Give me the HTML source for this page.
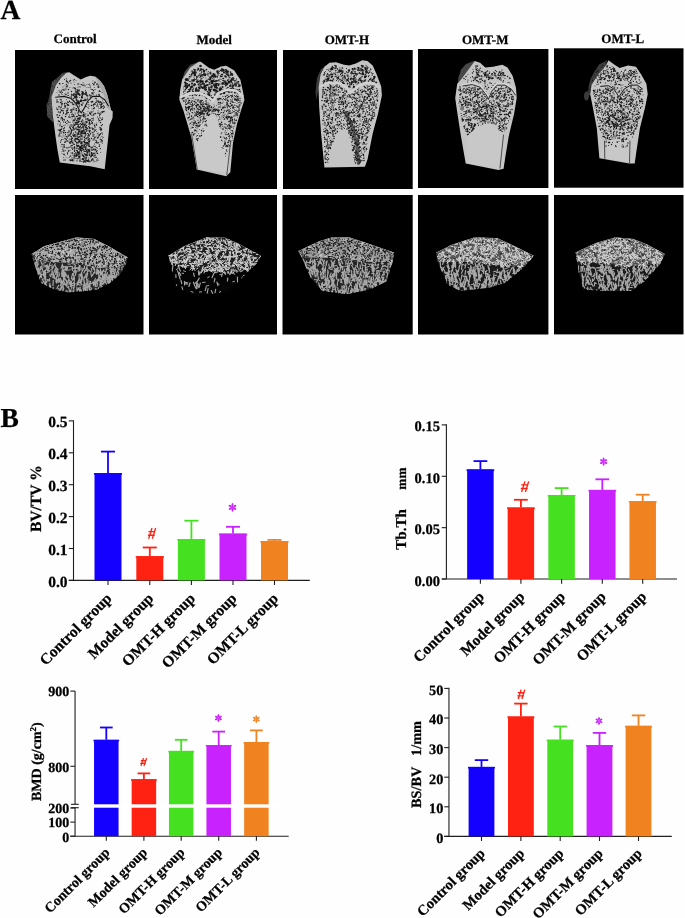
<!DOCTYPE html>
<html><head><meta charset="utf-8"><style>
html,body{margin:0;padding:0;background:#fff;}
svg{display:block;}
text{fill:#000;stroke:#000;stroke-width:0.25px;text-rendering:geometricPrecision}
svg{will-change:transform}
</style></head><body>
<svg width="685" height="918" viewBox="0 0 685 918">
<rect width="685" height="918" fill="#fefefe"/>
<text x="0.5" y="19.4" font-family="Liberation Serif" font-weight="bold" font-size="27.5">A</text>
<text x="75.1" y="43.1" font-family="Liberation Serif" font-weight="bold" font-size="13" text-anchor="middle">Control</text>
<text x="214.3" y="43.8" font-family="Liberation Serif" font-weight="bold" font-size="13" text-anchor="middle">Model</text>
<text x="346.9" y="44" font-family="Liberation Serif" font-weight="bold" font-size="13" text-anchor="middle">OMT-H</text>
<text x="485.2" y="44.4" font-family="Liberation Serif" font-weight="bold" font-size="13" text-anchor="middle">OMT-M</text>
<text x="622.8" y="42.5" font-family="Liberation Serif" font-weight="bold" font-size="13" text-anchor="middle">OMT-L</text>
<rect x="15" y="50" width="128.5" height="139.0" fill="#000"/>
<rect x="149" y="50" width="128.0" height="139.0" fill="#000"/>
<rect x="283" y="50" width="129.7" height="139.0" fill="#000"/>
<rect x="418" y="49" width="130.4" height="139.0" fill="#000"/>
<rect x="554" y="48.3" width="129.5" height="139.4" fill="#000"/>
<rect x="15" y="195" width="128.5" height="139.5" fill="#000"/>
<rect x="149" y="195" width="128.0" height="139.5" fill="#000"/>
<rect x="282.5" y="195" width="130.2" height="139.5" fill="#000"/>
<rect x="418" y="195" width="130.4" height="139.5" fill="#000"/>
<rect x="554" y="195" width="129.5" height="139.4" fill="#000"/>
<polygon points="69.3,72.2 62.8,72.8 56.8,78.2 52.0,81.8 48.4,100.9 46.6,104.5 47.2,116.5 53.2,122.5 51.4,97.3 64.0,74.6" fill="#4c4c4c"/>
<path d="M69 72h0m-5.5 1.5h0m-7 6h0m3 1h0m-6 0.5h0m6 1h0m-8 3h0m5.5 1h0m-1.5 2h0m-5 2.5h0m2.5-0.5h0m-1.5 2h0m2-0.5h0m-2 1.5h0m-1 2h0m-1 1.5h0m1.5 1.5h0m-2 1h0m2 0h0m-1.5 2.5h0m2.5 1.5h0m-5 1h0m1.5 0h0m2.5 5.5h0m0.5 5.5h0m-4 1.5h0m2 1.5h0m3 0h0" stroke="#222" stroke-width="1.20" stroke-linecap="round"/><path d="M64.5 73h0m-4 3h0m0 1h0m0.5 0h0m-1.5 0.5h0m0 2h0m0.5 0h0m0.5 0.5h0m-3 1h0m-5.5 5.5h0m5-0.5h0m-3 1h0m0 1h0m0.5 0h0m-3.5 3h0m0 3h0m-1 2h0m-0.5 1h0m-0.5 2.5h0m0.5 7h0m-2.5 1h0m1 5h0m1.5-1h0m-2.5 1.5h0m1.5 2.5h0m2.5 1.5h0m0.5 0.5h0" stroke="#222" stroke-width="0.60" stroke-linecap="round"/><path d="M58.5 78.5h0m-2.5 3.5h0m0 2.5h0m-3.5 1.5h0m-0.5 6.5h0m-2.5 2.5h0m-0.5 2.5h0m0 3.5h0m-2 3h0m0.5 0h0m1 0.5h0m0.5-1h0m2 0h0m1 5h0m-1 4h0m-1.5 3h0m1.5 4.5h0" stroke="#222" stroke-width="0.90" stroke-linecap="round"/>
<polygon points="66.0,73.0 69.3,72.2 74.7,75.8 80.7,79.4 86.0,77.0 90.3,75.8 95.1,76.4 99.9,80.6 104.0,86.0 107.0,93.7 109.5,104.0 111.0,110.0 112.8,111.5 112.5,118.0 111.0,121.5 109.5,125.0 108.3,136.9 106.5,153.0 104.7,169.2 90.3,166.2 59.8,162.6 57.5,150.0 55.6,136.9 53.0,117.0 51.4,97.3 56.0,85.0 61.0,78.0" fill="#c4c4c4"/>
<polygon points="95.1,76.4 99.9,80.6 104.0,86.0 107.0,93.7 109.5,104.0 111.0,110.0 107.0,108.0 104.5,97.0 100.0,87.0" fill="#a8a8a8"/>
<path d="M64.5 79.5h0m9 0.5h0m1-0.5h0m-8 1.5h0m3 0.5h0m25.5 0.5h0m-26.5 1h0m2.5 0h0m-11 1h0m3-0.5h0m18 1h0m1 0h0m2-0.5h0m5.5 0h0m3-0.5h0m1 1h0m3.5-1h0m1.5 1.5h0m-32 1.5h0m13.5 0h0m5-1h0m5 0h0m-23 1.5h0m11 0h0m2 0h0m10.5 0h0m8 0h0m0.5 0h0m-41.5 0.5h0m15.5 0.5h0m1-0.5h0m0.5 0.5h0m14.5-0.5h0m2 1.5h0m-32 1.5h0m5.5-0.5h0m21 0.5h0m7-1h0m2.5 0h0m-15.5 1.5h0m20 0h0m-39 1.5h0m2 0h0m15.5-1h0m16 1h0m-32.5 0.5h0m30 0h0m-29.5 1.5h0m9.5-0.5h0m2.5-0.5h0m0.5 0.5h0m4-0.5h0m5.5 1h0m-8.5 0.5h0m5 0h0m16 0h0m2.5 0h0m-30.5 0.5h0m11 0h0m11.5 1h0m8.5-1h0m-29.5 1.5h0m20.5 0h0m-8 3.5h0m2-0.5h0m-8 2.5h0m4-1h0m1.5 3.5h0m-3 2h0" stroke="#1a1a1a" stroke-width="1.10" stroke-linecap="round"/><path d="M66.5 78.5h0m0 0.5h0m3.5 1.5h0m6 0h0m17 0.5h0m-26 1h0m7 0h0m9 0.5h0m-20.5 1h0m12 1h0m4.5-0.5h0m2.5 0.5h0m5.5 0h0m1.5 0h0m-23.5 1.5h0m20 0.5h0m9-1h0m4 0.5h0m-35 1h0m36 0h0m-33 1h0m4-0.5h0m5.5 0.5h0m11.5-0.5h0m7.5 0h0m4 0h0m-33.5 1.5h0m1 0h0m-2.5 1.5h0m2.5-0.5h0m11-0.5h0m14.5 0h0m-34.5 3h0m24.5-1h0m1 1h0m16.5-1h0m1.5 0h0m1.5 1h0m-27 0.5h0m-10 0.5h0m11 1h0m6-1h0m-17 1.5h0m7 0h0m-4.5 0.5h0m14 1h0m6.5-0.5h0m-0.5 1h0m2.5 0h0m-16.5 1.5h0m1.5 0h0m4.5-1h0m5.5 0.5h0m-11 2.5h0m6.5 0h0m-3 0.5h0m0.5 3h0" stroke="#1a1a1a" stroke-width="0.70" stroke-linecap="round"/><path d="M70.5 80.5h0m-4 0.5h0m1 1h0m27.5 0.5h0m-35.5 1h0m7 1h0m11.5-0.5h0m16 0h0m3 0.5h0m-29.5 1.5h0m15.5-0.5h0m15 1.5h0m-23 1.5h0m0.5 0.5h0m-12.5 0.5h0m5.5 0h0m9 0.5h0m1 0.5h0m0.5-0.5h0m14.5 0.5h0m-32 0.5h0m14 0h0m24 0h0m-39.5 1h0m11.5-0.5h0m5.5 0h0m6 1h0m-15 0.5h0m24.5 0h0m-26.5 1.5h0m11-0.5h0m2.5 0.5h0m5.5-1h0m0.5 0.5h0m1 0h0m6.5 0h0m6 0.5h0m-40 0.5h0m12.5 0h0m2 0h0m16 0h0m1.5 0.5h0m-19.5 1.5h0m2 1.5h0m14 0.5h0m-4 1.5h0m1 0h0m1.5-0.5h0m-9 2.5h0m4.5 2h0m0.5 0.5h0" stroke="#1a1a1a" stroke-width="1.50" stroke-linecap="round"/>
<path d="M76 92.5h0m3 1.5h0m4.5-0.5h0m2 1h0m-3 0.5h0m-0.5 1h0m-1 4h0m-3 1.5h0m2 0h0m3 1.5h0m-3.5 3h0" stroke="#1a1a1a" stroke-width="1.40" stroke-linecap="round"/><path d="M82.5 92h0m3.5 0.5h0m-10 2h0m0.5 1.5h0m10.5-0.5h0m-10.5 4.5h0m9 0h0m-7 2h0" stroke="#1a1a1a" stroke-width="1.85" stroke-linecap="round"/><path d="M77.5 92.5h0m1 1.5h0m4 0h0m-9 1h0m1.5 2h0m1.5 0.5h0m5.5 0h0m-1 3.5h0m-3.5 1.5h0m0.5-1h0m0.5 1h0m-1.5 0.5h0m2 0.5h0" stroke="#1a1a1a" stroke-width="2.30" stroke-linecap="round"/>
<path d="M96 98.5h0m-39 1.5h0m4 0h0m37 1h0m-40 1h0m2.5 0.5h0m7-0.5h0m2-0.5h0m0 0h0m1.5 1h0m20.5-0.5h0m1-0.5h0m4 0.5h0m2 0h0m1.5 0h0m0.5 0h0m-28 1h0m-10.5 1.5h0m0 0h0m0-1h0m2.5 0h0m3 1h0m0.5 0h0m5 0h0m0.5 0h0m20 0h0m1-0.5h0m0.5 0h0m6 0.5h0m0.5-0.5h0m0.5-0.5h0m0 0.5h0m-4.5 1h0m-38.5 1.5h0m6 0h0m0-0.5h0m21 0.5h0m5.5-1h0m9.5 0.5h0m-35.5 1h0m36 0h0m2.5 0h0m-10.5 1.5h0m-36 1h0m4 1h0m1.5 0h0m4.5 0h0m0 0h0m3.5-0.5h0m5 0h0m0.5 0.5h0m-10 0.5h0m-8 1h0m2 0h0m6.5 0.5h0m4 0h0m21-0.5h0m11-0.5h0m1 0h0m-37 1.5h0m34 0h0m-35 1h0m6 0.5h0m11.5-0.5h0m0.5 0.5h0m6-1h0m0 0h0m4 0.5h0m1.5-0.5h0m4 0.5h0m-42.5 1h0m21.5 0h0m5.5 0h0m9.5 0h0m-34 0.5h0m6 1h0m6.5 0h0m1 0h0m3.5 0h0m2.5-1h0m1 0h0m3 0h0m0.5 1h0m4.5-1h0m-3 1.5h0m-23.5 0.5h0m0.5 1h0m16 0h0m2-0.5h0m12 0.5h0m-16.5 0.5h0m10.5 0h0m2 0h0m10.5 0h0m-36 1h0m1.5-0.5h0m12.5 1h0m6-0.5h0m6.5 0.5h0m1-0.5h0m9.5 0.5h0m2.5-1h0m-43.5 1.5h0m1 0.5h0m9 0.5h0m7.5 0.5h0m1 0h0m1-0.5h0m0 0.5h0m1-1h0m10.5 0.5h0m11 0.5h0m-25 0.5h0m14 0h0m-13.5 1.5h0m5.5 0h0m1-0.5h0m7.5 0h0m2-0.5h0m-32 1.5h0m36.5 0h0m-34.5 1.5h0m24.5-1h0m8 0h0m7 0h0m-28 1.5h0m21.5 0h0m-25 0.5h0m0.5 1h0m5.5-0.5h0m10.5 0h0m3-0.5h0m2.5 0.5h0m8-0.5h0m1 1h0m-39.5 0.5h0m12.5 0h0m19 0h0m-34 1h0m1 0h0m1-0.5h0m10.5 1h0m0.5-0.5h0m28.5-0.5h0m1 0h0m-41 1.5h0m26 0h0m-23 1.5h0m2 0h0m10-0.5h0m4-0.5h0m1.5 1h0m3-1h0m18 1.5h0m-42.5 1h0m11 0h0m8-0.5h0m3 0h0m4 0h0m14.5 1h0m-30.5 0.5h0m29.5 0h0m-40 1h0m9.5 0h0m6.5 0.5h0m6-0.5h0m-14 1h0m-2 1.5h0m22-0.5h0m2 0.5h0m2.5 0h0m3.5-1h0m2.5 0.5h0m0.5-0.5h0m-22 1.5h0m6 0h0m12 0h0m-15.5 0.5h0m6 0.5h0m3.5 0h0m8 0.5h0m5.5-0.5h0m0.5 0.5h0m-34.5 0.5h0m-2.5 1h0m6.5-0.5h0m0 0h0m4 0h0m9 0.5h0m0 0.5h0m1.5 0h0m0 0h0m3-1h0m7 1h0m2 0h0m-10.5 0.5h0m1.5 0h0m-27 1.5h0m25-1h0m-23 1.5h0m35.5 0h0m-27.5 0.5h0m7 1h0m2.5-1h0m2.5 1h0m0.5-1h0m10.5 1h0m-31 0.5h0m22 0h0m-19 1h0m5 0h0m13.5 0h0m-11 2h0m6-0.5h0m5 0h0m3.5 0.5h0m3 0h0m1.5-0.5h0m2 0h0m-32 1.5h0m5 0h0m6 0h0m3 0h0m0 1h0m0-0.5h0m1 1h0m10.5-1h0m7.5 0h0m-29 1.5h0m5 0h0m4.5 0h0m1.5 0h0m-14.5 1.5h0m21.5 0h0m1.5-0.5h0m4.5-0.5h0m6 0h0m-15 1.5h0m-12 1h0m5.5 0.5h0m2.5 0h0m1.5-0.5h0m3-0.5h0m3 0h0m5.5 0h0m0.5 0h0m3 0h0m-21 2.5h0m12-0.5h0m0 0h0m10 0h0m-16 1.5h0m5.5 0h0m-20.5 1h0m5 0h0m0.5 0h0m0 0.5h0m1.5 0h0m11.5-1h0m9.5 0.5h0m-13 1h0m3.5 1h0m1-0.5h0m1 0.5h0m4.5-0.5h0" stroke="#1a1a1a" stroke-width="1.50" stroke-linecap="round"/><path d="M95 98h0m-34 1h0m-1 0.5h0m6.5 0h0m36 0.5h0m-46 2.5h0m32 0h0m0 0h0m2.5-1h0m1 0.5h0m1 0h0m7 0.5h0m0-1h0m3 0.5h0m1 0.5h0m-38.5 0.5h0m38.5 0h0m-29.5 1h0m13.5 0.5h0m1 0h0m6 0h0m2.5-1h0m-36 1.5h0m3 0h0m0 0h0m11 0h0m-10 0.5h0m1.5 0h0m2 0h0m24 0h0m-32 1.5h0m-2 0.5h0m1.5 0h0m1 0h0m1.5 1h0m0 0h0m4.5-0.5h0m21 0.5h0m6-1h0m4 0.5h0m2-0.5h0m0.5 0h0m-44 1.5h0m2 0h0m14.5 0h0m18.5 0h0m-24 0.5h0m3 0h0m1 0.5h0m2 0h0m4.5 0h0m19.5 0.5h0m-25.5 0.5h0m21 0h0m-33.5 1.5h0m3-1h0m25 0h0m1.5 1h0m2-0.5h0m7.5 0h0m2.5-0.5h0m-29 1.5h0m12 0h0m-27 1.5h0m8 0h0m10-0.5h0m11.5 0h0m4.5 0h0m-29 1h0m20.5 0h0m5.5 0h0m-14.5 1.5h0m7.5-0.5h0m3-0.5h0m0.5 0h0m1 1h0m-16 0.5h0m11 0h0m-18.5 1h0m0 0.5h0m0-0.5h0m7-0.5h0m5.5 0h0m27.5 0h0m-42 1.5h0m11.5 0h0m2.5 0h0m19 0h0m8.5 0h0m-39.5 1.5h0m10.5 0h0m1-1h0m5.5 0.5h0m6.5 0h0m2.5 0.5h0m3.5 0h0m1 0h0m8 0h0m-17.5 0.5h0m15 0h0m-34.5 1h0m14 0.5h0m7.5-1h0m2 1h0m-1.5 0.5h0m10.5 0h0m-38.5 1h0m8.5-0.5h0m9.5 1h0m7.5 0h0m5.5 0h0m1-0.5h0m3 0h0m2 0h0m-29.5 1h0m2.5 0h0m5 0h0m0.5 0h0m16 0h0m-29.5 1h0m13.5 0h0m1.5-0.5h0m9.5 0h0m-15 1.5h0m1 1.5h0m4.5 0h0m19 0h0m-1 0.5h0m7 0h0m-42 1h0m1.5 0.5h0m4.5-0.5h0m4.5 0.5h0m2.5-1h0m0 0h0m7 0h0m0.5 0.5h0m0-0.5h0m4.5 1h0m9.5-1h0m1.5 0.5h0m-6 1h0m-28.5 1h0m0.5 0h0m11-0.5h0m10.5 1h0m4.5-1h0m7 1h0m0.5-0.5h0m3-0.5h0m-36 1.5h0m21.5 0h0m-5.5 1h0m2 0h0m6-0.5h0m1.5 0.5h0m2.5-0.5h0m0 1h0m4-0.5h0m1 0h0m4-0.5h0m5 1h0m-39.5 0.5h0m11.5 0h0m0 0h0m3 0h0m19.5 0h0m-36.5 1h0m5 0h0m2 0h0m8.5 0.5h0m1-1h0m5.5 0.5h0m7 0h0m3 0h0m1 0h0m2.5 0.5h0m-29 2h0m0.5-0.5h0m4-0.5h0m7 0.5h0m22 0h0m2 0h0m1-0.5h0m-38 1.5h0m0.5 1h0m13.5 0.5h0m14.5-0.5h0m6-0.5h0m1 0.5h0m-35 1h0m0.5 0h0m7.5 0h0m27.5 0h0m-37 1.5h0m4.5-1h0m1 1h0m17.5 0h0m2-1h0m7 1h0m3.5-0.5h0m1 0h0m0.5 0h0m-32 1h0m9 0h0m-15.5 1.5h0m1.5 0h0m17.5 0h0m6.5 0h0m8.5-1h0m-8 1.5h0m-28 1.5h0m3.5 0h0m7-0.5h0m0.5-0.5h0m13 0.5h0m14 0.5h0m-30 0.5h0m-3 0.5h0m2.5 0h0m27.5 0.5h0m0.5-0.5h0m1 0.5h0m-35 1h0m0.5 0h0m17 0h0m13.5 0h0m6.5 0h0m-37.5 0.5h0m1.5 0.5h0m1.5 0.5h0m3.5-0.5h0m11.5 0h0m7.5-0.5h0m4 1h0m2.5 0h0m1.5 0h0m1.5 0h0m-32.5 0.5h0m-3 0.5h0m6.5 0h0m9.5 1h0m6.5-1h0m0.5 0h0m6.5 1h0m4.5 0h0m4.5 0h0m-29.5 0.5h0m16 0h0m-25 0.5h0m2 0.5h0m3.5-0.5h0m17 0h0m0.5 0.5h0m10.5 0h0m-23 1h0m-7.5 0.5h0m14 1h0m5 0h0m10-1h0m-20 1.5h0m4.5 0h0m6.5 0h0m11 0h0m-32.5 0.5h0m2.5 0h0m2 0.5h0m4-0.5h0m0 1h0m4 0h0m0 0h0m14-0.5h0m4.5-0.5h0m3 1.5h0m0.5 0h0m-26.5 1h0m5.5 0.5h0m3 0h0m5 0h0m3 0h0m-8 0.5h0m1.5 0.5h0m7.5 0.5h0" stroke="#1a1a1a" stroke-width="0.70" stroke-linecap="round"/><path d="M96.5 100h0m-27 1h0m28.5 0h0m-41 0.5h0m4.5 0.5h0m0.5-0.5h0m6.5 1h0m27 0h0m3.5 0h0m2.5 0h0m-39.5 1h0m4.5 0h0m33 0.5h0m0.5 0h0m-32.5 1h0m33.5 0h0m-39.5 1h0m7-0.5h0m20.5 0.5h0m4.5 0h0m3 0h0m1.5 0.5h0m4.5 0h0m1-1h0m-2 1.5h0m3 0h0m-48 1h0m8 0h0m3.5 0.5h0m6-1h0m2 1h0m0.5 0h0m11.5-1h0m6.5 0.5h0m5.5 0.5h0m2-0.5h0m1.5 0.5h0m-43 0.5h0m6.5 0h0m6 0h0m1 0h0m-12.5 1h0m9.5 0.5h0m1-1h0m6.5 1h0m-15 2h0m4.5 0h0m0.5 0h0m3-1h0m6.5 1h0m0-0.5h0m0.5-0.5h0m0.5 0h0m0 0.5h0m4.5 0.5h0m7-0.5h0m12 0.5h0m0-0.5h0m-42.5 1h0m3.5 0h0m11.5 0h0m22.5 0h0m1 0h0m-35 0.5h0m3.5 0.5h0m6.5 0.5h0m4.5-1h0m7.5 0.5h0m4.5-0.5h0m0.5 1h0m0-1h0m10 1h0m-31 0.5h0m-0.5 1.5h0m4.5-1h0m1 0.5h0m2 0.5h0m1 0h0m3-0.5h0m0.5-0.5h0m11 0h0m7.5 0h0m-41.5 1.5h0m10.5 0h0m29 0h0m2 0h0m-42 0.5h0m1 0h0m11.5 0h0m9 0h0m8.5 1h0m6-0.5h0m7 0h0m-13 1h0m15 0h0m-38 1h0m3 0.5h0m21-0.5h0m1.5 0h0m0.5 0h0m2.5 0h0m-26 1h0m14.5 0h0m6 0h0m-24 1h0m2 0h0m0 0.5h0m4.5 0h0m12-0.5h0m4.5-0.5h0m5 0h0m0.5 1h0m0.5 0h0m-32 0.5h0m0 0h0m23.5 0h0m2 0h0m-19 0.5h0m10 0.5h0m2.5 0h0m1-0.5h0m8.5 0h0m0.5 0h0m7 1h0m6 0h0m-30.5 0.5h0m8.5 0h0m0 0h0m-19 1.5h0m2.5-1h0m6 0.5h0m1 0h0m17.5 0.5h0m13-1h0m-39.5 1.5h0m20.5 0h0m7 0h0m-26 1.5h0m1-0.5h0m0-0.5h0m9 1h0m3.5-0.5h0m3-0.5h0m1.5 0h0m5 0h0m3.5 0.5h0m-29.5 2.5h0m3-0.5h0m1 0.5h0m15.5-1h0m10 0.5h0m4.5 0h0m1 0.5h0m0.5-1h0m5 1h0m-37 0.5h0m5.5 0h0m-7.5 0.5h0m1.5 1h0m5-0.5h0m3-0.5h0m7 1h0m0.5-1h0m3.5 0h0m7 0h0m1.5 0.5h0m1.5 0.5h0m2-1h0m-33 1.5h0m2.5 0h0m14 0h0m20 0h0m-32.5 1.5h0m2.5-0.5h0m13-0.5h0m4.5 0h0m2 0h0m3 0.5h0m3.5 0.5h0m6.5-1h0m-41.5 1.5h0m5 1h0m2.5 0.5h0m5 0h0m2-0.5h0m1.5-0.5h0m2 0.5h0m2.5 0.5h0m1.5-0.5h0m4 0.5h0m8-0.5h0m1 0h0m5 0h0m0.5-0.5h0m2.5 1h0m-40 0.5h0m16 0h0m20.5 0h0m-20 0.5h0m16 0.5h0m-23 1h0m-10.5 1.5h0m0.5-1h0m1.5 0h0m3.5 0h0m5 0.5h0m0.5 0.5h0m2.5-0.5h0m0.5 0h0m0.5 0h0m4.5 0h0m13 0h0m8-0.5h0m-40 1.5h0m18 0h0m23.5 0h0m-42 1.5h0m5-0.5h0m19-0.5h0m0.5 1h0m11.5-1h0m1.5 1.5h0m4.5 0h0m-28 1.5h0m0 0h0m14-1h0m0.5 1h0m5.5-0.5h0m-7 1h0m-17 1h0m23 0h0m6 0.5h0m-36.5 0.5h0m1.5 0h0m26 0h0m-20.5 0.5h0m3 0.5h0m3 0h0m9-0.5h0m15.5 1h0m-10.5 0.5h0m4.5 0h0m-24.5 1.5h0m2.5-1h0m6.5 0h0m1 1h0m7-0.5h0m2 0h0m7 0h0m-14.5 1h0m-7 0.5h0m9.5 0h0m1.5 0h0m0 0h0m-13.5 1.5h0m17 0h0m8 0h0m-29.5 1h0m17.5 0.5h0m1.5 0h0m5.5 0h0m0-1h0m-0.5 1.5h0m-14 0.5h0m1 1h0m5 0h0m9-1h0m1.5 1h0m-24.5 0.5h0m8.5 1.5h0m1.5-1h0m13.5 1h0m-9.5 0.5h0m-20 1h0m10.5 0h0m9.5 0h0m1.5 0.5h0m11.5-0.5h0m1.5 0.5h0m-25 0.5h0m4 0h0m11 0h0m6 0h0m-11 0.5h0m6 0h0" stroke="#1a1a1a" stroke-width="1.10" stroke-linecap="round"/>
<path d="M74 120.5h0m-1.5 1.5h0m1.5 0h0m1.5 0.5h0m9.5-0.5h0m-1 1h0m-10.5 1h0m2.5 0.5h0m7.5-0.5h0m-9 1h0m-2.5 1.5h0m6.5-1h0m7 1h0m0.5-0.5h0m-12 4h0m1-0.5h0m4 0.5h0m5 0.5h0m0.5-0.5h0m-5 1h0m-12 1.5h0m9.5 0h0m1.5-1h0m0.5 0.5h0m2.5-0.5h0m4 1h0m4 0h0m-11.5 2h0m0-0.5h0m0.5 0.5h0m3 0.5h0m1 0h0m6.5 0h0m0.5 0h0m-16 1.5h0m8-1h0m6.5 0h0m1 0.5h0m-14 2h0m2.5 0h0m-8 1h0m15 0h0m-15.5 1h0m5 0h0m1-0.5h0m4 0.5h0m1 0h0m5 0.5h0m4-1h0m1 0.5h0m-17 2h0m4 0h0m1.5-0.5h0m0 0.5h0m1 0.5h0m-7 0.5h0m4 1.5h0m7.5-0.5h0m3 0.5h0m0 0.5h0m-12.5 2h0m0 1.5h0m4 0h0" stroke="#1a1a1a" stroke-width="0.80" stroke-linecap="round"/><path d="M74 120h0m4 0.5h0m8.5 2h0m-4 0.5h0m0 0h0m-11.5 1.5h0m3.5-0.5h0m2.5-0.5h0m5 1h0m2 0h0m1 0.5h0m-10.5 0.5h0m3.5 1h0m1 0h0m1.5 0h0m3.5 0h0m-1 0.5h0m-3.5 0.5h0m1.5 1h0m4.5-1h0m2 1h0m-14.5 1.5h0m13-0.5h0m2 0.5h0m2 0.5h0m-21 1.5h0m2.5 0h0m12.5 0.5h0m-10.5 0.5h0m6.5 0h0m-2.5 1h0m1.5 0.5h0m1.5 0h0m10-1h0m-20 2.5h0m7.5 0.5h0m3.5 0h0m-2 0.5h0m3.5 0h0m1.5 0h0m-12 1h0m8 0h0m4-0.5h0m-13.5 1.5h0m6 0h0m0.5 0h0m-6.5 0.5h0m7 0h0m3 0h0m8 0h0m-19.5 3h0m1-1h0m1.5 0.5h0m0.5 0.5h0m4 0h0m1.5 0h0m1.5-1h0m2.5 0h0m4.5 1.5h0m-12 4h0m5 0h0m1.5 0h0m2 0h0m-9 1h0m7 0h0m2-0.5h0" stroke="#1a1a1a" stroke-width="1.25" stroke-linecap="round"/><path d="M78 118.5h0m2-0.5h0m-2 1h0m1.5 0h0m-5.5 1.5h0m4.5 1h0m3 0h0m-3.5 3h0m7 0h0m-7 2h0m5-0.5h0m-10 1.5h0m6 0h0m4.5 0.5h0m3-0.5h0m3 0.5h0m-12.5 1.5h0m1 0h0m0 0h0m1 0.5h0m4.5 0h0m0 0h0m2.5-0.5h0m-5 1.5h0m1 0h0m0.5 0h0m7 0h0m-7.5 1h0m3 0.5h0m-14 0.5h0m11.5 0h0m-7.5 1.5h0m9-1h0m-11 1.5h0m12.5 0h0m3 0h0m-14.5 0.5h0m14 1.5h0m-16 1.5h0m3.5 0h0m1.5 0h0m9 0h0m-6.5 2.5h0m10 0h0m-8.5 1h0m3-0.5h0m3 1h0m0 0h0m2-1h0m-18.5 1.5h0m6.5 0h0m5 0h0m-8.5 1h0m7.5-0.5h0m4.5 0.5h0m-1.5 1h0m-7 0.5h0m1.5 0h0m3.5 0h0m-1.5 2.5h0m1.5 0.5h0" stroke="#1a1a1a" stroke-width="1.70" stroke-linecap="round"/>
<path d="M86 146.5h0m0.5-1h0m-9.5 1.5h0m-2.5 0.5h0m5 0h0m3 1h0m4 0.5h0m1 0h0m4 0h0m-14.5 1.5h0m3.5 0h0m2-0.5h0m1.5 0.5h0m0-0.5h0m-4 1h0m9 0h0m-13.5 1.5h0m10-1h0m-4.5 1.5h0m0.5 0h0m1.5 0h0m6.5 0h0m2.5 0h0m-18 1h0m4-0.5h0m0.5 0.5h0m2 0h0m3.5 0h0m-2 1h0m4 0h0m1 0h0m-13 1h0m0.5 1h0m10 0h0m-6.5 1.5h0m10.5-0.5h0m-11 1h0m9 1.5h0m2-0.5h0m0 0h0m3-0.5h0m0.5 0h0m2 2.5h0m2-0.5h0" stroke="#1a1a1a" stroke-width="0.80" stroke-linecap="round"/><path d="M82 146h0m7.5 0.5h0m-15 0.5h0m7 0h0m-4.5 1.5h0m3.5-0.5h0m0.5 0.5h0m2-0.5h0m2-0.5h0m-8.5 3h0m7-1h0m3 1h0m3 0.5h0m-10 1h0m-4.5 1.5h0m3.5 0.5h0m-2.5 1.5h0m0.5 0h0m7.5 2.5h0m0 0.5h0m2.5-0.5h0m6 1h0m-10 0.5h0m9 1h0m-6.5 0.5h0" stroke="#1a1a1a" stroke-width="1.30" stroke-linecap="round"/><path d="M77.5 146h0m11.5 0h0m-8.5 1h0m-0.5 1.5h0m12-1h0m-10.5 3h0m7-0.5h0m1 1h0m0 0h0m-10.5 1.5h0m8-1h0m0.5 1h0m4 0.5h0m-15 1.5h0m2.5-0.5h0m15-0.5h0m-17 1.5h0m12.5 0h0m3 0h0m-18 0.5h0m4.5 1h0m4.5-0.5h0m3.5-0.5h0m0 0h0m4 1h0m-11.5 0.5h0m3 2h0m-10 1h0m14 0.5h0m2 0h0m-1 0.5h0" stroke="#1a1a1a" stroke-width="1.80" stroke-linecap="round"/>
<polyline points="55.6,97.3 64.0,96.4 71.1,98.5 75.9,103.3 79.5,110.5 81.3,112.9 84.3,108.1 87.9,100.9 92.7,96.4 99.9,96.4 104.7,99.7 108.3,105.7" fill="none" stroke="#151515" stroke-width="1.1" stroke-linejoin="round" stroke-linecap="round"/>
<polygon points="198.8,61.7 190.1,65.0 184.7,71.7 182.1,79.8 183.4,83.8 188.8,73.1 196.8,65.0" fill="#4a4a4a"/>
<polygon points="200.8,61.7 208.9,67.7 214.2,69.7 220.9,66.4 226.3,65.7 234.3,70.4 240.4,79.8 243.0,91.8 244.4,99.9 241.0,110.6 237.0,124.0 233.0,142.8 230.3,172.2 226.3,176.3 196.8,169.6 191.4,137.4 183.4,110.6 179.4,99.9 180.1,90.5 182.1,79.8 190.1,67.7 198.8,61.7" fill="#c4c4c4"/>
<path d="M198.5 68.5h0m-4 1.5h0m1 0h0m2 0h0m1-0.5h0m4.5 0h0m3.5 0h0m17 0h0m3 0.5h0m-34.5 1h0m30 0h0m-29.5 1h0m2-0.5h0m23 1h0m9.5-0.5h0m-35.5 2.5h0m0.5-1h0m8 0.5h0m3.5 0.5h0m4.5-0.5h0m14.5 0.5h0m5.5-0.5h0m4.5 0.5h0m-38 0.5h0m9 0h0m24 0h0m5 0h0m-41.5 1h0m9.5 0.5h0m11.5 0h0m9 0h0m4 0h0m1 0h0m-2.5 2h0m9-0.5h0m-36 1h0m4.5 0h0m-15 0.5h0m1.5 0.5h0m4.5 0h0m2-0.5h0m12.5 1h0m3-1h0m3 1h0m1 0h0m3.5 0h0m2-0.5h0m4 0.5h0m4.5 0h0m5.5-1h0m2 1h0m-43 0.5h0m19.5 0h0m12.5 0h0m-34 0.5h0m8.5 0h0m7 0h0m1 0h0m8 0h0m24 0.5h0m-15 1h0m4.5 0h0m9 0h0m-47.5 1.5h0m11.5 0h0m13-0.5h0m5 0h0m6 0.5h0m13.5-0.5h0m-45 1h0m23 0h0m17.5 0h0m-49 1.5h0m1.5 0h0m8-1h0m6 0.5h0m0.5 0.5h0m4 0h0m7-0.5h0m6.5-0.5h0m7.5 0h0m4.5 0h0m2 0.5h0m1 0h0m0-0.5h0m5.5 1h0m-37.5 0.5h0m0 0h0m9.5 0h0m5.5 0h0m-30.5 1h0m0.5 0h0m10 0h0m12.5-0.5h0m8 1h0m4.5 0h0m5 0h0m1.5-1h0m2.5 1h0m-45 1h0m4 0h0m0 1h0m3-0.5h0m3 0h0m13.5 0h0m6.5 0h0m0 0.5h0m4-1h0m3.5 0.5h0m3-0.5h0m2 0.5h0m10 0h0m-48 1h0m20 0h0m10 0h0m-32.5 1h0m2-0.5h0m6 0.5h0m12-0.5h0m3 0h0m10 0h0m5.5 0h0m3 1h0m3-1h0m4.5 1h0m2-0.5h0m-51 1h0m8.5 0h0m0.5 0h0m22.5 0h0m-19 1.5h0m4-1h0m4 0.5h0m7 0h0m5.5 0h0m0.5 0h0m0.5-0.5h0m-22 2h0m3 0h0m0 0h0m5 1h0m1.5-0.5h0m1 0h0m-3.5 2.5h0m5-1h0m0 1h0" stroke="#1a1a1a" stroke-width="1.60" stroke-linecap="round"/><path d="M197.5 68h0m5.5 1h0m22 1.5h0m1 0h0m-7 0.5h0m-25 1.5h0m0-0.5h0m13 0h0m1.5-0.5h0m11 0h0m2.5 0h0m-20.5 1.5h0m7.5 0h0m-19.5 1.5h0m16.5 0h0m1.5-0.5h0m2.5 0h0m0.5 0h0m1.5 0.5h0m7.5-1h0m7 1h0m-28 0.5h0m9 0h0m-9.5 1h0m0.5 0h0m1.5-0.5h0m8.5 0.5h0m22-0.5h0m-41.5 1.5h0m13 0h0m26.5 0h0m-39 1h0m5 0.5h0m9-1h0m2.5 0.5h0m6.5 0.5h0m1-1h0m4 0h0m2.5 0.5h0m2.5 0.5h0m1 0h0m9.5-0.5h0m-44 1h0m-3.5 1h0m12.5-0.5h0m13.5 0.5h0m21-0.5h0m-25 1.5h0m4.5 0h0m24.5 0h0m-31 0.5h0m3 0.5h0m7 0h0m4.5-0.5h0m4 1h0m7.5 0h0m3.5-0.5h0m2.5-0.5h0m-34.5 1.5h0m0 0h0m0.5 0h0m6 0h0m0.5 0h0m1.5 0h0m20.5 0h0m-39 1h0m7 0.5h0m9-0.5h0m6.5 0h0m2-0.5h0m0.5 0h0m12.5 1h0m2.5-0.5h0m3.5 0h0m-49.5 1h0m24 0h0m21.5 0h0m3 0h0m-48.5 0.5h0m31 0h0m13.5 0.5h0m1.5-0.5h0m3.5 0h0m3 0.5h0m-31 1h0m1.5 0h0m10.5 0h0m-37 1h0m10 0h0m3 0h0m6 0h0m1-0.5h0m0 0.5h0m2 0h0m13.5 0.5h0m8.5-0.5h0m-15.5 1h0m2.5 0h0m5.5 0h0m-36 1h0m4.5-0.5h0m0.5 0h0m16.5 0h0m4.5 0h0m1.5 0h0m9 0h0m0.5 0h0m4.5 0.5h0m-16.5 1h0m-25.5 0.5h0m0 1h0m9.5-1h0m22 0h0m1 0.5h0m14.5 0h0m1.5 0.5h0m3 0h0m1-0.5h0m-26 1h0m12 0h0m-35.5 1.5h0m6.5-1h0m2 1h0m8-0.5h0m4.5 0h0m12.5 0h0m-4.5 1h0m-13 0.5h0m9 0h0m3.5 0h0m-9.5 1.5h0m2.5 0h0m-2 0.5h0m5.5 0.5h0m1.5 0h0m-3.5 1h0m1.5 1.5h0" stroke="#1a1a1a" stroke-width="0.80" stroke-linecap="round"/><path d="M200.5 65.5h0m-0.5 5h0m6-0.5h0m19.5-0.5h0m1 0.5h0m-27 1h0m28 0h0m-17 1h0m20 0.5h0m-38 0.5h0m11.5 0h0m24 0h0m-13 1h0m-23 1h0m8 0h0m22 0h0m8 0h0m1.5 0h0m1 0h0m-43 1.5h0m7 0h0m0 0h0m3.5-1h0m1.5 0h0m0.5 1h0m0 0h0m10-0.5h0m1.5-0.5h0m4 1h0m7.5-1h0m-34.5 1.5h0m3.5 0h0m35.5 0h0m-33 0.5h0m3.5 0h0m2 1h0m12-1h0m12 0h0m4 0h0m1.5 1h0m1.5-1h0m0.5 1h0m0.5 0h0m-45.5 0.5h0m20 0h0m5.5 0h0m15 0h0m4 0h0m3.5 0h0m-50 1.5h0m1-1h0m0.5 1h0m6 0h0m1.5-1h0m12.5 0h0m6 0.5h0m4 0.5h0m3-1h0m12 0.5h0m1 0.5h0m-16 0.5h0m-12 1h0m1-0.5h0m2.5 1h0m15.5-1h0m10 0.5h0m2 0.5h0m1.5-1h0m-52 1.5h0m36 0h0m10 0h0m-47 1h0m2-0.5h0m0.5 1h0m6.5-1h0m3.5 0.5h0m1.5-0.5h0m2.5 1h0m7 0h0m1-0.5h0m5 0h0m3.5 0.5h0m1.5-0.5h0m12 0h0m3-0.5h0m-48.5 1.5h0m17.5 0h0m-20 1.5h0m4.5-1h0m1 0h0m3.5 0.5h0m6 0.5h0m0-1h0m13 0.5h0m2.5-0.5h0m11 0.5h0m10 0h0m1.5 0.5h0m-32 0.5h0m-18.5 1.5h0m4-1h0m8 0h0m3 0h0m5 0h0m8 0h0m3 0h0m2.5 0h0m-27 1.5h0m0.5 0h0m27 0h0m-24 1.5h0m30-1h0m-42 1.5h0m0.5 0h0m31.5 0h0m4.5 0h0m13.5 0h0m1.5 0h0m4 0h0m-47 0.5h0m15 0.5h0m7.5 0h0m2-0.5h0m6 1h0m1.5-0.5h0m6.5 0h0m3 0.5h0m5-1h0m1 0.5h0m-52 1h0m4 0h0m4 0h0m4.5 0h0m16 0h0m4 0h0m-23.5 1h0m20.5-0.5h0m2.5 0.5h0m-30.5 1.5h0m6.5 0h0m6 0h0m2.5 1h0m12-1h0m-4 2.5h0m1.5 0h0m-4 2.5h0m0-1h0" stroke="#1a1a1a" stroke-width="1.20" stroke-linecap="round"/>
<path d="M194 69.5h0m26.5 1h0m-26 2h0m7-0.5h0m29 0h0m-26.5 1h0m17.5 1.5h0m4.5-1h0m1 1h0m4-0.5h0m0.5 0h0m-13.5 1h0m-3.5 0.5h0m6 0.5h0m1.5 0.5h0m-24.5 0.5h0m13 1.5h0m21 0.5h0m-43.5 1.5h0m40-0.5h0m-21 1h0m18 0h0m-27.5 1h0m8.5 0h0m-7.5 2.5h0m3 0h0m1-1h0m20.5 0.5h0m2.5-0.5h0m-11.5 1.5h0m-24.5 1h0m13 1.5h0m2 1.5h0m16.5 0h0m14.5 0.5h0m4 0h0m-11.5 1.5h0m-39.5 0.5h0m4.5 0h0m4.5 1h0m21 0h0m-26.5 0.5h0m43 0h0m-51 1.5h0m31 0.5h0m-22.5 0.5h0m15 0.5h0m5.5 2h0m0 2h0" stroke="#1a1a1a" stroke-width="1.60" stroke-linecap="round"/><path d="M200.5 66h0m0.5 3.5h0m21 0h0m1.5 1h0m-19.5 0.5h0m-8.5 1.5h0m22-1h0m9.5 0.5h0m-33.5 1h0m11.5 1.5h0m26.5-0.5h0m-36.5 1h0m10 0h0m7.5 1h0m1.5-0.5h0m0.5 0h0m1 1h0m-5 1h0m-24.5 2h0m7.5 1h0m7 0.5h0m30.5 0h0m-33.5 0.5h0m5 0h0m9 0h0m14 1h0m3.5-0.5h0m-17 1h0m4.5 1h0m6-0.5h0m4.5 0.5h0m8.5 0.5h0m-30.5 1.5h0m9.5-0.5h0m1 0.5h0m0.5-0.5h0m23.5 0h0m-52.5 1.5h0m4.5 0h0m13 0h0m-5 1h0m4-0.5h0m17 1.5h0m-24 1.5h0m2 0h0m7-1h0m4.5 0.5h0m4 0h0m0.5 0h0m5.5 0.5h0m8.5 0.5h0m-11 1h0m3 0h0m3.5 1h0m-15 2h0m-25.5 2.5h0" stroke="#1a1a1a" stroke-width="2.60" stroke-linecap="round"/><path d="M224 72.5h0m2-1h0m2 0h0m-17.5 1.5h0m7.5 0h0m-4.5 1h0m-11.5 1h0m12 0.5h0m14.5 0h0m-41.5 3.5h0m23 0.5h0m21.5 0.5h0m-15.5 1h0m-31 1.5h0m12-1h0m3.5 1h0m12.5-1h0m16.5 1h0m-43.5 1h0m6 0h0m3 1h0m9-0.5h0m-18.5 1h0m22 0h0m-22 0.5h0m2.5 0h0m4 1h0m14-1h0m9.5 0.5h0m14.5 0h0m-7.5 1h0m10 0h0m-30 1h0m9-0.5h0m4.5 0h0m-25.5 1.5h0m5.5 0h0m13 0h0m22.5 0h0m2 0h0m-27.5 0.5h0m10.5 1h0m20-0.5h0m-27.5 3h0m-24 1.5h0m8-1h0m2 1h0m0.5 0h0m42.5-1h0m-33 2.5h0m0.5-0.5h0m1 0.5h0m-24 2.5h0m28 0.5h0" stroke="#1a1a1a" stroke-width="2.10" stroke-linecap="round"/>
<path d="M232.5 95h0m-9.5 1.5h0m5.5 0h0m2-1h0m1 0h0m1 1h0m2-1h0m1 1h0m1-0.5h0m-8 1h0m5.5 0h0m-10.5 1.5h0m2.5 0h0m1.5-1h0m9.5 0h0m1.5 0.5h0m1.5 0.5h0m-12.5 0.5h0m5 0h0m5 0h0m-45.5 1.5h0m4-1h0m6.5 1h0m16.5-0.5h0m5.5-0.5h0m1 0.5h0m0.5-0.5h0m5 0.5h0m0 0h0m6-0.5h0m3 0.5h0m-47 1h0m4.5 0h0m2.5 0h0m27 0h0m1.5 0h0m4 0h0m5 0h0m-52 1.5h0m5.5 0h0m3.5-1h0m5.5 1h0m1.5-1h0m0 0h0m17 1h0m8.5 0h0m4-1h0m-24.5 1.5h0m1.5 0h0m22.5 0h0m-44.5 1h0m1 0h0m1-0.5h0m2 0.5h0m1 0.5h0m1.5-0.5h0m0-0.5h0m1.5 1h0m0.5-0.5h0m4 0.5h0m20.5 0h0m3-1h0m5 0.5h0m-35.5 1h0m43 0h0m-49 1.5h0m4 0h0m1.5 0h0m1.5-1h0m5.5 0h0m5.5 1h0m0.5 0h0m3 0h0m2.5-0.5h0m15 0h0m1.5 0h0m10.5 0h0m1.5 0h0m-45.5 1h0m4 0h0m8 0h0m3.5 0h0m3.5 0h0m7 0h0m15 0h0m5 0h0m-53 0.5h0m4.5 0.5h0m4 0h0m3.5 0.5h0m1-0.5h0m8.5 0h0m4-0.5h0m1 0.5h0m1.5-0.5h0m1.5 1h0m8-0.5h0m2-0.5h0m5.5 1h0m2-0.5h0m0-0.5h0m2.5 0h0m-38 1.5h0m8 0h0m8 0h0m5 0h0m-29.5 0.5h0m2 0.5h0m2.5 0h0m6-0.5h0m3 1h0m1 0h0m5 0h0m6-1h0m1 1h0m1 0h0m0.5-1h0m1.5 0h0m3.5 0.5h0m4.5 0.5h0m1.5-0.5h0m1.5-0.5h0m0 0h0m-38.5 1.5h0m15.5 0h0m18.5 0h0m2 0h0m-38.5 1h0m4 0.5h0m0.5 0h0m2.5 0h0m2.5-0.5h0m2 0.5h0m2.5-0.5h0m13-0.5h0m6.5 1h0m5-1h0m4.5 1h0m5 0h0m3 0h0m-27 0.5h0m8.5 0h0m-24 0.5h0m1.5 0.5h0m0.5 0h0m4 0h0m0.5 0h0m0.5 0h0m4 0.5h0m6-1h0m2.5 1h0m1.5 0h0m1.5 0h0m0.5 0h0m5.5-0.5h0m4-0.5h0m1 0h0m1 0h0m4.5 1.5h0m2.5 0h0m-48.5 1h0m5.5-0.5h0m0 0.5h0m0 0h0m1.5-0.5h0m3.5 0h0m7 0h0m16 0.5h0m1-0.5h0m2.5 0.5h0m3 0.5h0m4-0.5h0m-40 1h0m7 0h0m19 0h0m-27.5 1h0m8 0h0m0-0.5h0m23.5 0h0m3.5 0.5h0m-36.5 1h0m0 0h0m1 0h0m0.5 0h0m12.5 0h0m0.5 0h0m1 0h0m28.5 0h0m-44.5 0.5h0m29 0h0m12 0.5h0m3.5 0h0m2 0h0m-41.5 1h0m-3 1h0m3 0.5h0m8-0.5h0m18.5 0h0m8.5-0.5h0m-27.5 1.5h0m30 0h0m-43 1h0m5.5-0.5h0m1.5 0h0m23.5 1h0m-23 1h0m2 1h0m0-1h0m30 0h0m-5 1.5h0m7 0h0m2 0h0m-36 1h0m31.5 0h0m-5.5 1h0m7 0h0m2 1.5h0m-40 2h0m36.5 1h0m2.5 1h0m0.5-1h0m-38 1.5h0m36 0.5h0m3 1h0m-9.5 0.5h0m3.5 0.5h0m6 0.5h0m-8.5 3h0m4.5 0h0m-3.5 1h0m0.5 1h0m2.5 3h0m2-0.5h0" stroke="#1a1a1a" stroke-width="1.10" stroke-linecap="round"/><path d="M228 95h0m4.5 0.5h0m4 0h0m-45.5 3h0m34.5-0.5h0m12 0.5h0m2.5-0.5h0m-45 2h0m3.5 0h0m2 0.5h0m1.5 0h0m15.5-0.5h0m5-0.5h0m2 0h0m6 0h0m6 1h0m0.5 0h0m3 0h0m-54 0.5h0m13 0h0m24 0h0m5.5 0h0m3 0h0m-45.5 0.5h0m3.5 1h0m4.5-0.5h0m5 0h0m1 0h0m0.5-0.5h0m1.5 1h0m1.5-0.5h0m2.5 0h0m14 0.5h0m0.5 0h0m2.5 0h0m10 0h0m0.5 0h0m1.5 0h0m5-1h0m-20.5 1.5h0m-29.5 0.5h0m8.5 1h0m10.5-0.5h0m9 0h0m14 0.5h0m5-1h0m-23 1.5h0m6.5 0h0m-32 1.5h0m2.5 0h0m1 0h0m1.5-1h0m3.5 0.5h0m1-0.5h0m9 0.5h0m1 0.5h0m0.5-0.5h0m0 0.5h0m1 0h0m0.5-1h0m4.5 1h0m2-1h0m6.5 1h0m6 0h0m1 0h0m3 0h0m0.5 0h0m0.5-1h0m2 0h0m3.5 1h0m-51 0.5h0m14 0h0m27 0h0m-24 1.5h0m4-0.5h0m15.5 0h0m0-0.5h0m2.5 0.5h0m6 0h0m-32.5 1h0m4 0h0m11 0h0m-30.5 0.5h0m5.5 0h0m1 0h0m0.5 0.5h0m6 0h0m5.5 0.5h0m6.5-1h0m4 0h0m2 0h0m0.5 0.5h0m2 0h0m5 0h0m8.5 0.5h0m2-1h0m4 0.5h0m0 0.5h0m-1 0.5h0m-43 1h0m4-0.5h0m10 1h0m0.5-1h0m0.5 0h0m23 1h0m0.5-0.5h0m-44 1h0m17 0h0m22 0h0m7 0h0m-48 1h0m0 0.5h0m6-1h0m2.5 0h0m6 1h0m8.5-0.5h0m9.5 0.5h0m3.5-0.5h0m5 0h0m2-0.5h0m5 0.5h0m1-0.5h0m0.5 1h0m1-1h0m0 0.5h0m-34.5 1h0m24 0h0m-35.5 1.5h0m0 0h0m5-1h0m20 0.5h0m2-0.5h0m3 0.5h0m3.5 0.5h0m9.5-1h0m0.5 1h0m2-1h0m-38.5 1.5h0m31.5 0h0m2 0h0m5.5 0h0m-44.5 1.5h0m0-1h0m11.5 1h0m1 0h0m14.5-0.5h0m2 0h0m10.5 0h0m-44.5 1h0m6 0h0m-5 1.5h0m5 0h0m4 0h0m0-0.5h0m3 0.5h0m1.5-0.5h0m1 0h0m16.5-0.5h0m4 0h0m8 1h0m-13.5 0.5h0m12.5 0h0m-39 1.5h0m38.5 0h0m2 0h0m2-0.5h0m-44 1h0m4.5 0h0m35.5 0h0m-40 0.5h0m1.5 1h0m1.5-1h0m0.5 0.5h0m3 0h0m0 0h0m22 0.5h0m1.5-1h0m6 1h0m2 0h0m1.5-1h0m3.5 0h0m-12.5 1.5h0m13.5 0h0m-36.5 1.5h0m24.5 0h0m6.5-1h0m0 0.5h0m0.5 0h0m0 0.5h0m4.5 0h0m-43 0.5h0m7 0h0m26.5 0h0m1 0h0m-34.5 1.5h0m2.5-1h0m2 0h0m25.5 0.5h0m7 0h0m2.5 0h0m1-0.5h0m2 1h0m-6 0.5h0m-32.5 1.5h0m0-1h0m30.5 1h0m5.5 0h0m-36.5 0.5h0m2 0h0m1 0h0m27.5 1h0m1.5 0.5h0m4 0h0m-5.5 0.5h0m-30 0.5h0m38 1h0m-3 2.5h0m-4.5 1.5h0m1.5 0h0m2.5 0h0m0.5-1h0m-0.5 1.5h0m2.5 1.5h0m-7 0.5h0m5 0h0m-2 1.5h0m0.5 0h0m0 2h0m-0.5 0.5h0m-0.5 0.5h0" stroke="#1a1a1a" stroke-width="0.70" stroke-linecap="round"/><path d="M225.5 96.5h0m1.5-1h0m2 1h0m8.5 0h0m0.5 0h0m-6.5 0.5h0m-43.5 1.5h0m5-0.5h0m26 0.5h0m1 0h0m-2.5 0.5h0m3.5 0h0m13.5 0h0m1 0h0m-49.5 1h0m3 0.5h0m0.5 0h0m8.5-0.5h0m3 0.5h0m17.5-1h0m9 1h0m7.5-0.5h0m1.5-0.5h0m0 1h0m1.5-0.5h0m0.5 0h0m-55 1h0m0.5 0h0m22 0h0m-17.5 1h0m3 0h0m3-0.5h0m1.5 1h0m22.5 0h0m2 0h0m12-0.5h0m6.5 0.5h0m-51 0.5h0m8 0h0m4.5 0h0m2.5 0h0m17.5 0h0m6.5 0h0m14 0h0m-55 1.5h0m11.5 0h0m3.5 0h0m1 0h0m25 0h0m0.5-0.5h0m3-0.5h0m-38 1.5h0m34.5 0h0m5 0h0m7.5 0h0m0.5 0h0m-51 1.5h0m7-1h0m0.5 0h0m6.5 1h0m1 0h0m24.5-1h0m1.5 1h0m1.5-1h0m0.5 0h0m-42.5 1.5h0m7 0h0m4 0h0m11 0h0m8.5 0h0m7.5 0h0m10 0h0m-51 1h0m0.5-0.5h0m1 0h0m1 0.5h0m3 0.5h0m8.5-1h0m0.5 0.5h0m3 0.5h0m2.5 0h0m1-1h0m15 0.5h0m1-0.5h0m10 0.5h0m5.5 0h0m-53 1h0m2.5 0h0m6 0h0m13.5 0h0m-21.5 1.5h0m2-1h0m2.5 0h0m8 0h0m1.5 0.5h0m4 0.5h0m4.5-1h0m5 0h0m1 1h0m1-1h0m1.5 1h0m1.5 0h0m2.5-1h0m6.5 1h0m8 0h0m3.5-0.5h0m-35.5 1h0m4.5 0h0m10 0h0m11.5 0h0m-33 1h0m0.5 0.5h0m2.5 0h0m0.5 0h0m2-1h0m3 0h0m13 0.5h0m5 0.5h0m5.5-0.5h0m5-0.5h0m4 0h0m-38.5 1.5h0m3 0h0m34 0h0m-47 1h0m7.5 0.5h0m3.5-0.5h0m1-0.5h0m2.5 0.5h0m0-0.5h0m3 0h0m0.5 0h0m0.5 1h0m1.5 0h0m5.5-0.5h0m3 0.5h0m-23 0.5h0m1.5 0h0m40.5 0h0m-45.5 1h0m6 0.5h0m2-1h0m9 0h0m18.5 1h0m1.5 0h0m-25 0.5h0m28 0h0m-43.5 1h0m0.5-0.5h0m0.5 0h0m15 0.5h0m22-0.5h0m0.5 0h0m0.5 0.5h0m0 0h0m1.5-0.5h0m1.5 0h0m0.5 0.5h0m0.5 0.5h0m1-1h0m-29 1.5h0m21.5 0h0m3 0h0m-27 1h0m30 0h0m0 0.5h0m2-1h0m3.5 1h0m-3.5 0.5h0m-38.5 1.5h0m1.5-0.5h0m3 0.5h0m1.5-0.5h0m21.5 0.5h0m7.5-1h0m0.5 0h0m-35.5 1.5h0m4.5 0h0m35.5 0h0m1 0h0m-15.5 1h0m2.5 0.5h0m3-0.5h0m-31.5 1h0m6.5 0h0m20.5 0h0m9 0h0m-33.5 0.5h0m1 0h0m0 0.5h0m2 0h0m21 0.5h0m7.5-0.5h0m3.5 0h0m-1 1h0m-37.5 0.5h0m33.5 0.5h0m0 0.5h0m3.5 0h0m-6.5 0.5h0m-28 1.5h0m0.5 0h0m37 0.5h0m-40 1.5h0m29 0.5h0m11.5 0h0m-39.5 1.5h0m0.5-0.5h0m32 0.5h0m2 0h0m0.5-0.5h0m3.5-0.5h0m-3 3h0m3-0.5h0m-7.5 2h0m1.5 1h0m3 1.5h0m-1 2h0m2.5-1h0m-4 4h0m1 1h0m2-0.5h0" stroke="#1a1a1a" stroke-width="1.50" stroke-linecap="round"/>
<path d="M206.5 104.5h0m1.5 0.5h0m0 0h0m-5.5 1h0m7 0h0m-1.5 2.5h0m-4.5 0.5h0m4 0h0m-3 0.5h0m4.5 0.5h0m4 0.5h0m-11.5 1.5h0m11.5-0.5h0m-13 1.5h0m1 1h0" stroke="#1a1a1a" stroke-width="1.60" stroke-linecap="round"/><path d="M203.5 104.5h0m1.5-0.5h0m1 0.5h0m-6.5 2.5h0m0 0h0m1 1.5h0m0.5 0h0m4.5-1h0m3.5 0h0m-3 3h0m3.5 0h0m1 0h0m-14 0.5h0m11.5 0h0m-11 1h0m1.5 0h0m2 0h0m2.5 0h0m4.5 0.5h0m4.5-1h0m-13 2.5h0m8.5-0.5h0m-3.5 2.5h0" stroke="#1a1a1a" stroke-width="1.20" stroke-linecap="round"/><path d="M201 104h0m4-0.5h0m1 0h0m-7 3h0m0.5 0h0m0.5-1h0m0.5 2h0m7 1h0m2.5-0.5h0m-8.5 1h0m-3.5 1h0m8.5 0h0m0 0.5h0m4-0.5h0m1 0h0m-5 1h0m-4 1h0m-4 1.5h0m2 1h0m4-0.5h0m2 0h0m3 0.5h0m-8 2h0" stroke="#1a1a1a" stroke-width="0.80" stroke-linecap="round"/>
<polygon points="196.8,132.0 204.8,120.0 214.2,113.3 216.9,120.0 220.9,132.0 223.6,140.1 227.6,150.8 229.0,172.2 196.8,169.6 195.5,137.4" fill="#c9c9c9"/>
<path d="M206.5 120.5h0m-2.5 1h0m2 2.5h0m-1.5 1h0m2 0.5h0m0.5 0.5h0m-3 4.5h0m-1 0.5h0m0.5 0.5h0m-2 1.5h0m-5 3h0m1-0.5h0m3 0.5h0m-3.5 3.5h0" stroke="#1a1a1a" stroke-width="1.05" stroke-linecap="round"/><path d="M205.5 121.5h0m0.5 3.5h0m-4.5 5.5h0m-2 5.5h0m2-0.5h0m0 0h0m-3.5 3h0m-1.5 0.5h0m1 1.5h0" stroke="#1a1a1a" stroke-width="1.40" stroke-linecap="round"/><path d="M203 128.5h0m-3.5 1h0m-2.5 2.5h0m1.5 1.5h0m3 2h0" stroke="#1a1a1a" stroke-width="0.70" stroke-linecap="round"/>
<path d="M221 134h0m0.5 6h0m1 1h0m2.5 2.5h0m0.5 12.5h0" stroke="#1a1a1a" stroke-width="0.70" stroke-linecap="round"/><path d="M220.5 137h0m0.5 0h0m0.5 3.5h0m3 4h0m0-1h0m-2.5 4h0m1 1h0m4 3h0" stroke="#1a1a1a" stroke-width="1.05" stroke-linecap="round"/><path d="M220.5 137h0m4.5 6h0m0 1h0m0 1h0m-1.5 1h0m2.5 0.5h0m0.5 3.5h0m-1 3.5h0" stroke="#1a1a1a" stroke-width="1.40" stroke-linecap="round"/>
<polyline points="180.7,97.2 190.1,93.2 199.5,93.2 208.9,97.2 212.9,101.2 218.2,93.2 226.3,89.8 235.7,90.5 242.4,95.9" fill="none" stroke="#d4d4d4" stroke-width="2.4" stroke-linejoin="round" stroke-linecap="round"/>
<polyline points="191.6,134.0 197.3,170.0" fill="none" stroke="#505050" stroke-width="1.0" stroke-linejoin="round" stroke-linecap="round"/>
<polyline points="230.6,142.0 226.8,175.0" fill="none" stroke="#505050" stroke-width="1.0" stroke-linejoin="round" stroke-linecap="round"/>
<polygon points="324.4,66.8 320.5,74.6 318.5,87.7 316.5,100.0 315.5,92.0 317.0,78.0 321.0,69.0" fill="#3c3c3c"/>
<polygon points="329.6,62.8 336.1,62.2 344.0,64.8 349.2,65.5 355.8,63.5 362.3,60.2 367.5,60.9 372.7,65.5 376.7,74.6 381.2,86.4 381.9,95.5 378.0,113.8 372.7,133.4 367.5,159.6 364.9,166.8 324.4,167.4 321.1,133.4 319.2,107.3 318.5,87.7 320.5,74.6 324.4,66.8" fill="#c4c4c4"/>
<path d="M335 65.5h0m1 1h0m25.5-1h0m-29.5 2h0m3 1h0m1-0.5h0m6.5 0h0m15.5-0.5h0m0.5 1h0m0.5-0.5h0m2 0.5h0m4-0.5h0m0.5 0h0m2 0h0m-30 1h0m20.5 0.5h0m1 1h0m3.5-1h0m-24 1.5h0m3.5 0.5h0m0 1h0m1-0.5h0m5 0.5h0m7-0.5h0m11-0.5h0m3 1h0m-17 0.5h0m-19.5 1.5h0m9.5-1h0m11 0h0m2.5 0h0m5.5 0.5h0m0-0.5h0m2 0h0m-39 1.5h0m6 0h0m2 0h0m24 0h0m9 0h0m-36 1h0m13.5-0.5h0m2 0.5h0m3.5 0h0m-9.5 1h0m-9.5 1h0m8.5-0.5h0m1 1h0m4.5-0.5h0m2 0h0m3.5 0.5h0m2.5 0h0m4-0.5h0m5.5 0h0m13 1h0m-44.5 1.5h0m3 0h0m8-1h0m10.5 0h0m8 0.5h0m13.5 0h0m0.5-0.5h0m-48.5 1.5h0m44.5 0h0m-25 1h0m6 0.5h0m0 0h0m2.5 0h0m0-1h0m1.5 0.5h0m2 0.5h0m6-0.5h0m11-0.5h0m3.5 1h0m-28.5 1h0m2.5 0.5h0m1.5 0.5h0m0-1h0m-1.5 3.5h0" stroke="#1a1a1a" stroke-width="1.60" stroke-linecap="round"/><path d="M366 65.5h0m1 1h0m-33 1h0m12.5 1h0m6 0h0m15.5-1h0m-39 1.5h0m26 0h0m1 0h0m4 0h0m7.5 0h0m3 0h0m-43.5 0.5h0m3.5 0h0m5.5 1h0m17 0h0m6-0.5h0m2 0h0m1 0h0m2 0.5h0m7-1h0m-1 1.5h0m-45.5 1.5h0m11.5 0h0m10.5-0.5h0m4.5 0.5h0m0.5-1h0m0.5 1h0m3-1h0m4.5 1h0m3 0h0m1-0.5h0m0 0h0m-32 1h0m2.5 0h0m-10 1.5h0m3.5-1h0m7.5 0.5h0m0.5 0.5h0m0-0.5h0m5 0.5h0m12-1h0m6.5 0h0m6.5 1h0m0.5-1h0m2.5 0h0m4.5 0h0m-30.5 1.5h0m5 0h0m24.5 0h0m0.5 0h0m-46 1h0m1 0.5h0m7.5 0h0m6.5-0.5h0m13-0.5h0m12 1h0m2 0h0m0.5-1h0m5 1h0m-46 0.5h0m-2 1h0m22.5 0h0m5.5 0.5h0m17-0.5h0m-38 1h0m23 0h0m-19.5 1.5h0m18.5 0h0m1-0.5h0m4.5 0.5h0m2.5 0h0m11 0h0m-35.5 0.5h0m2 0h0m5.5 0h0m2.5 0h0m12.5 0h0m-34.5 0.5h0m23 1h0m1.5 0h0m1-0.5h0m4.5-0.5h0m6.5 0.5h0m1-0.5h0m12 0.5h0m-33 1h0m0.5 0.5h0m1 0h0m3 0.5h0m6 0.5h0m4.5-1h0m-4.5 2.5h0" stroke="#1a1a1a" stroke-width="1.20" stroke-linecap="round"/><path d="M363 66h0m0-0.5h0m-23.5 2.5h0m1.5 0h0m17 0h0m-24.5 1h0m31.5 0h0m5.5 0h0m-42 1.5h0m2.5 0h0m4.5 0h0m7.5 0h0m10.5-1h0m1.5 0h0m2.5 1h0m1.5 0h0m7.5 0h0m2.5 0h0m-33.5 0.5h0m13 0h0m12 0h0m-35 0.5h0m14 1h0m7-1h0m5.5 0h0m1 0h0m12.5 1h0m4-0.5h0m1.5 0.5h0m0.5 0.5h0m-47 0.5h0m0.5 0h0m5.5 0.5h0m1 0.5h0m1.5-0.5h0m1-0.5h0m6.5 0.5h0m1-0.5h0m12.5 0.5h0m2 0h0m7.5 0.5h0m9-1h0m-46 1.5h0m1 0h0m8.5 0h0m2 0h0m8.5 0h0m1.5 0h0m3.5 0h0m-25 1.5h0m13.5-0.5h0m7.5 0.5h0m2.5 0h0m6.5-0.5h0m9 0h0m1-0.5h0m2 1h0m-40.5 0.5h0m1 1.5h0m7.5-0.5h0m5.5 0h0m13-0.5h0m6 0.5h0m4.5-0.5h0m5 1h0m-46 1.5h0m2 0h0m16.5-0.5h0m1.5 0.5h0m1.5-0.5h0m9.5 0.5h0m6 0h0m4-0.5h0m-38 1.5h0m19 0h0m5 0h0m6.5 0h0m-35 0.5h0m1 1h0m0.5-1h0m16.5 0.5h0m2 0.5h0m5.5-1h0m3.5 1h0m5-0.5h0m4.5 0.5h0m2.5-1h0m-12 1.5h0m4 0h0m-12 0.5h0m13 1h0m-4 3.5h0" stroke="#1a1a1a" stroke-width="0.80" stroke-linecap="round"/>
<path d="M354.5 68.5h0m11.5 0h0m-13.5 0.5h0m-11 1.5h0m25.5 2h0m-10 1.5h0m-12.5 2.5h0m9.5 0h0m-22.5 0.5h0m20 1.5h0m22.5 0h0m-43.5 2h0m11.5 0h0m18-0.5h0m5 0.5h0m5-1h0m-45.5 1.5h0m8 0h0m21.5 0h0m7.5 0h0m-19 2h0m6.5 3.5h0" stroke="#1a1a1a" stroke-width="1.95" stroke-linecap="round"/><path d="M332.5 66.5h0m3.5-0.5h0m-5 2.5h0m2-1h0m32 0h0m-25.5 2.5h0m21.5 0h0m4.5-0.5h0m1 0.5h0m-36.5 1.5h0m8 1h0m21.5 0.5h0m-31.5 1.5h0m3 0h0m14-1h0m6 0h0m3 0h0m-21.5 3h0m3.5 0h0m26 0h0m-16.5 1.5h0m14 0.5h0m-26 0.5h0m4 0h0m-11.5 0.5h0m1.5 1h0m44.5 0h0m-19.5 2h0m6 0h0m15.5-1h0m2.5 1h0m-53 0.5h0m26.5 2h0" stroke="#1a1a1a" stroke-width="1.50" stroke-linecap="round"/><path d="M362.5 66.5h0m-30.5 2.5h0m17 1.5h0m13.5 0h0m-22.5 0.5h0m0.5 0h0m26 0.5h0m-3.5 2.5h0m2 3h0m9.5 0h0m-46.5 2h0m25.5 0h0m-6 1h0m8 2h0m-1.5 5h0" stroke="#1a1a1a" stroke-width="2.40" stroke-linecap="round"/>
<path d="M336.5 86h0m0.5 0.5h0m2.5 0h0m28-0.5h0m-29.5 1h0m-9.5 0.5h0m2.5 0.5h0m2 0h0m0.5-0.5h0m5 0h0m20.5 0.5h0m6.5-0.5h0m6.5 0.5h0m-29.5 1h0m26.5 0h0m1 0h0m-46 0.5h0m5.5 0h0m0.5 0.5h0m2.5 0h0m1 0.5h0m0.5-1h0m3 1h0m1.5-1h0m3.5 1h0m15.5-1h0m1 0.5h0m3.5-0.5h0m2.5 0.5h0m3.5 0h0m2.5 0h0m2-0.5h0m0.5 0h0m4.5 1h0m-46.5 0.5h0m8 0h0m5.5 0h0m10.5 0h0m7.5 0h0m0.5 0h0m1 0h0m7 0h0m-48 1.5h0m15-0.5h0m2 0h0m2.5 0.5h0m12.5-1h0m6.5 0.5h0m0.5 0h0m12.5-0.5h0m-42 1.5h0m25 0h0m13 0h0m-48 1h0m4 0h0m0.5 0.5h0m18 0h0m16 0h0m5.5-1h0m2.5 1h0m1.5 0h0m1.5 0h0m-36 0.5h0m0.5 0h0m2 0h0m0 0h0m23.5 0h0m8 0h0m-45 0.5h0m6 0h0m0 1h0m14-1h0m4 0.5h0m5.5-0.5h0m10 1h0m4 0h0m6.5 0h0m1 0h0m-28 0.5h0m17 0h0m-40 1.5h0m1-1h0m0 1h0m1.5-0.5h0m3.5 0.5h0m6 0h0m3.5 0h0m11-0.5h0m0.5-0.5h0m1 0.5h0m2 0h0m1.5 0h0m1 0.5h0m6.5-1h0m0.5 0h0m-24 1.5h0m31 0h0m-47 1.5h0m3.5 0h0m4.5-1h0m6.5 0.5h0m0.5 0h0m3-0.5h0m10 0h0m11.5 0.5h0m4.5 0.5h0m2-0.5h0m-29 1h0m2.5 0h0m1.5 0h0m13.5 0h0m18.5 0h0m-50 0.5h0m7.5 1h0m4-1h0m17 0.5h0m6.5 0.5h0m2-0.5h0m2.5 0.5h0m0.5 0h0m7-1h0m-31 1.5h0m0.5 0h0m4 0h0m7.5 0h0m11 0h0m6 0h0m-48.5 1h0m9-0.5h0m5.5 1h0m2.5-0.5h0m0 0.5h0m12.5 0h0m17.5-0.5h0m2 0h0m-41 1h0m11 0h0m11.5 0h0m3 0h0m5 0h0m-40.5 1h0m1 0h0m2-0.5h0m0.5 1h0m7.5-0.5h0m10.5 0.5h0m2 0h0m0.5-0.5h0m1.5-0.5h0m4.5 0h0m2.5 0.5h0m6.5-0.5h0m14 0h0m-43.5 1.5h0m8 0h0m14.5 0h0m5.5 0h0m4 0h0m5.5 0h0m-39.5 0.5h0m6 1h0m10-1h0m8.5 1h0m3-1h0m0.5 0.5h0m2.5 0.5h0m0.5-1h0m5.5 0h0m1 0h0m5.5 0.5h0m4-0.5h0m-43 1.5h0m-6.5 1h0m6 0h0m2.5-0.5h0m4 0h0m1 0.5h0m1.5-0.5h0m2.5 0.5h0m5.5 0.5h0m2.5-1h0m0 0.5h0m0-0.5h0m14 0.5h0m3 0.5h0m0.5-0.5h0m-26 1h0m3 0h0m6.5 0h0m18.5 0h0m-46.5 1h0m11 0.5h0m5 0h0m1.5-1h0m5 0h0m3.5 0h0m1.5 1h0m1 0h0m0.5 0h0m9.5-1h0m3 0h0m2.5 1h0m3-0.5h0m-49 1h0m15 0h0m24.5 0h0m-36.5 1h0m9.5 0h0m4 0h0m1.5 0h0m11.5-0.5h0m3 0h0m13 0.5h0m0.5 0.5h0m0.5-0.5h0m-46 1h0m5.5 0h0m30 0h0m-35.5 1.5h0m2.5 0h0m1-0.5h0m2 0h0m7 0h0m3.5 0h0m4 0h0m10-0.5h0m5.5 0h0m5 1h0m8.5 0h0m-32 0.5h0m-17.5 1.5h0m4.5-1h0m4.5 0h0m3.5 1h0m8.5 0h0m0.5-1h0m2 0.5h0m18 0h0m-0.5 1h0m-38 0.5h0m6 0.5h0m0-0.5h0m0 0h0m3 0h0m6 0.5h0m2 0.5h0m0 0h0m3-0.5h0m2.5 0h0m0.5 0.5h0m8 0h0m5-1h0m2 0.5h0m0 0h0m4.5-0.5h0m1.5 0.5h0m-18.5 1h0m6 0h0m3 0h0m6 0h0m-42 1.5h0m3-0.5h0m9.5 0h0m3 0h0m7 0h0m4.5 0.5h0m14 0h0m1 0h0m-44 1.5h0m2-0.5h0m12 1h0m1-0.5h0m5.5 0h0m3.5 0.5h0m3 0h0m12.5-0.5h0m5.5 0h0m-32 1h0m3 0h0m20 0h0m-34 0.5h0m1.5 0.5h0m1-0.5h0m0 0h0m2.5 0h0m3 0.5h0m1.5 0h0m3.5-0.5h0m3 0.5h0m6.5-0.5h0m7.5 1h0m1.5 0h0m1-1h0m7 0h0m4 0.5h0m2-0.5h0m-38 1.5h0m35 0h0m-42.5 1.5h0m1-0.5h0m4.5-0.5h0m0 0.5h0m0.5 0.5h0m3 0h0m0-1h0m3.5 1h0m4-0.5h0m3 0.5h0m7.5-0.5h0m6-0.5h0m5 0h0m3.5 0.5h0m0.5 0h0m1 1h0m-41 1h0m15-0.5h0m6.5 1h0m5.5-1h0m5 0h0m-4 1.5h0m-30.5 0.5h0m8.5 1h0m16-1h0m14.5 0h0m3.5 1h0m1 0h0m-35 0.5h0m27 0h0m7.5 0h0m-41 1.5h0m4.5-1h0m2 0h0m26.5 0h0m1 0h0m1 0h0m0.5 0.5h0m2 0.5h0m-40 0.5h0m36 0h0m-27 0.5h0m17.5 0h0m1.5 0h0m11 1h0m2-1h0m-12.5 1.5h0m9 0h0m1 0h0m0 0h0m4 0h0m-14.5 1.5h0m1.5-0.5h0m4 0h0m1.5-0.5h0m3 0h0m-37 2h0m30 0.5h0m4 0.5h0m7-0.5h0m-38.5 2.5h0m0.5-1h0m4 0h0m19.5 0.5h0m4-0.5h0m8 0.5h0m0 0.5h0m-5.5 2h0m0.5 0h0m1-0.5h0m3 0h0m1.5 0h0m2 0.5h0m-14 0.5h0m-27.5 1.5h0m1.5 0h0m3-0.5h0m23.5-0.5h0m7.5 1h0m5 0h0m0 0h0m-9 0.5h0m-30 1h0m2 0.5h0m2.5-0.5h0m23-0.5h0m0.5 0.5h0m1 0h0m3.5-0.5h0m4.5 0.5h0m0.5 0.5h0m0-0.5h0m-11 2.5h0m3-0.5h0m1-0.5h0m1 0.5h0m3.5 0h0m4 1h0m-40 1h0m32-0.5h0m4.5 0.5h0m-6 1.5h0m7 0.5h0m-37 1h0m33.5 0h0m-34 1h0m30.5 0.5h0m5-0.5h0m1-0.5h0m-34 2h0m28 0h0m1.5 0h0m4 0h0m2.5 1h0m-3.5 2h0m-2 0.5h0m-31 1h0" stroke="#1a1a1a" stroke-width="1.10" stroke-linecap="round"/><path d="M330 86.5h0m3-0.5h0m2 0.5h0m0.5-1h0m4 0h0m24.5 1h0m3-1h0m3.5 0h0m-39 1.5h0m8 0h0m-10 1.5h0m7-0.5h0m1.5-0.5h0m27.5 0.5h0m1.5 0.5h0m0-0.5h0m0.5-0.5h0m3 1h0m6 0h0m-47.5 0.5h0m5 0h0m7.5 0h0m3 0h0m25 0h0m4.5 0h0m3 0h0m-51 1h0m1 0h0m4-0.5h0m3 0.5h0m8-0.5h0m-13 1.5h0m4.5 0h0m1 0h0m1.5 0h0m9 0h0m0.5 0h0m10 0h0m21.5 0h0m-54 0.5h0m3.5 0.5h0m3.5 0.5h0m5.5-0.5h0m3 0.5h0m1.5-0.5h0m24.5-0.5h0m1.5 1h0m0.5-1h0m5 0.5h0m3.5 0.5h0m1.5 0h0m1.5 0h0m-21.5 0.5h0m3.5 0h0m-36.5 1h0m0 0h0m7.5 0h0m5 0.5h0m8.5-1h0m1 0h0m3 1h0m6 0h0m4 0h0m7-1h0m2.5 0h0m0 1h0m3-1h0m2 0.5h0m-43 1h0m40 0h0m-43.5 1h0m3 0.5h0m3.5 0h0m11-1h0m5.5 0.5h0m0-0.5h0m0.5 1h0m3 0h0m21.5-0.5h0m3.5 0h0m-55.5 1h0m8.5 0h0m3.5 0h0m5 0h0m38 0h0m-55 0.5h0m12 1h0m2.5 0h0m2.5-0.5h0m3 0h0m0 0h0m3.5-0.5h0m13 0h0m0 0.5h0m14-0.5h0m4 0.5h0m-50 1h0m5 0h0m7 0h0m2 0h0m5.5 0h0m9 0h0m9 0h0m-39 1.5h0m3.5-0.5h0m0 0.5h0m2.5-0.5h0m1 0.5h0m2-0.5h0m5.5-0.5h0m16.5 1h0m8.5-1h0m10 1h0m-47.5 0.5h0m3.5 0h0m17 0h0m8.5 0h0m-21.5 1h0m3-0.5h0m2.5 0h0m1.5 0h0m1 1h0m2.5-0.5h0m5.5 0.5h0m4.5 0h0m5.5-1h0m5 0.5h0m4 0h0m2.5 0h0m1 0h0m1 0.5h0m-30.5 0.5h0m7 0h0m6.5 0h0m5 0h0m1.5 0h0m8 0h0m-40 1.5h0m7 0h0m4.5-1h0m5 0h0m6 1h0m6-0.5h0m2-0.5h0m1.5 0h0m1.5 0h0m1.5 0h0m0.5 0.5h0m1.5 0.5h0m7-0.5h0m0 0h0m-47.5 1h0m6 0h0m38.5 0h0m3.5 0h0m-50.5 1.5h0m0.5-0.5h0m2-0.5h0m2.5 1h0m2-0.5h0m6.5 0.5h0m0 0h0m7.5 0h0m8.5-0.5h0m1.5 0.5h0m3.5-1h0m3.5 0h0m1 0h0m0 1h0m3.5-1h0m1 0h0m6 1h0m-16 0.5h0m3 0h0m7 0h0m6.5 0h0m-54 1h0m4 0.5h0m4.5 0h0m1.5-0.5h0m1.5-0.5h0m5 0h0m0.5 1h0m1-1h0m6 0.5h0m11.5 0.5h0m1.5-0.5h0m1.5 0h0m3 0.5h0m1.5 0h0m4.5-0.5h0m-39.5 1h0m0.5 0h0m3.5 0h0m-3.5 1.5h0m0 0h0m3 0h0m1-0.5h0m4 0h0m1-0.5h0m17 0h0m3 0h0m4 0h0m0 0.5h0m6.5-0.5h0m-46 1.5h0m5.5 0h0m26.5 0h0m6.5 0h0m9.5 0h0m-46 1h0m21.5-0.5h0m3.5 1h0m2 0h0m1.5-0.5h0m0.5-0.5h0m11 1h0m8.5 0h0m-43.5 0.5h0m3.5 0h0m18 0h0m5 0h0m5 0h0m-38 0.5h0m12 0h0m1.5 0.5h0m7 0.5h0m0.5-0.5h0m24 0h0m3-0.5h0m-44.5 1.5h0m5.5 0h0m3 0h0m1 0h0m7.5 0h0m9 0h0m1 0h0m6 0h0m-37.5 1.5h0m1.5-1h0m17.5 1h0m6 0h0m2.5-0.5h0m2 0.5h0m1.5-0.5h0m0.5-0.5h0m4 0h0m5.5 0.5h0m9 0.5h0m-46 0.5h0m29 0h0m6 0h0m0.5 0h0m9 0h0m-41 0.5h0m6.5 0.5h0m0 0h0m2 0.5h0m11 0h0m3.5 0h0m13 0h0m-37 0.5h0m1 0h0m14.5 0h0m4 0h0m10.5 0h0m-37 1h0m3.5 0.5h0m15-0.5h0m13-0.5h0m5.5 0.5h0m-35.5 1h0m8 0h0m17 0h0m5 0h0m2 0h0m8.5 0h0m6.5 0h0m-47 1.5h0m4.5-0.5h0m3-0.5h0m1 1h0m4-0.5h0m1-0.5h0m9.5 0.5h0m5-0.5h0m3 1h0m8.5-1h0m1.5 0h0m0 1.5h0m-40.5 1.5h0m6-1h0m0.5 0h0m6 0.5h0m7.5 0h0m2 0h0m1 0.5h0m4.5 0h0m-25.5 0.5h0m10 0h0m15.5 0h0m-14.5 1h0m7.5 0.5h0m5-1h0m6.5 0h0m2 0.5h0m1 0.5h0m9.5 0h0m-36 0.5h0m1 0h0m4.5 0h0m3.5 0h0m8.5 0h0m-16.5 0.5h0m5.5 1h0m2 0h0m1.5-1h0m9 1h0m3.5-1h0m2.5 0.5h0m8.5 0.5h0m0.5-0.5h0m1-0.5h0m1 0h0m1 1h0m-41 0.5h0m20 0h0m12 0h0m0.5 0h0m5.5 0h0m2 0h0m-46 0.5h0m3 0h0m4.5 0.5h0m4-0.5h0m0.5 0.5h0m0.5 0h0m27.5 1h0m4.5 0h0m-43 1.5h0m0.5 0h0m3.5 0h0m1 0h0m7-0.5h0m0.5 0h0m11 0.5h0m4-0.5h0m0 0.5h0m0.5-0.5h0m0.5-0.5h0m0.5 0h0m13 1h0m2-1h0m-40 1.5h0m7 0h0m26 0h0m0.5 0h0m4.5 0h0m-38.5 1h0m0-0.5h0m20 0h0m1 0.5h0m14-0.5h0m-9 1.5h0m11.5 0h0m-39.5 0.5h0m6.5 1h0m19.5 0h0m12.5 0h0m-40.5 0.5h0m5.5 0h0m32.5 0h0m-35 1h0m2 0.5h0m20.5-1h0m6.5 0.5h0m6.5 0h0m4.5-0.5h0m-35.5 1.5h0m33.5 0h0m-11.5 1.5h0m1-1h0m0.5 1h0m3-0.5h0m0 0.5h0m3-1h0m2 0.5h0m1.5-0.5h0m-32 1.5h0m21.5 0h0m-30 0.5h0m0 1h0m0.5-0.5h0m5 0h0m1.5-0.5h0m0.5 0h0m24.5 0h0m0 1h0m0.5-1h0m1.5 0.5h0m0-0.5h0m1.5 1h0m4 0h0m-3 0.5h0m3.5 0h0m-5.5 1h0m5 0h0m3-0.5h0m-7.5 3h0m-29 1h0m26.5 0h0m1.5 0.5h0m8 0.5h0m-5 0.5h0m-36 1.5h0m3-0.5h0m24.5 1h0m2.5 0h0m4.5 0h0m-31.5 0.5h0m26.5 1h0m1.5 0h0m8-0.5h0m-3.5 1.5h0m-36 3h0m30.5 0h0m2.5-1h0m-0.5 1.5h0m6 0h0m-8.5 1.5h0m4.5-0.5h0m5 0h0m-38 1h0m30 0h0m-30 0.5h0m1 1h0m0-1h0m32 0h0m0.5 0h0m-32 3h0m32-0.5h0" stroke="#1a1a1a" stroke-width="0.70" stroke-linecap="round"/><path d="M330 85h0m7 0h0m-6 1h0m33.5 0.5h0m4.5 0h0m3 0h0m0-0.5h0m2 0h0m-43.5 1h0m0 0h0m4 0h0m-11 0.5h0m4 0h0m1 0.5h0m2 0h0m2.5-0.5h0m7.5 0.5h0m0.5 0h0m1 0.5h0m23-1h0m6.5 1h0m0-0.5h0m0.5 0h0m1-0.5h0m-3.5 1.5h0m-46.5 0.5h0m2.5 0h0m2 1h0m2.5-1h0m4.5 1h0m1.5-1h0m24.5 1h0m7.5-1h0m0 1h0m-45 0.5h0m0 0h0m23.5 0h0m24 0h0m6.5 0h0m0 0h0m-52.5 1h0m5.5 0h0m2.5 0.5h0m11 0h0m3-0.5h0m11.5 0h0m4 0.5h0m1-1h0m2.5 0h0m4.5 0.5h0m1.5 0.5h0m-15.5 0.5h0m14 0h0m-45.5 0.5h0m6.5 0h0m3 0h0m1.5 0.5h0m16.5 0h0m1.5 0.5h0m1-0.5h0m3 0h0m1 0.5h0m9-0.5h0m0 0h0m7.5-0.5h0m2.5 0.5h0m-51 1h0m3 0h0m0.5 0h0m3 0h0m1.5 0h0m3.5 0h0m5.5 0h0m6.5 0h0m9 0h0m9.5 0h0m-46 1h0m20 0h0m5 0h0m17.5 0.5h0m3.5-0.5h0m1 0.5h0m7-1h0m-33 1.5h0m6.5 0h0m0.5 0h0m9.5 0h0m2.5 0h0m10 0h0m-50 0.5h0m7 0.5h0m10-0.5h0m1 0h0m0.5 0h0m0 0h0m3.5 1h0m9.5-1h0m1 1h0m12-1h0m0.5 0.5h0m0-0.5h0m-3.5 1.5h0m3 0h0m3.5 0h0m3 0h0m-51.5 1.5h0m5.5-0.5h0m8 0h0m21 0h0m0.5 0.5h0m3-0.5h0m4 0h0m0-0.5h0m1.5 0.5h0m4 0.5h0m0.5 0h0m1-1h0m6 0.5h0m0.5 0.5h0m-53 0.5h0m2 0h0m4.5 0h0m3 0h0m11.5 0h0m-19.5 1h0m1 0h0m5 0.5h0m1 0h0m6 0h0m2.5 0h0m1-1h0m3 0h0m7 1h0m2-1h0m4.5 0h0m2.5 0h0m2 0h0m7 1h0m-40 0.5h0m13 0h0m2 0h0m3.5 0h0m25 0h0m-50 1.5h0m4.5-1h0m11.5 1h0m2-0.5h0m1.5 0.5h0m3.5 0h0m9.5-0.5h0m5 0.5h0m0.5 0h0m12 0h0m-22.5 0.5h0m4 0h0m16 0h0m-46 1.5h0m21 0h0m12.5-0.5h0m2 0.5h0m0.5-0.5h0m0 0.5h0m7.5 0h0m4.5-1h0m-51 1.5h0m27.5 0h0m-7 1.5h0m2.5-0.5h0m10.5-0.5h0m6 1h0m7 0h0m7-0.5h0m-53.5 1h0m39.5 0h0m0.5 0h0m9 0h0m-43.5 1h0m3.5-0.5h0m4.5 0h0m0.5 0h0m7 1h0m9.5-0.5h0m4 0.5h0m2-1h0m0.5 0.5h0m14.5 0h0m-50 2h0m1.5 0h0m6 0h0m9-0.5h0m3.5 1h0m1.5-0.5h0m0 0h0m1 0h0m5 0.5h0m6.5 0h0m0.5-1h0m5 0h0m4 0.5h0m6 0.5h0m-36 0.5h0m5.5 0h0m3.5 0h0m3 0h0m-25.5 1h0m5.5 0h0m6.5-0.5h0m2 0.5h0m2.5-0.5h0m7.5 1h0m11 0h0m1-0.5h0m5.5 0h0m0 0h0m9 0h0m-38.5 1h0m32 0h0m4.5 0h0m-44 0.5h0m7.5 0.5h0m3-0.5h0m6.5 0h0m12 0h0m0 0.5h0m1 0.5h0m0.5-0.5h0m1 0.5h0m0-0.5h0m5.5 0.5h0m5.5-1h0m3.5 0.5h0m-15.5 1h0m-30 1h0m3.5 0.5h0m0-1h0m5.5 0h0m9.5 0.5h0m0.5 0h0m15-0.5h0m3.5 1h0m5.5-1h0m0 0.5h0m1 0.5h0m-19 0.5h0m15.5 0h0m2 0h0m-48.5 1.5h0m5-1h0m3.5 0h0m4 0.5h0m12.5-0.5h0m5.5 1h0m0.5 0h0m12.5-0.5h0m4.5 0.5h0m-6 0.5h0m1.5 0h0m2 0h0m-40.5 1.5h0m2.5 0h0m9-1h0m12.5 1h0m3-1h0m8.5 0.5h0m-9 1h0m9.5 0h0m4 0h0m-40 1h0m0.5-0.5h0m0 1h0m3-1h0m8 1h0m1.5-1h0m6.5 0.5h0m1.5-0.5h0m2.5 0h0m5 0h0m3.5 0.5h0m6.5 0.5h0m3 0h0m-25.5 0.5h0m19.5 0h0m-34 1.5h0m12-0.5h0m10 0h0m11-0.5h0m3 1h0m-17.5 0.5h0m5 0h0m-22.5 0.5h0m1 1h0m18-1h0m2 1h0m-16 0.5h0m11.5 0h0m4 0h0m10.5 0h0m3 0h0m-38.5 1.5h0m1.5 0h0m5.5 0h0m1 0h0m18-1h0m3.5 1h0m1-0.5h0m2 0.5h0m2.5-0.5h0m6.5 0.5h0m1 0h0m-43 0.5h0m7 0h0m2 0h0m21 0h0m-31.5 0.5h0m0 0h0m4 0.5h0m2.5 0.5h0m2-1h0m5 0h0m12 0.5h0m3.5-0.5h0m4.5 0.5h0m4 0h0m-34.5 1h0m0 0.5h0m0.5 0h0m5.5 1h0m2.5-1h0m15 1h0m4-1h0m3 1h0m1.5-1h0m3.5 1h0m3.5-1h0m-12.5 1.5h0m2 0h0m-27 1.5h0m5.5 0h0m24-1h0m1.5 0.5h0m3 0.5h0m5 0.5h0m-43 0.5h0m9.5 1h0m21.5 0h0m3.5 0h0m0.5-0.5h0m2.5 0.5h0m4.5 0h0m-41.5 0.5h0m30.5 0h0m1.5 0h0m-32 0.5h0m2 0h0m3.5 1h0m35.5 0h0m0.5-0.5h0m-39.5 1h0m4 1.5h0m1-1h0m1 0h0m22.5 1h0m2.5-1h0m-1.5 1.5h0m7.5 0h0m0.5 0h0m-37 1h0m3.5 0h0m23.5-0.5h0m0.5 0h0m-26 1.5h0m2 0h0m-4 0.5h0m30.5 1h0m-30.5 0.5h0m1 1.5h0m1-1h0m0 0h0m0.5 0h0m1 1h0m23-1h0m11 0h0m2 1h0m-8 0.5h0m-6 1h0m0.5-0.5h0m4.5 0h0m6.5 0h0m2.5 0h0m-10.5 1.5h0m-31 0.5h0m2 1.5h0m-0.5 1.5h0m2 0h0m35 0h0m0 1h0m-38.5 2.5h0m30.5-0.5h0m2 1h0m-32 0.5h0m3 0h0m30.5 0h0m-2.5 1.5h0m5.5 0h0m2 0h0m-38.5 2h0" stroke="#1a1a1a" stroke-width="1.50" stroke-linecap="round"/>
<polyline points="320.5,86.4 329.6,82.5 340.1,83.1 346.6,87.7 350.5,92.9 355.8,87.7 364.9,83.1 372.7,83.1 379.3,87.0" fill="none" stroke="#d2d2d2" stroke-width="1.9" stroke-linejoin="round" stroke-linecap="round"/>
<polyline points="346.6,113.8 353.1,128.2 357.1,146.5 358.4,163.5" fill="none" stroke="#5a5a5a" stroke-width="3.0" stroke-linejoin="round" stroke-linecap="round"/>
<path d="M348.5 113h0m1.5 0h0m-1.5 0.5h0m0 1.5h0m-2 1.5h0m2 2.5h0m-0.5 1.5h0m2.5 1.5h0m0.5-0.5h0m2.5 0.5h0m-4 1h0m-1 0.5h0m1 0.5h0m3 0.5h0m-2 2h0m0.5-0.5h0m-2.5 2.5h0m2.5 2h0m1.5 0h0m1.5-0.5h0m-3 2.5h0m0.5 0.5h0m0 0.5h0m5 0.5h0m-5.5 1.5h0m2.5 1h0m5-1h0m0 1.5h0m0.5 0h0m-6.5 0.5h0m5.5 2.5h0m-2.5 3h0m3.5 0h0m-2 1.5h0m-2.5 2h0m3-1h0m2 2h0m-4.5 5h0m1.5 0h0m0-1h0m3 0h0m-3.5 3h0m1.5 1.5h0m2.5 0.5h0m-3.5 2h0m2.5 0.5h0m-4 0.5h0m2.5 0h0m1 0.5h0m1.5 1h0m0.5 0h0m-0.5 1h0m0 0.5h0m-4.5 0.5h0m4 0h0" stroke="#1a1a1a" stroke-width="1.60" stroke-linecap="round"/><path d="M344 112.5h0m2 0.5h0m-1.5 0.5h0m4.5 1h0m0 0.5h0m-3 1.5h0m5.5 0h0m-3.5 1.5h0m0.5-0.5h0m2 2h0m1 1h0m2-0.5h0m-3 1h0m3.5 0.5h0m-3.5 2h0m5.5 3h0m-2.5 0.5h0m1 0h0m0 1h0m-5 2.5h0m6.5 0h0m-6 0.5h0m6.5 1.5h0m-5.5 0.5h0m1 1h0m2.5 0h0m-2.5 1.5h0m6 1h0m0 0h0m-5.5 3h0m1.5 0h0m1.5 0h0m2.5 0.5h0m-5.5 1h0m-0.5 1h0m3.5 0.5h0m1.5-0.5h0m-0.5 1h0m-1 1h0m2 0.5h0m0.5-1h0m0.5 1.5h0m-4.5 0.5h0m5 3h0m0 0h0m1.5-1h0m-6 1.5h0m5 1h0m1 0.5h0m-4 2.5h0m1 0h0m-3.5 2h0m1 0.5h0m3 0h0m-2 1.5h0m-2 0.5h0m4 3h0m-3.5 0.5h0" stroke="#1a1a1a" stroke-width="1.20" stroke-linecap="round"/><path d="M349.5 112h0m-3.5 3h0m1.5 0.5h0m-1 1.5h0m4 2h0m0 0h0m-3.5 1.5h0m0.5 0h0m-1 1h0m8 4h0m-6 2.5h0m7.5 1.5h0m-5 2.5h0m3.5 0h0m0 0.5h0m2.5-0.5h0m-7 1h0m1.5 0.5h0m2 1h0m2.5 0h0m0-1h0m-5.5 1.5h0m0.5 0.5h0m3.5 4h0m2 1.5h0m1.5 0.5h0m1 1.5h0m-5.5 4h0m0 1.5h0m0.5 0h0m-0.5 2h0m0-1h0m4 4.5h0m1.5 1h0m0 1h0m0.5 3h0m1 1h0m-0.5 2h0m-2 1.5h0" stroke="#1a1a1a" stroke-width="0.80" stroke-linecap="round"/>
<polygon points="473.5,60.9 465.7,64.2 461.1,69.4 458.5,77.2 457.8,82.5 461.8,78.5 467.0,72.0 474.8,62.2" fill="#464646"/>
<polygon points="474.8,60.9 480.1,62.8 485.3,67.4 493.1,66.8 502.3,64.8 507.5,67.4 512.7,75.9 516.0,87.7 516.7,98.1 514.1,113.8 508.8,136.0 504.9,159.6 503.6,168.7 498.4,170.0 465.7,163.5 460.5,133.4 456.5,107.3 455.2,98.1 457.2,83.8 461.8,78.5 469.6,68.1" fill="#c4c4c4"/>
<path d="M476 66h0m1.5 0h0m-1.5 1h0m0 2h0m0.5 0.5h0m11 1.5h0m-11 1.5h0m-4 0.5h0m11.5 0h0m-5.5 1.5h0m6 0h0m1 0h0m6.5-0.5h0m11 0.5h0m-5 0.5h0m5 0h0m-37 1.5h0m41.5 0h0m-31.5 0.5h0m0 0h0m-12 1.5h0m10-0.5h0m1.5 0h0m1.5-0.5h0m32.5 0.5h0m0.5 0.5h0m-30 0.5h0m1.5 0h0m-8 1.5h0m1.5-1h0m1.5 1h0m6 0h0m2.5 0h0m3.5-1h0m12.5 0.5h0m-23.5 1h0m3 1h0m22.5 0h0m-18 1h0m5 0h0m-4.5 3.5h0m3 1h0m-1.5 1.5h0" stroke="#1a1a1a" stroke-width="1.50" stroke-linecap="round"/><path d="M480.5 68h0m-3 2.5h0m18 0h0m-22 1h0m25.5 1.5h0m-21.5 1.5h0m12-1h0m3 0h0m11 0h0m-11 1.5h0m2.5 0h0m-22.5 1.5h0m5.5-1h0m0 0.5h0m27.5-0.5h0m-28 2h0m22 0.5h0m5.5 0.5h0m-37 1.5h0m5.5 0.5h0m6.5-1h0m19.5 0h0m4 1h0m0 0h0m-32 0.5h0m-4 1h0m16.5-0.5h0m1 0h0m23 1h0m-16.5 1h0m1.5 2h0m-1.5 2h0m-2 6h0" stroke="#1a1a1a" stroke-width="1.15" stroke-linecap="round"/><path d="M477.5 68.5h0m2.5 0h0m-7 1h0m3 1.5h0m4 1h0m6.5-0.5h0m-18.5 3h0m18 0h0m2.5-0.5h0m-12 1h0m17.5 0h0m-15.5 0.5h0m-6 1.5h0m23.5 0h0m7 0h0m-32.5 0.5h0m-5 2h0m23.5 0h0m-10.5 2h0m0.5 0.5h0m30 0.5h0m-30 0.5h0m31 0h0m-15 0.5h0m-10 1.5h0m2.5 0h0m-3 3h0m-0.5 1h0m2 2.5h0" stroke="#1a1a1a" stroke-width="0.80" stroke-linecap="round"/>
<path d="M476.5 70h0m3.5 0.5h0m6 2h0m13.5 0h0m0-0.5h0m0.5 0.5h0m1-1h0m2 1h0m-19 1h0m1 1h0m13.5-0.5h0m0 0h0m2.5-0.5h0m-24 1.5h0m26.5 0h0m-25.5 1.5h0m6 0h0m3-1h0m2 0.5h0m-7 1h0m5.5 0h0" stroke="#1a1a1a" stroke-width="0.80" stroke-linecap="round"/><path d="M479 70h0m-0.5 2h0m3.5-0.5h0m3.5 1h0m14-0.5h0m3.5 1h0m0.5 0h0m-26 1h0m8 0h0m9.5-0.5h0m6 0h0m-13 1.5h0m-8.5 1h0m2 0h0m3.5-0.5h0m1.5 0.5h0m12.5-0.5h0m2 0h0m3.5 0h0m-16 1.5h0m0.5 1h0m0-0.5h0m0.5 0h0m1.5 0.5h0m1 0.5h0m1-0.5h0m4.5 0h0m3 0h0" stroke="#1a1a1a" stroke-width="1.70" stroke-linecap="round"/><path d="M502 70h0m-25.5 2h0m13 0h0m4.5 0.5h0m0-0.5h0m2.5-0.5h0m5.5 1h0m-25 0.5h0m0.5 0h0m17 0h0m-7.5 1h0m4.5 0h0m9 0.5h0m0-0.5h0m-5.5 1h0m-10 0.5h0m6 0.5h0m0 0h0m4-0.5h0m1 0.5h0m-9.5 1.5h0m3 0.5h0m3 0h0m5.5 0.5h0m0.5-1h0" stroke="#1a1a1a" stroke-width="1.25" stroke-linecap="round"/>
<path d="M466 86.5h0m1 1.5h0m5.5 0h0m23.5-0.5h0m5 0.5h0m4 0.5h0m3 0h0m-41 0.5h0m42 0h0m0.5 0h0m-44 0.5h0m9.5 0h0m3.5 0h0m18.5 1h0m9-0.5h0m5 0h0m-35.5 1h0m29 0h0m5 0h0m-46.5 1h0m0-0.5h0m12 0h0m5 0.5h0m3 0h0m10 0.5h0m0.5 0h0m5.5 0h0m10.5-1h0m-43.5 1.5h0m4 0h0m26.5 0h0m9 0h0m4 0h0m-44 0.5h0m7 0.5h0m7 0h0m3.5 0h0m1 0.5h0m8.5-1h0m2 1h0m6.5-1h0m3.5 0.5h0m1 0h0m5 0.5h0m-41 0.5h0m0 0h0m30 0h0m3.5 0h0m1 0h0m-26.5 1h0m16.5-0.5h0m8.5 1h0m2.5 0h0m0-0.5h0m4-0.5h0m3.5 0.5h0m-32.5 1h0m5.5 0h0m10.5 0h0m-28.5 1h0m6-0.5h0m9.5 0h0m1.5 1h0m2-0.5h0m13.5 0h0m-36 1h0m29 0h0m11.5 0h0m-39.5 1.5h0m1-0.5h0m2.5-0.5h0m1.5 0.5h0m0.5 0.5h0m7.5-1h0m10.5 0h0m11 0h0m0.5 1h0m0-1h0m8.5 0.5h0m3-0.5h0m1.5 0h0m-21 1.5h0m1.5 0h0m14 0h0m-48 0.5h0m7.5 0.5h0m0 0h0m5.5 0h0m2 0h0m2.5 0.5h0m5-0.5h0m3 0h0m6.5 0.5h0m5.5-0.5h0m13.5-0.5h0m-35 1.5h0m2.5 0h0m16.5 0h0m-32.5 1.5h0m9.5-0.5h0m2.5-0.5h0m0.5 0h0m1 1h0m2.5-1h0m0.5 1h0m6-1h0m9.5 0.5h0m3.5 0h0m5.5 0.5h0m7.5 0h0m-17.5 0.5h0m2.5 0h0m12 0h0m1 0h0m-49 1h0m4.5 0.5h0m22.5 0h0m3-1h0m1.5 0h0m6.5 0.5h0m1-0.5h0m6.5 1h0m5-0.5h0m-36 1h0m20 0h0m7 0h0m6 0h0m-46 0.5h0m2 0.5h0m0.5-0.5h0m5 0h0m5 1h0m1-0.5h0m0.5 0h0m4.5 0h0m10.5-0.5h0m5.5 0h0m0.5 0.5h0m0 0h0m5-0.5h0m-31 1.5h0m4 0h0m30 0h0m-42 1.5h0m7.5-0.5h0m11.5-0.5h0m2.5 0.5h0m5.5 0h0m3-0.5h0m2 0.5h0m6.5-0.5h0m10 0h0m-42.5 1.5h0m27 0h0m-30 0.5h0m5.5 0h0m0.5 0.5h0m1-0.5h0m2 0.5h0m13.5 0h0m3-0.5h0m2 0.5h0m1 0h0m4.5 0.5h0m6.5-1h0m2 0h0m-35.5 1.5h0m8.5 0h0m11 0h0m2.5 0h0m-22 1h0m7.5 0.5h0m6.5 0h0m3 0h0m2.5-0.5h0m1.5-0.5h0m5.5 1h0m13.5-1h0m-2.5 1.5h0m-44.5 1.5h0m2.5-1h0m13.5 1h0m3-1h0m0.5 1h0m2 0h0m12 0h0m-6.5 0.5h0m7.5 0h0m0.5 0h0m6.5 0h0m0 0h0m4 0h0m-47 1.5h0m6.5-0.5h0m5.5-0.5h0m0 0h0m8.5 0.5h0m9 0.5h0m9 0h0m0 0h0m-20 0.5h0m5.5 0h0m23.5 0h0m-46.5 0.5h0m1.5 0h0m3.5 0.5h0m11 0h0m3 0.5h0m1-0.5h0m3.5-0.5h0m12.5 1h0m3-0.5h0m3 0.5h0m3 0h0m0 0h0m-40.5 0.5h0m0.5 0h0m12.5 0h0m1.5 0h0m21.5 0h0m-16 0.5h0m1.5 0.5h0m7 0h0m0.5 0.5h0m2-1h0m1 1h0m1-1h0m3.5 0h0m4 0.5h0m-41 1h0m15.5 0h0m19.5 0h0m-7.5 1h0m1.5 0h0m7.5 0.5h0m-38.5 0.5h0m4 0h0m2.5 0h0m-7.5 0.5h0m10.5 0.5h0m3.5-0.5h0m-8 1.5h0m2 0h0m27 0h0m-29 1h0m2.5 0h0m30.5 0h0m-37 1.5h0m3.5 0h0m30 1h0m0.5 0h0m0-1h0m0.5 1h0m-35 0.5h0m2 0h0m36.5 0h0m-35.5 3h0" stroke="#1a1a1a" stroke-width="0.70" stroke-linecap="round"/><path d="M460 87h0m4 1.5h0m5-1h0m4 0.5h0m2 0h0m5 0.5h0m21 0h0m2 0h0m3-1h0m-39 1.5h0m4.5 0h0m6 0h0m1.5 0h0m19.5 0h0m0.5 0h0m10.5 0h0m-50.5 1h0m4 0h0m3 0.5h0m3-1h0m0.5 1h0m5.5-1h0m3 0.5h0m20.5 0h0m12 0h0m-50 1h0m0.5 0h0m36.5 0h0m5.5 0h0m-39 1.5h0m0-0.5h0m0.5 0h0m5.5 0.5h0m0.5-1h0m3 1h0m0.5-0.5h0m3-0.5h0m5 0.5h0m18.5-0.5h0m7.5 0.5h0m0.5 0h0m1.5-0.5h0m-43.5 1.5h0m13.5 0h0m18.5 0h0m1 0h0m-38.5 0.5h0m0 0.5h0m10-0.5h0m0 0.5h0m4 0.5h0m2 0h0m0.5 0h0m6.5 0h0m16.5-1h0m4 0.5h0m0.5 0h0m6.5 0.5h0m-51.5 0.5h0m18 0h0m13.5 0h0m0.5 0h0m13 0h0m3.5 0h0m-34 1.5h0m0.5 0h0m1-1h0m6 0.5h0m0 0.5h0m3 0h0m7 0h0m1 0h0m5 0h0m1-0.5h0m2.5 0h0m2.5 0h0m9 0.5h0m-50.5 0.5h0m3 0h0m46 0h0m-48 1.5h0m2.5-1h0m7 0h0m5 0h0m0 0.5h0m9 0.5h0m10-0.5h0m0.5-0.5h0m7 0h0m2 0h0m-38 1.5h0m2 0h0m2 0h0m9 0h0m1.5 0h0m13 0h0m16 0h0m-48.5 1.5h0m7-0.5h0m6 0.5h0m9.5-0.5h0m16 0.5h0m3 0h0m1-1h0m7 0h0m-36.5 1.5h0m17.5 0h0m6.5 0h0m-40.5 0.5h0m1 1h0m4-0.5h0m0.5 0h0m1.5 0h0m1.5 0.5h0m1.5 0h0m4-0.5h0m3-0.5h0m2 0h0m4.5 0h0m6.5 1h0m6.5 0h0m5.5-0.5h0m10 0.5h0m-34 0.5h0m30 0h0m-46.5 1.5h0m1.5 0h0m2-1h0m1 0.5h0m2 0h0m2 0h0m18 0.5h0m5 0h0m5-0.5h0m2 0.5h0m8-1h0m4 1h0m0.5-1h0m-44.5 1.5h0m2.5 0h0m8 0h0m1 0h0m4.5 0h0m-22 0.5h0m3.5 0h0m6 0h0m2.5 0.5h0m1 0h0m7.5 0.5h0m1.5 0h0m0 0h0m2.5-1h0m2.5 1h0m0-1h0m3.5 1h0m6-0.5h0m0-0.5h0m1 0.5h0m0-0.5h0m4 0.5h0m2 0h0m0.5 0.5h0m2 0h0m-25.5 0.5h0m0.5 0h0m4 0h0m-20 0.5h0m10.5 1h0m4-1h0m4.5 0.5h0m0.5-0.5h0m4 1h0m5-1h0m10 1h0m-44.5 0.5h0m2 0h0m10 0h0m18.5 0h0m-22.5 1.5h0m5-0.5h0m0.5 0h0m7-0.5h0m19.5 1h0m11-1h0m-45.5 1.5h0m10.5 0h0m2 0h0m8 0h0m0 0h0m9.5 0h0m6.5 0h0m-37 0.5h0m3.5 0.5h0m4 0.5h0m1 0h0m1-1h0m1.5 1h0m2.5-0.5h0m12-0.5h0m8.5 0.5h0m4-0.5h0m5.5 1h0m0.5-1h0m-17 1.5h0m17.5 0h0m-45 0.5h0m0 0h0m14.5 0h0m6 0h0m14 1h0m1.5 0h0m3 0h0m0.5 0h0m1.5 0h0m0 0h0m1.5 0h0m0.5-1h0m-30 1.5h0m7.5 0h0m-10 1.5h0m9 0h0m5-1h0m0 0h0m1 0.5h0m2 0.5h0m0.5-0.5h0m5.5 0.5h0m9.5-1h0m1 1h0m-24.5 0.5h0m-11.5 1h0m2.5 0.5h0m2.5 0h0m1 0h0m3.5 0h0m2 0h0m1 0h0m7 0h0m2-0.5h0m9.5 0h0m2 0h0m-44.5 1h0m9 0h0m25 0h0m7.5 0h0m1.5 0h0m-42.5 1h0m0.5-0.5h0m3 0.5h0m1-0.5h0m1 0h0m2 0h0m0.5 1h0m12.5 0h0m1.5-0.5h0m2-0.5h0m0 0h0m4 0.5h0m2 0.5h0m5-0.5h0m4.5 0.5h0m0.5 0h0m-40 0.5h0m22.5 0h0m-16 1.5h0m12-1h0m4 0.5h0m3 1h0m3.5 0h0m2.5 0h0m-25 1.5h0m2-1h0m1 1h0m2.5-0.5h0m1 0.5h0m7-0.5h0m3-0.5h0m20.5 1h0m-31.5 0.5h0m29 0h0m-39.5 1.5h0m5-1h0m2 0h0m0.5 0.5h0m2.5-0.5h0m1 0h0m24 1h0m3-0.5h0m-28.5 1h0m-9 1h0m0 0h0m2.5 0.5h0m4.5-1h0m1.5 1h0m1 0h0m26-1h0m3.5 0h0m3 0.5h0m-8 1h0m3.5 0h0m2 0h0m-36.5 0.5h0m4.5 1h0m1-0.5h0m-1.5 1h0m-4.5 0.5h0m1 0h0m1.5 1h0m-2 2h0m1 0h0" stroke="#1a1a1a" stroke-width="1.50" stroke-linecap="round"/><path d="M501.5 86.5h0m-26.5 0.5h0m31.5 0h0m-46.5 1.5h0m11-0.5h0m25-0.5h0m4 1h0m-39.5 0.5h0m34 0h0m7 0h0m-42.5 1h0m1 0h0m0.5-0.5h0m7 0h0m3.5 1h0m1 0h0m1.5-0.5h0m22 0.5h0m12-0.5h0m3 0h0m-36 1h0m20.5 0h0m9.5 0h0m3 0h0m-42.5 0.5h0m1.5 0.5h0m1.5 0h0m0-0.5h0m7.5 1h0m2.5 0h0m2.5-0.5h0m14.5-0.5h0m2 0h0m2.5 0.5h0m6.5 0h0m1.5 0.5h0m-39 0.5h0m14.5 0h0m-23 1.5h0m15.5-1h0m2 1h0m1 0h0m2-1h0m11 0.5h0m1-0.5h0m1 0h0m1.5 0.5h0m1-0.5h0m3.5 0.5h0m5.5 0.5h0m2 0h0m-40 2h0m0.5 0h0m3-0.5h0m6.5 0h0m1-0.5h0m12.5 1h0m6-1h0m8 0.5h0m0.5-0.5h0m-27.5 1.5h0m14 0h0m1.5 0h0m3.5 0h0m16 0h0m-52.5 0.5h0m2.5 0.5h0m17-0.5h0m13.5 0h0m5.5 0.5h0m2.5-0.5h0m2.5 0h0m0 0.5h0m6-0.5h0m0 0.5h0m2 0.5h0m2-0.5h0m-51.5 1h0m35.5 0h0m9 0h0m-47 1h0m0.5 0h0m7-0.5h0m3.5 0.5h0m1.5 0h0m9.5 0.5h0m0-0.5h0m3 0.5h0m5.5 0h0m13.5 0h0m2-1h0m2.5 1h0m5-0.5h0m-49.5 1h0m2 0h0m1 0h0m5.5 0h0m8 0h0m4 0h0m-18.5 0.5h0m3.5 1h0m6-0.5h0m1 0.5h0m1-0.5h0m0 0.5h0m2.5 0h0m3.5-1h0m0 0.5h0m6.5-0.5h0m7.5 1h0m2-0.5h0m5-0.5h0m8.5 0h0m-53.5 1.5h0m5 0h0m17.5 0h0m4 0h0m1 0h0m26 0h0m-49.5 1.5h0m3 0h0m7.5-0.5h0m3 0.5h0m1-1h0m4.5 0h0m9.5 0h0m0.5 1h0m6-1h0m1 1h0m0-1h0m9 1h0m1.5-0.5h0m1.5-0.5h0m1.5 0.5h0m-44.5 1h0m1 0h0m14 0h0m23.5 0h0m-44.5 1h0m5 0h0m4 0h0m2.5 0.5h0m5-0.5h0m5 0.5h0m2 0h0m8.5 0h0m1-1h0m1.5 0.5h0m3.5 0.5h0m4.5-0.5h0m2.5 0h0m0 0.5h0m1.5-1h0m-46.5 1.5h0m14 1.5h0m8.5 0h0m8.5-0.5h0m6-0.5h0m0.5 1h0m3-0.5h0m-16 1h0m4 0h0m3.5 0h0m5.5 0h0m1 0h0m5.5 0h0m-38 1h0m10 0h0m2 0h0m0.5 0.5h0m5.5 0h0m1.5-0.5h0m6-0.5h0m6 0h0m0.5 0h0m0 1h0m0.5-0.5h0m0.5 0h0m3 0.5h0m1-0.5h0m2.5-0.5h0m-20 1.5h0m4 0h0m1.5 0h0m9.5 0h0m2.5 0h0m1.5 0h0m-42.5 0.5h0m2 1h0m2 0h0m0.5-1h0m17 1h0m2-0.5h0m7.5-0.5h0m0 0h0m3.5 1h0m12-0.5h0m-44 1h0m21.5 0h0m3 0h0m1 0h0m2.5 0h0m2.5 0h0m12 0h0m-48 0.5h0m2.5 1h0m1 0h0m1.5-1h0m7 0.5h0m6 0.5h0m12.5-1h0m4 0.5h0m4 0.5h0m0.5-0.5h0m6.5 0h0m-35 1h0m28.5 0h0m-38.5 0.5h0m3.5 0.5h0m4 0.5h0m2.5-1h0m3.5 1h0m5 0h0m9.5-1h0m1 0.5h0m-28.5 1h0m15.5 0h0m8 0h0m5.5 0h0m-24 0.5h0m3 0h0m3 0.5h0m1 0h0m2.5 0h0m0.5 0h0m4.5 0.5h0m11.5-1h0m8 0.5h0m6.5 0.5h0m-39 0.5h0m14 0h0m18.5 0h0m-37.5 1.5h0m2.5-0.5h0m2 0h0m1-0.5h0m0.5 0.5h0m5.5-0.5h0m2.5 0.5h0m15.5-0.5h0m3 0.5h0m3 0h0m2.5 0h0m0.5-0.5h0m2 0.5h0m-20.5 1h0m2.5 0h0m4.5 0h0m8 0h0m6 0h0m-38.5 0.5h0m2.5 1h0m11.5-0.5h0m13-0.5h0m0 0.5h0m6.5-0.5h0m1.5 0.5h0m-23 1h0m15 0h0m3.5 0h0m8 0h0m-36 0.5h0m0.5 0.5h0m2-0.5h0m1 0h0m5.5 0h0m18 0.5h0m4-0.5h0m1 0.5h0m4.5-0.5h0m2 0h0m-38.5 1.5h0m10 0h0m-14 1.5h0m4.5-1h0m5.5 1h0m6.5-0.5h0m18.5-0.5h0m0.5 0h0m2.5 0.5h0m-3 1h0m3.5 0h0m2 0h0m-37 1.5h0m31.5 0h0m0.5-1h0m0.5 0h0m-28 1.5h0m0.5 0h0m33 0h0m-40.5 0.5h0m2 1h0m2-1h0m3.5 0h0m26 0.5h0m1 0.5h0m-34 0.5h0m35.5 0h0m-31.5 1.5h0m2-1h0m30.5 0h0m-35 3h0m0.5 0.5h0" stroke="#1a1a1a" stroke-width="1.10" stroke-linecap="round"/>
<path d="M486 104.5h0m0.5 1h0m6 1.5h0m-14.5 0.5h0m8 1h0m-8 0.5h0m15.5 0h0m-3 1.5h0m-14 0.5h0m5 0.5h0m-4 1.5h0m3 1.5h0m0-0.5h0m11-0.5h0m-1.5 2h0m-0.5 2.5h0m-2 1h0" stroke="#1a1a1a" stroke-width="1.25" stroke-linecap="round"/><path d="M487 106h0m4.5 0.5h0m-11.5 0.5h0m-4 2.5h0m5.5 0h0m-6 2h0m18 1.5h0m-13.5 1h0m3.5 0h0m1.5-0.5h0m2.5 0h0m-6 1.5h0m0.5 0h0m11 0h0m-13 0.5h0m2 0.5h0m7 0h0m1-0.5h0m-4.5 2h0m2.5 2h0" stroke="#1a1a1a" stroke-width="1.70" stroke-linecap="round"/><path d="M485.5 105h0m2.5 0h0m-9 1h0m1 0.5h0m4.5 0h0m-4.5 0.5h0m4.5 0h0m-2.5 1h0m5.5-0.5h0m0 0.5h0m1.5 0h0m-1 1.5h0m-5.5 2h0m2 1h0m-8 1.5h0m0 0h0m13.5 0.5h0m-8.5 0.5h0m1.5 0h0m0 0h0m-1.5 1h0m4.5 0h0m0.5 0.5h0m2.5-0.5h0m-7.5 1h0m4 0h0m3 0.5h0" stroke="#1a1a1a" stroke-width="0.80" stroke-linecap="round"/>
<polygon points="467.0,136.0 476.1,128.2 486.6,123.0 494.4,125.6 502.3,133.4 504.5,160.0 503.0,168.0 498.4,169.0 467.0,162.5 466.0,150.0" fill="#c8c8c8"/>
<polyline points="463.1,84.3 472.2,83.0 480.1,85.6 485.3,92.1 488.6,97.3 491.8,89.5 497.1,83.6 504.9,83.6 511.4,87.5 515.4,93.4" fill="none" stroke="#d4d4d4" stroke-width="1.6" stroke-linejoin="round" stroke-linecap="round"/>
<polyline points="463.1,85.9 472.2,84.6 480.1,87.2 485.3,93.7 488.6,98.9 491.8,91.1 497.1,85.2 504.9,85.2 511.4,89.1 515.4,95.0" fill="none" stroke="#1e1e1e" stroke-width="0.9" stroke-linejoin="round" stroke-linecap="round"/>
<polyline points="503.5,135.0 500.0,168.0" fill="none" stroke="#4a4a4a" stroke-width="1.0" stroke-linejoin="round" stroke-linecap="round"/>
<polygon points="607.2,60.2 599.4,64.2 594.2,72.0 590.2,79.8 587.6,91.6 587.0,98.1 590.2,94.2 591.5,85.1 598.1,74.6 605.9,65.5" fill="#3e3e3e"/>
<path d="M606 62.5h0m-9 6.5h0m1.5 1.5h0m-2 1.5h0m1-0.5h0m-1.5 6.5h0m-3.5 2.5h0m-4 9h0m0.5 0h0m1.5 0.5h0m-2.5 4.5h0m-1 2.5h0" stroke="#111" stroke-width="1.20" stroke-linecap="round"/><path d="M601 67h0m-7 9h0m-1.5 3h0m-1 1h0m-1 2h0m0 7.5h0m-2.5 2.5h0" stroke="#111" stroke-width="0.60" stroke-linecap="round"/><path d="M605.5 62.5h0m-3.5 1.5h0m0.5 1.5h0m-0.5 2h0m-5.5 4.5h0m2.5 1h0m-4.5 1h0m-5.5 12.5h0m1.5 0.5h0m-1.5 1.5h0m0 4h0m0.5-1h0m-1.5 3h0" stroke="#111" stroke-width="0.90" stroke-linecap="round"/>
<polygon points="589.0,96.0 588.8,97.7 588.3,99.2 587.5,100.2 586.5,100.5 585.5,100.2 584.7,99.2 584.2,97.7 584.0,96.0 584.2,94.3 584.7,92.8 585.5,91.8 586.5,91.5 587.5,91.8 588.3,92.8 588.8,94.3" fill="#3a3a3a"/>
<polygon points="608.5,60.2 613.8,64.2 619.6,68.1 628.1,65.5 636.0,66.8 641.2,74.6 646.4,83.8 647.7,94.2 645.1,107.3 639.9,128.2 636.0,154.3 634.7,163.5 629.4,163.5 599.4,158.3 596.8,128.2 592.8,107.3 590.2,94.2 591.5,85.1 598.1,74.6 605.9,65.5" fill="#c4c4c4"/>
<path d="M606.5 66h0m5.5 0.5h0m-9 2.5h0m11 0.5h0m0.5 0h0m20.5 0.5h0m-29.5 1h0m8.5 0h0m-0.5 0.5h0m3.5 1h0m11.5-1h0m6.5 0.5h0m-34.5 1h0m17 0h0m3 0h0m-17 0.5h0m8.5 1h0m2-1h0m15 0h0m-30 1.5h0m15.5 0h0m0.5 0h0m-9 1.5h0m3 0h0m5-1h0m7 0h0m1.5 0.5h0m4.5 0.5h0m0.5 0h0m-29 0.5h0m10 0h0m14.5 0h0m-10.5 0.5h0m1.5 0h0m8 0.5h0m0.5-0.5h0m5 1.5h0m-24 0.5h0m17 0.5h0m18.5-0.5h0m-31.5 1.5h0m11.5 0h0m12 0h0m2 0h0m-4.5 0.5h0m2.5 1h0m6.5 0.5h0m-26.5 1h0m17.5 0h0m-8 1h0m2.5 0h0m-28 1h0m20 0h0m10 0.5h0m-11.5 0.5h0m7.5 1.5h0m1-1h0" stroke="#1a1a1a" stroke-width="0.80" stroke-linecap="round"/><path d="M610.5 69h0m-5.5 1.5h0m1.5-0.5h0m7 0.5h0m0.5-1h0m0.5 0.5h0m15 0.5h0m6.5-0.5h0m-11.5 1h0m0 0h0m-11 0.5h0m1.5 0h0m6.5 0h0m7.5 1h0m2 0h0m5.5-1h0m-31.5 1.5h0m30.5 0h0m1.5 0h0m-34 0.5h0m9.5 1h0m14.5-1h0m5 0h0m5 0h0m-29 1.5h0m-2.5 1h0m1.5-0.5h0m2 0h0m15 0.5h0m7 0h0m-17.5 1h0m21.5 0h0m-38.5 1h0m8.5 0h0m4.5 0h0m1-0.5h0m2 0h0m4 1h0m8.5-0.5h0m-1.5 1h0m-16 1.5h0m6-1h0m11 0.5h0m1.5 0h0m1.5 0h0m3 0.5h0m9-0.5h0m-31 1h0m7 0h0m-18 1h0m20-0.5h0m12.5 0.5h0m3.5-0.5h0m7.5 0.5h0m-35.5 1h0m34.5 0h0m-43 1.5h0m1.5-0.5h0m21 0.5h0m9 0h0m10.5-1h0m-18 1.5h0m-8.5 1.5h0m13.5 0h0m-10 3h0m5.5 0.5h0m-3.5 2h0" stroke="#1a1a1a" stroke-width="1.20" stroke-linecap="round"/><path d="M607.5 66h0m-0.5 1h0m7 1.5h0m0.5 0.5h0m-3 0.5h0m14 0.5h0m-11.5 1h0m1.5 0h0m15 0h0m-23 0.5h0m4 0h0m22.5 0h0m-25.5 1.5h0m3.5 1h0m22 0.5h0m-10.5 0.5h0m-25.5 0.5h0m2.5 0.5h0m6 0h0m11 0h0m-8.5 1h0m30.5 0h0m-39.5 0.5h0m9 0h0m0.5 0.5h0m8.5-0.5h0m0 0.5h0m9.5 0.5h0m4 0.5h0m4 0h0m-37.5 1h0m6.5-0.5h0m5 1h0m4-0.5h0m7 0.5h0m0.5 0h0m-9.5 0.5h0m-14 1h0m3 0.5h0m15 0h0m21-0.5h0m-6.5 1h0m1 0h0m-16 1.5h0m1.5-0.5h0m2.5 0.5h0m-4.5 3.5h0m3 0h0m2 3h0m-0.5 1h0" stroke="#1a1a1a" stroke-width="1.60" stroke-linecap="round"/>
<path d="M609.5 67.5h0m4 0h0m1 1.5h0m-11 3.5h0m29-1h0m1.5 0.5h0m-32.5 1h0m4.5 0h0m1.5 0h0m-3.5 1h0m0.5 0.5h0m0.5-0.5h0m18.5 0.5h0m5-0.5h0m-18 2.5h0m13.5-0.5h0m2-0.5h0m4 0h0m3.5 1h0m3.5-0.5h0m-33.5 1.5h0m14.5 0.5h0m7.5 0.5h0m-25.5 0.5h0m28 0h0" stroke="#1a1a1a" stroke-width="0.80" stroke-linecap="round"/><path d="M610 67.5h0m2.5 1h0m-4.5 0.5h0m3 3.5h0m22.5-0.5h0m-2 1h0m2.5 0h0m-20 1h0m3 0.5h0m8 0h0m5.5-0.5h0m2-0.5h0m-21.5 1.5h0m0 1.5h0m8.5 0h0m3.5 0h0m1.5 0h0m6-1h0m3.5 0.5h0m1.5 0.5h0m-7 0.5h0m4 0h0m-30.5 1h0m1-0.5h0m11 1h0m12.5-0.5h0m-22 1h0" stroke="#1a1a1a" stroke-width="1.25" stroke-linecap="round"/><path d="M614 69.5h0m17 1h0m-27.5 0.5h0m30.5 1h0m-16 1h0m5.5 0h0m-22.5 1.5h0m2.5-1h0m13.5 0h0m12 0.5h0m-10 1h0m8 0h0m4.5 0h0m-22.5 1h0m5 0h0m5.5 0.5h0m5-0.5h0m11 0.5h0m-34 1.5h0m3.5 0.5h0m13.5-0.5h0m0 0.5h0m0-1h0m1 1h0m9.5-1h0m-8 1.5h0m-21 0.5h0m1 0h0" stroke="#1a1a1a" stroke-width="1.70" stroke-linecap="round"/>
<path d="M631 86.5h0m0 1.5h0m-25 1h0m28 0h0m-40.5 1.5h0m6-0.5h0m0.5 0.5h0m0-0.5h0m7 0h0m1-0.5h0m0.5 0.5h0m0.5 0.5h0m2-0.5h0m23.5-0.5h0m1 1h0m4.5-0.5h0m1-0.5h0m-46.5 1.5h0m8.5 0h0m34 0h0m-43 1h0m3.5-0.5h0m5.5 0h0m3 0h0m1 1h0m3.5-1h0m13.5 1h0m5.5-1h0m9 1h0m1.5-1h0m-39 1.5h0m-4.5 1.5h0m5-0.5h0m4-0.5h0m4 0h0m0.5 0h0m12.5 1h0m5.5-1h0m9.5 0.5h0m2-0.5h0m1 0.5h0m-15 1h0m-30.5 1h0m4 0h0m0 0h0m13 0h0m15 0h0m2.5-0.5h0m9 1h0m-34 0.5h0m13 0h0m0.5 0h0m13 0h0m8 0h0m-39.5 1h0m6 0h0m1.5-0.5h0m0.5 1h0m4.5-1h0m2 1h0m4-0.5h0m2 0.5h0m0.5-1h0m4.5 1h0m0.5-0.5h0m-27 1h0m22 0h0m0.5 0h0m1 0h0m8 0h0m2 0h0m9.5 0h0m-40 1h0m3-0.5h0m8 1h0m0.5 0h0m4-0.5h0m2.5 0h0m0-0.5h0m11.5 0.5h0m1 0h0m1.5 0h0m8.5 0h0m0-0.5h0m-36.5 1.5h0m5 0h0m16 0h0m2.5 0h0m11 0h0m-37.5 1h0m1-0.5h0m1 0h0m2.5 0h0m2.5 0.5h0m0.5-0.5h0m4 0h0m0.5 1h0m1 0h0m2-1h0m3 1h0m1.5 0h0m5-0.5h0m4 0.5h0m5.5-0.5h0m4.5-0.5h0m-40.5 1.5h0m31 0h0m-35.5 0.5h0m4.5 0.5h0m3.5 0h0m1.5 0.5h0m21 0h0m3.5-1h0m0 0.5h0m0.5 0h0m12-0.5h0m-26.5 1.5h0m4.5 0h0m17 0h0m-41.5 0.5h0m1.5 0.5h0m7.5 0h0m4.5 0h0m11 0.5h0m1 0h0m0-1h0m2.5 0h0m6.5 0.5h0m0-0.5h0m3 1h0m-5.5 0.5h0m-29 1h0m9 0h0m14 0h0m13 0h0m-25.5 1h0m14 0h0m5 0h0m6.5 0h0m-38.5 1h0m3 0.5h0m2.5-1h0m9 1h0m0.5 0h0m11.5-0.5h0m1 0h0m7 0h0m-25.5 1h0m4 0h0m11 0h0m16.5 0h0m-40 1h0m5.5 0h0m4.5 0h0m1 0h0m10 0.5h0m1.5-1h0m10 0h0m0.5 1h0m8.5 0h0m0.5 0h0m-31 0.5h0m7 0h0m-10 0.5h0m3 1h0m19.5-1h0m5 0.5h0m4.5 0h0m-33.5 1h0m9 0h0m3 0h0m13 0h0m0 0h0m-20 0.5h0m1 1h0m4-0.5h0m0 0h0m-16 1h0m0 0h0m20.5 0h0m4.5 0h0m10 0h0m7.5 0h0m-41 0.5h0m3.5 1h0m6.5-1h0m0.5 0.5h0m3.5-0.5h0m1.5 0.5h0m8 0h0m1-0.5h0m0 0h0m1.5 0h0m1 0.5h0m12.5-0.5h0m0.5 1h0m-34 0.5h0m0.5 0h0m10 0h0m14.5 0h0m6.5 0h0m1 0h0m-37.5 1h0m9.5-0.5h0m0.5 0.5h0m15.5 0.5h0m2-1h0m0.5 0h0m8.5 0h0m-35 1.5h0m6 0h0m26 0h0m2 0h0m-33.5 1h0m4.5-0.5h0m1 1h0m4-1h0m4.5 1h0m2.5-1h0m1.5 0h0m2 0h0m2 0h0m4 1h0m6-1h0m3 0h0m-28.5 1.5h0m13 0h0m-17.5 1h0m5 0.5h0m5-1h0m1.5 1h0m2-0.5h0m8-0.5h0m0.5 0.5h0m2.5 0.5h0m0-0.5h0m0.5 0h0m5 0h0m-20 1h0m0.5 0h0m7 0h0m2 0h0m13.5 0h0m-38 1.5h0m1-0.5h0m3-0.5h0m3.5 0.5h0m2.5 0.5h0m7-0.5h0m1 0.5h0m0-1h0m7 0h0m7.5 1h0m5-0.5h0m-34.5 2.5h0m8.5-1h0m4 0h0m2 1h0m11.5-0.5h0m0.5-0.5h0m2 0.5h0m0.5 0h0m1 0h0m4 0h0m-13.5 1h0m4.5 0h0m8 0h0m-34.5 0.5h0m0 0.5h0m0 0h0m2.5-0.5h0m1.5 1h0m19-0.5h0m8 0h0m2.5 1h0m-23 0.5h0m6 0.5h0m3 0.5h0m4 0h0m5-0.5h0m-22.5 1h0m7 0h0m6 0h0m12.5 0h0m1.5 0h0m-30 1h0m2.5-0.5h0m7.5 1h0m9-1h0m0.5 0.5h0m0-0.5h0m1.5 0.5h0m9 0h0m-16.5 1h0m-14 1.5h0m1 0h0m4.5-1h0m5.5 0.5h0m3-0.5h0m2.5 0h0m8.5 0h0m-23.5 1.5h0m3 0.5h0m0 1h0m12-0.5h0m7 0.5h0m-4 0.5h0m-12 1h0m11.5-0.5h0m4 0h0" stroke="#1a1a1a" stroke-width="1.50" stroke-linecap="round"/><path d="M637.5 87h0m-32 1h0m0 0.5h0m0.5 0h0m1.5-1h0m1.5 0.5h0m1 0.5h0m25 0h0m-35.5 0.5h0m-5.5 1h0m1.5 0h0m2-0.5h0m0 1h0m0.5-0.5h0m6-0.5h0m8 0.5h0m0-0.5h0m14.5 1h0m9.5-1h0m-41 1.5h0m8.5 0h0m0 0h0m7 0h0m23 0h0m-36 1.5h0m6 0h0m2 0h0m2 0h0m6.5-1h0m10 0.5h0m0.5 0.5h0m3.5-1h0m1.5 0.5h0m5 0.5h0m0 0h0m2 0h0m1.5-1h0m0.5 0h0m2 0h0m0.5 0h0m0.5 0h0m-37 1.5h0m-3 0.5h0m2 0h0m29.5 1h0m-32.5 0.5h0m26.5 0h0m5 0h0m11 0h0m-45.5 0.5h0m0.5 0h0m1.5 0h0m2.5 1h0m8.5-1h0m3.5 0.5h0m6.5 0.5h0m3 0h0m0.5 0h0m1-0.5h0m3.5 0h0m1 0h0m10 0h0m-43.5 1h0m35 0h0m-29.5 0.5h0m2 0h0m4 0h0m6.5 0.5h0m6.5 0.5h0m4 0h0m2-1h0m9.5 1h0m-38 0.5h0m1.5 0h0m28.5 0h0m-30 1h0m1 0h0m8.5 0h0m3.5 0h0m2 0h0m8-0.5h0m2 0h0m3 0.5h0m4.5-0.5h0m2 0.5h0m3-0.5h0m4.5 0.5h0m-34 1h0m2 0h0m18.5 0h0m1.5 0h0m-33 1h0m4.5 0.5h0m2-0.5h0m4.5 0.5h0m2 0h0m2.5-0.5h0m2.5 0h0m4 0.5h0m0.5 0h0m1-1h0m1 0h0m12.5 0.5h0m8.5 0h0m0.5-0.5h0m1.5 0.5h0m-29.5 1h0m4.5 0h0m2.5 0h0m12.5 0h0m-27 0.5h0m1.5 0.5h0m2.5-0.5h0m14.5 0h0m3 0h0m1.5 1h0m0 0h0m3.5-0.5h0m2 0.5h0m0.5 0h0m0.5-0.5h0m1.5-0.5h0m0.5 1h0m-41 0.5h0m16.5 0h0m3 0h0m5.5 0h0m-23 1h0m7 0.5h0m5 0h0m2.5 0h0m11.5-0.5h0m7.5-0.5h0m5 0h0m3 0h0m-41.5 1.5h0m19.5 0h0m19 0h0m5 0h0m-46.5 1h0m1.5-0.5h0m4.5 0.5h0m7 0.5h0m4.5 0h0m6 0h0m8.5-0.5h0m5.5-0.5h0m5 0h0m3 0.5h0m-20 1h0m-24 1h0m13.5 0h0m7.5 0h0m0 0h0m2 0h0m3.5 0h0m8 0.5h0m0-1h0m-16.5 1.5h0m24 0h0m-40.5 1.5h0m0.5 0h0m13 0h0m1-0.5h0m20.5 0h0m1.5-0.5h0m-30 1.5h0m12.5 0h0m6 0h0m6 0h0m0.5 0h0m-31 1.5h0m3-0.5h0m0 0.5h0m7-1h0m0.5 1h0m3 0h0m1.5-1h0m2 1h0m0-1h0m7 0.5h0m2.5 0.5h0m7-0.5h0m1 0h0m0.5 0.5h0m3.5 0h0m1 0h0m-27 0.5h0m16 0h0m6 0h0m2.5 0h0m-33 1h0m3-0.5h0m7 0h0m13.5 0h0m8.5 0h0m5.5 0.5h0m0 0h0m-26 1h0m-15 1.5h0m7.5-1h0m3.5 1h0m13 0h0m4.5-1h0m1.5 0.5h0m6.5 0h0m0-0.5h0m-11 1.5h0m8 0h0m2 0h0m-31 1.5h0m4.5 0h0m1-1h0m8.5 0h0m1 0h0m3.5 0.5h0m2-0.5h0m3 1h0m5-1h0m6 0.5h0m-29.5 1h0m11 0h0m14 0h0m2.5 0h0m-32 0.5h0m8.5 0h0m3.5 0h0m16 0.5h0m5 0.5h0m-31 0.5h0m2 0h0m1 0h0m-4 0.5h0m1 0h0m3 0.5h0m0.5 0.5h0m0.5 0h0m3-0.5h0m0 0h0m4 0.5h0m0.5-0.5h0m7 0h0m5.5-0.5h0m7.5 0h0m-20.5 1.5h0m0.5 0h0m19 0h0m-33 1h0m10.5 0h0m0-0.5h0m4 0.5h0m0.5 0h0m4.5 0h0m2-0.5h0m2.5 1h0m2.5-1h0m1.5 0h0m2 0h0m-9 1.5h0m-24.5 1.5h0m3-0.5h0m2.5 0h0m8.5 0h0m6.5 0h0m5-0.5h0m2.5 1h0m0 0h0m1.5-1h0m-21 1.5h0m1 0h0m4 0h0m0 0h0m6.5 0h0m15.5 0h0m0.5 0h0m-30 0.5h0m8.5 0.5h0m9.5 0h0m3.5 0.5h0m1-0.5h0m3 0.5h0m-14.5 0.5h0m-12.5 1h0m9.5 0h0m13.5 0.5h0m1.5 0h0m1-1h0m2.5 1h0m-10.5 0.5h0m-16.5 0.5h0m5.5 0h0m5 0.5h0m15.5 0h0m0 0.5h0m-20.5 2h0m5-0.5h0m6 0h0m-9 1h0m-7.5 1h0m0-0.5h0m2 0.5h0m2 0.5h0m3-1h0m2.5 0.5h0m0.5 0h0m3 0h0m0.5 0h0m0 0.5h0m5-0.5h0m-15.5 1h0m3 0h0m1.5 0h0m10.5 0h0m-17.5 0.5h0m4.5 0.5h0m12-0.5h0m2.5 0.5h0m3 0h0" stroke="#1a1a1a" stroke-width="0.70" stroke-linecap="round"/><path d="M608 88.5h0m25 0h0m5.5-0.5h0m-0.5 1h0m-26.5 1h0m0.5-0.5h0m0.5 0.5h0m14.5-0.5h0m0.5 0.5h0m-19.5 1h0m17 0h0m12.5 0h0m-41.5 1.5h0m4 0h0m4 0h0m9 0h0m15.5-1h0m14 0h0m-29.5 1.5h0m-19.5 1h0m1-0.5h0m1 1h0m4.5 0h0m3-1h0m4.5 1h0m2.5-0.5h0m4 0h0m9-0.5h0m4 1h0m9.5-1h0m-42 2.5h0m1.5 0.5h0m6-1h0m0 0h0m1 1h0m7-0.5h0m1.5 0h0m10.5-0.5h0m9 1h0m1.5-0.5h0m-31.5 1h0m-5.5 1.5h0m12 0h0m4.5-0.5h0m2-0.5h0m0.5 0h0m7 0.5h0m10.5 0.5h0m2-1h0m2.5 0h0m2.5 1h0m-32 0.5h0m0.5 0h0m3.5 0h0m10 0h0m2.5 0h0m1.5 0h0m6.5 0h0m0 0h0m-32.5 1h0m4 0.5h0m5-0.5h0m3-0.5h0m0.5 0.5h0m1 0h0m1.5-0.5h0m3.5 1h0m5.5-0.5h0m1.5 0h0m8.5 0h0m6.5 0.5h0m2-1h0m-44 1.5h0m42 0h0m-44.5 1.5h0m4-1h0m1 0.5h0m8.5 0h0m1.5 0h0m6 0.5h0m2 0h0m3.5-1h0m7 0h0m2 0.5h0m2-0.5h0m4.5 0.5h0m3-0.5h0m2 0h0m1 0h0m-46.5 1.5h0m2 0h0m23 0h0m18 0h0m-43.5 1h0m1.5 0h0m0.5-0.5h0m8.5 0h0m0 0.5h0m0 0.5h0m11-1h0m2 1h0m10 0h0m3.5-0.5h0m4 0.5h0m-30 0.5h0m5.5 0h0m8 0h0m-25.5 1h0m0.5-0.5h0m2 0h0m13.5 0h0m9.5 1h0m5 0h0m1.5 0h0m4 0h0m2.5-0.5h0m1.5 0h0m0.5-0.5h0m6.5 1h0m-41 0.5h0m16.5 0h0m8.5 0h0m-29.5 0.5h0m3 0h0m0.5 1h0m4.5-0.5h0m6.5-0.5h0m3.5 0h0m1.5 0h0m9 0.5h0m10 0.5h0m5.5-1h0m0 1h0m-33.5 0.5h0m27 0h0m4.5 0h0m-42 1h0m1.5 0.5h0m14-1h0m8.5 1h0m14-0.5h0m-33 1h0m20 0h0m-22.5 0.5h0m2 1h0m4-0.5h0m0.5 0h0m6 0h0m10 0.5h0m3.5-0.5h0m2 0.5h0m2.5-1h0m0.5 1h0m4-1h0m4.5 1h0m-42 0.5h0m26 0h0m17 0h0m-36 1h0m4 0.5h0m0.5-1h0m4.5 0.5h0m8.5 0h0m11 0h0m3 0h0m1.5 0.5h0m1-0.5h0m1 0.5h0m-32.5 0.5h0m-2.5 0.5h0m7 0h0m0.5 0h0m22 0.5h0m4.5 0.5h0m-14.5 0.5h0m4.5 0h0m-27 1h0m14-0.5h0m0.5 1h0m1-0.5h0m6 0h0m0.5 0.5h0m7.5-0.5h0m6-0.5h0m-31.5 1.5h0m26.5 0h0m5.5 0h0m-39 1h0m3.5 0.5h0m2-1h0m3 0h0m3.5 1h0m6-1h0m2 0.5h0m2 0.5h0m7.5 0h0m6-0.5h0m-26 1h0m1 0h0m-5 0.5h0m2 1h0m1.5 0h0m4.5-0.5h0m19 0h0m7 0.5h0m-36 0.5h0m5 0h0m9.5 0h0m19.5 0h0m-36 0.5h0m6.5 0.5h0m11-0.5h0m3 1h0m4.5 0h0m0 0h0m8 0h0m-22.5 0.5h0m6.5 0h0m20 0h0m-33.5 1h0m3-0.5h0m5.5 1h0m7-0.5h0m2.5 0.5h0m1.5 0h0m6.5 0h0m5.5-1h0m0.5 1h0m0 0h0m2.5-0.5h0m-4.5 1h0m-16 0.5h0m5.5 0.5h0m7 0.5h0m3-1h0m-18.5 1.5h0m5.5 0h0m-13 1.5h0m5-0.5h0m20.5 0.5h0m-23.5 0.5h0m2 0h0m0.5 0h0m23 0h0m-31.5 1.5h0m2-1h0m0 0.5h0m1.5 0h0m8 0h0m1-0.5h0m12 1h0m4-0.5h0m-19.5 1h0m5.5 0h0m-10 0.5h0m1 0h0m1.5 1h0m14 0h0m7.5 0h0m-24.5 0.5h0m1.5 0h0m0 1h0m0.5-0.5h0m3.5 0h0m4.5 0.5h0m2-0.5h0m-7 1.5h0m21.5 0h0m-26.5 1h0m1.5 0.5h0m2-1h0m8 0.5h0m6 0h0m-14 1.5h0m1 0h0" stroke="#1a1a1a" stroke-width="1.10" stroke-linecap="round"/>
<path d="M617 110.5h0m1.5 0h0m2.5 2h0m-5.5 0.5h0m9 1h0m-10.5 1h0m-3 1h0m3.5-0.5h0m12 1.5h0m-18 1.5h0m8 0h0m2-1h0m4.5 1h0m-7 0.5h0m-8 1.5h0m0.5 0h0m11.5-0.5h0m6 0h0m3-0.5h0m-20.5 1.5h0m4 1h0m11-0.5h0m-11 1.5h0m-3 1h0m4 0h0m7.5 0h0m3.5-0.5h0m0 0.5h0m-6.5 1h0m-4.5 1h0m8.5-0.5h0m-1.5 1.5h0m0 2h0m-0.5 0.5h0" stroke="#1a1a1a" stroke-width="1.70" stroke-linecap="round"/><path d="M614 111h0m-2 1.5h0m9-0.5h0m0.5 0.5h0m0.5-1h0m1.5 1.5h0m-0.5 1.5h0m-5 0.5h0m3.5 0h0m-9 1h0m8 0.5h0m0 0h0m2-0.5h0m2 0h0m3.5 0.5h0m-1.5 0.5h0m-19 0.5h0m9.5 1.5h0m-0.5 1h0m2.5 0.5h0m3-1h0m-1.5 3.5h0m-11 1.5h0m3.5-1h0m2.5 1h0m-4 2h0m2.5 0h0m1 0h0m7.5 1.5h0" stroke="#1a1a1a" stroke-width="1.25" stroke-linecap="round"/><path d="M616.5 111.5h0m2 1.5h0m4.5 1h0m-12.5 1h0m1 0.5h0m14.5 0.5h0m-13 1h0m-4.5 1h0m11 0h0m7 0h0m-10 1h0m4.5 0h0m-8 0.5h0m5 0h0m2 0h0m0.5 0.5h0m1.5 0h0m-8 1h0m-1 2h0m7.5 0h0m4.5 0h0m-13 1h0m0 0h0m15.5-0.5h0m-13.5 2.5h0m0-0.5h0m5.5 1h0m4.5 0.5h0m-3 1h0m-5.5 1h0" stroke="#1a1a1a" stroke-width="0.80" stroke-linecap="round"/>
<polygon points="604.6,140.0 631.0,140.0 630.0,162.5 600.5,157.5" fill="#c8c8c8"/>
<path d="M622 140.5h0m1.5-0.5h0m-17.5 2h0m2.5 0.5h0m1 0h0m12.5-1h0m1.5 0h0m4.5 1.5h0m-16.5 1.5h0m-5.5 1.5h0m10 0.5h0m11-0.5h0m-4 1h0" stroke="#1a1a1a" stroke-width="1.40" stroke-linecap="round"/><path d="M606.5 141h0m3 1h0m7 0h0m1-0.5h0m1.5 0h0m3.5 3h0m1 2.5h0m2 0h0" stroke="#1a1a1a" stroke-width="0.70" stroke-linecap="round"/><path d="M612.5 142.5h0m5 0h0m10 2.5h0m-19 0.5h0m7 0h0m6.5 0.5h0m1.5 0h0" stroke="#1a1a1a" stroke-width="1.05" stroke-linecap="round"/>
<polyline points="600.7,86.4 608.5,85.7 613.8,89.0 619.0,96.8 624.2,89.0 630.8,85.1 637.3,85.1 642.5,89.0" fill="none" stroke="#151515" stroke-width="1.0" stroke-linejoin="round" stroke-linecap="round"/>
<polyline points="604.5,141.0 604.8,158.5" fill="none" stroke="#4a4a4a" stroke-width="1.0" stroke-linejoin="round" stroke-linecap="round"/>
<polyline points="630.0,141.0 629.5,163.0" fill="none" stroke="#4a4a4a" stroke-width="1.0" stroke-linejoin="round" stroke-linecap="round"/>
<clipPath id="bc1"><polygon points="31.4,254.1 44.3,246.1 76.4,237.2 94.0,238.8 108.5,246.1 127.8,257.3 126.2,263.7 119.7,275.0 110.1,283.0 97.3,289.4 86.0,291.0 68.4,292.6 53.9,289.4 41.0,283.0 37.8,275.0 33.8,262.1"/></clipPath><g clip-path="url(#bc1)">
<polygon points="31.4,254.1 44.3,246.1 76.4,237.2 94.0,238.8 108.5,246.1 127.8,257.3 126.2,263.7 119.7,275.0 110.1,283.0 97.3,289.4 86.0,291.0 68.4,292.6 53.9,289.4 41.0,283.0 37.8,275.0 33.8,262.1" fill="#262626"/>
<path d="M49.7 285.5l-0.5 2.5M47.1 264.7l1.1 3.8M90.0 284.3l-0.6 5.0M41.1 271.8l-0.8 5.3M65.6 273.1l-1.8 4.4M41.4 283.0l2.8 5.3M82.4 278.6l-1.5 4.4M94.0 272.3l-1.5 3.1M115.6 268.7l-0.5 4.1M44.9 275.9l-0.1 3.1M90.7 282.2l-1.8 4.4M58.7 285.3l-1.8 3.2M63.5 274.3l-0.0 3.7M106.5 268.8l-1.0 4.3M55.2 263.7l-2.6 4.8M109.8 279.2l-0.9 3.9M73.9 275.4l0.7 3.6M72.7 273.5l1.6 3.5M62.7 283.8l0.9 5.6M52.5 271.7l-1.2 3.5M66.5 290.5l-1.7 3.5M94.4 267.8l0.7 5.5M41.9 265.6l0.2 3.4M95.5 280.7l0.0 5.2M66.3 266.8l-2.9 5.0M83.7 280.7l1.4 4.6M47.7 279.5l-2.8 5.2M71.0 289.7l-1.4 4.1M109.7 281.0l1.7 5.2M42.4 282.8l-0.8 5.3M63.3 280.6l2.7 4.8M49.9 283.2l-0.4 3.8M54.3 275.4l0.1 3.2M105.4 282.0l1.2 2.2M56.6 272.3l1.5 4.6M75.6 265.0l-1.4 3.9M84.3 265.5l0.4 3.0M98.9 274.5l-0.5 5.9M72.8 290.7l1.1 3.4M103.0 279.4l-2.1 4.1M99.9 279.8l2.6 4.6M99.7 284.1l2.7 5.0M62.9 270.3l-0.4 4.1M73.6 291.3l0.3 2.5M35.2 262.2l-1.3 3.5M114.5 273.2l-0.3 4.7M50.5 285.5l-0.3 2.6M52.2 267.4l-0.3 5.6M79.3 289.6l0.4 2.6M107.5 272.7l-1.8 5.6M108.9 275.7l-1.0 5.3M115.5 277.3l1.4 3.8M59.0 272.7l0.4 3.0M71.7 277.5l0.9 2.8M37.9 264.4l-1.6 5.2M91.2 268.2l0.7 3.0M40.9 266.5l-0.7 2.7M97.1 268.9l1.6 4.4M110.7 280.6l-1.0 3.9M38.0 268.5l-0.7 3.1M98.6 270.3l2.5 5.0M111.2 275.4l-0.1 4.1M83.0 286.3l1.7 3.0M87.1 266.5l-1.5 4.2M59.1 278.4l-0.4 3.7M85.9 289.0l0.2 5.1M55.3 268.2l1.2 2.6M38.9 267.5l-0.6 4.7M61.3 282.4l-0.5 2.9M86.6 267.2l1.4 2.6M121.9 268.7l0.6 3.1M89.2 284.0l0.2 3.0M55.7 270.9l0.0 3.5M80.2 274.0l0.7 2.7M109.8 274.7l-0.3 4.5M107.3 276.4l0.7 4.8M42.9 274.3l2.2 4.1M64.3 276.7l2.0 4.5M41.9 282.1l1.2 4.8M111.0 267.3l0.8 3.1M72.5 273.8l-1.1 4.9M50.5 285.3l0.3 2.5M118.9 275.0l1.9 4.3M45.8 276.4l-0.7 5.4M45.7 272.9l-1.2 2.4M50.3 262.1l-1.2 4.1M64.8 275.5l-1.4 2.9M64.9 266.5l1.2 4.3M97.4 279.4l-0.5 4.5M80.2 287.1l-0.3 3.0M103.9 274.3l0.8 4.1M80.1 266.7l-0.2 3.6M81.3 273.9l0.2 5.8M64.9 272.3l2.7 5.1M71.6 282.9l0.1 5.7M53.3 287.3l-1.0 5.7M76.9 287.4l0.1 2.5M43.6 272.3l1.1 5.0M68.9 278.5l-0.9 3.6M100.4 268.8l0.3 3.7M66.7 280.2l0.0 2.7M79.0 288.9l1.5 3.6M85.9 274.1l-0.0 3.1M35.3 262.5l-0.6 3.2M79.4 279.1l-2.0 3.6M112.5 269.0l1.5 3.3M80.3 265.2l-2.1 3.8M61.5 286.2l-1.7 4.7M83.6 279.5l1.5 4.5M111.6 270.8l-0.0 2.9M35.9 267.3l2.0 3.9M91.7 287.9l-2.2 4.1M86.9 282.9l-1.4 5.2M102.1 271.1l-1.6 3.8M73.3 287.3l0.7 2.9M49.7 278.7l-0.6 2.6M56.5 271.4l1.7 5.3M56.3 277.0l0.4 4.7M53.6 273.1l-0.6 4.4M95.5 278.4l-2.6 5.1M63.7 288.2l-1.4 4.6M57.5 274.4l-1.7 4.9M64.0 283.6l-2.5 4.6M57.9 268.7l-0.2 3.8M85.1 276.2l-1.2 2.8M96.5 288.8l0.8 4.2M85.3 287.7l0.1 4.3M62.0 270.5l-0.2 5.9M105.5 280.2l-2.1 3.6M111.3 272.5l-0.5 4.1M97.0 269.0l-0.4 4.4M63.2 269.6l-1.5 3.5M40.9 261.7l1.3 2.9M84.1 286.8l-0.8 4.6M70.4 280.8l0.1 5.6M37.8 270.8l1.0 2.6M87.0 280.3l0.0 4.1M71.3 281.2l0.5 4.8M53.2 280.4l-0.2 5.2M61.8 281.7l-0.9 3.9M65.7 273.6l-0.9 3.1M70.1 281.8l-1.1 2.5M107.7 278.6l0.4 4.9M74.0 276.0l-0.7 3.4M76.3 271.5l-0.9 3.9M36.0 265.1l-0.9 4.8M80.5 281.4l1.2 3.4M86.7 286.8l1.0 4.5M60.3 278.1l1.6 4.4M100.6 283.5l-0.9 2.4M61.8 282.7l-1.4 2.8M103.0 279.4l0.3 3.8M98.9 287.3l-1.9 5.6M36.4 262.4l-1.1 4.7M79.7 265.6l-1.5 2.7M95.3 288.6l1.2 4.4M46.3 267.3l0.9 3.1M92.6 282.5l1.6 3.5M74.3 279.2l-0.1 5.8M106.1 274.5l-0.1 4.6M58.6 278.2l1.6 4.0M54.8 269.8l-1.9 5.7M38.2 271.9l-0.5 3.1M103.6 275.9l-0.1 3.9M78.8 287.8l-1.9 3.3M79.2 280.9l-2.5 4.8M46.0 272.6l-0.8 3.2M55.1 265.4l2.1 3.9M113.1 267.3l2.0 3.8M62.3 264.1l0.7 4.1M55.9 279.1l0.3 2.8M50.0 274.1l0.3 2.7M79.1 274.4l-0.0 5.2M81.6 290.7l-0.4 5.3M79.4 267.0l-1.3 2.4M45.8 269.7l-1.6 4.0M94.0 281.4l-0.2 4.3M85.6 290.5l-1.1 3.2M41.9 268.5l1.4 3.5M71.9 268.2l0.7 2.5M80.9 289.6l-1.6 4.3M109.9 270.4l2.4 5.3M84.6 282.0l-1.0 3.8M87.5 282.5l-2.6 4.6M65.1 273.1l-1.3 3.4M65.3 275.8l-1.9 3.4M83.8 291.0l1.3 2.9M68.5 286.3l1.0 4.6M45.6 283.0l1.0 3.5M85.4 269.8l-1.6 3.1M102.6 278.0l-2.6 4.6M96.6 269.2l1.2 4.2M117.0 274.5l-1.5 2.7M96.8 279.8l-0.1 3.2M88.6 286.5l1.3 5.0M117.0 272.1l-0.8 3.7M94.9 283.3l1.0 3.5M101.2 283.5l0.1 4.7M88.1 284.7l-1.0 4.2M102.6 286.7l-1.7 4.8M113.1 268.2l-0.2 3.5M108.8 275.0l1.5 2.8M67.8 291.2l-0.2 2.7M64.4 279.5l-1.4 2.5M57.8 279.9l-1.3 3.0M37.8 270.5l0.7 3.1M72.1 266.4l1.3 2.3M80.0 279.3l0.9 4.9M98.5 274.1l2.0 4.4M40.1 269.1l-0.8 4.5M32.9 258.1l-0.2 5.1M105.1 273.0l-0.4 4.8M66.0 266.4l0.6 2.9M81.5 272.6l1.0 4.7M92.9 267.1l0.9 2.5M112.1 276.7l0.8 4.7M44.3 270.6l-0.9 2.7M119.3 267.3l-1.8 4.4M110.5 270.8l0.4 3.1M110.5 279.7l-1.0 3.3M97.6 283.2l-0.6 3.2M114.0 275.2l-2.2 4.0M64.3 271.8l0.8 2.8M125.9 261.8l-0.3 5.7M97.1 289.2l0.9 3.4M75.3 269.5l0.3 3.4M107.2 279.0l2.1 5.5M85.1 286.8l0.9 3.3M45.9 265.5l1.0 3.5M89.2 283.3l1.1 4.4M67.1 282.0l-0.5 4.0M84.2 267.8l-2.8 4.9M74.8 283.8l-0.8 3.9M96.8 271.2l-0.1 3.2M36.5 259.5l0.2 2.6M106.3 279.3l-1.6 3.1M74.5 270.7l-1.1 3.8M79.9 266.2l-0.6 4.6M49.3 266.1l-1.1 4.4M100.7 277.8l-1.3 3.0M48.5 268.1l-0.9 2.9M99.5 279.8l1.5 3.8M88.0 270.8l-1.4 3.2M117.7 270.3l1.0 3.3M104.8 278.7l-0.2 3.0M81.8 267.8l0.3 2.8M99.2 277.0l-1.3 4.3M63.2 272.9l-0.3 3.5M62.0 265.3l-1.0 3.3M90.6 271.3l1.0 5.5M40.2 276.2l-1.7 4.5M41.3 274.8l0.2 2.6M63.5 270.5l0.2 2.6M87.8 273.5l-1.5 5.3M43.1 271.2l0.9 5.3M102.5 273.3l0.1 4.5M42.2 278.9l2.5 4.9M103.8 269.7l-2.0 4.4M68.1 275.0l1.2 5.7M38.2 261.2l-1.1 5.0M67.6 267.2l-0.5 3.0M36.1 267.6l-1.0 2.6M61.0 285.5l1.0 2.6M60.8 279.4l2.4 4.3M63.8 266.2l-1.6 3.9" stroke="#a8a8a8" stroke-width="1.15" stroke-linecap="round" fill="none"/>
<path d="M48.8 270.8l2.2-1.3M86.5 283.9l1.6-0.2M82.6 288.2l2.1 0.9M45.0 282.5l2.1-0.6M64.5 284.5l1.8-0.2M47.6 270.6l1.8 0.6M107.1 281.8l2.7 1.2M93.5 283.4l2.0 1.2M111.8 275.7l1.9-0.0M115.1 276.5l2.0 0.7M105.8 268.9l2.2 0.3M109.6 268.4l2.0 0.8M112.1 276.8l2.8 0.8M77.5 283.0l2.5-0.6M71.6 283.8l2.4-1.3M75.9 271.0l2.8 0.0M85.5 287.0l2.0 0.2M87.1 280.9l2.0 0.2M76.2 283.7l2.9 0.3M116.3 267.3l2.7-0.8M96.4 273.0l2.1 0.1M47.6 267.5l1.6 0.3M46.0 265.6l2.6 0.6M51.9 274.4l2.0 0.2M71.7 283.7l2.9-0.0M41.0 274.4l2.5 0.4M87.7 285.3l2.1 0.1M55.8 281.7l2.4 0.6M53.2 277.6l2.6 0.7M43.2 265.1l1.8 0.1M60.3 281.6l1.6-0.3M57.5 279.4l2.7 0.5M70.2 266.1l1.8 0.6M111.0 270.9l2.1 1.1M110.9 277.4l2.7 0.1M78.0 284.4l2.2 0.9M97.3 267.8l2.8-0.2M61.2 273.5l2.6 0.5M92.5 282.1l2.2 0.4M67.9 270.2l2.6-0.5M66.3 285.7l1.5 0.4M67.8 264.1l2.4 0.1M107.0 281.4l2.0-0.6M52.0 276.9l1.7 0.9M38.1 269.6l1.8 0.2M89.2 283.7l2.8-0.1M60.5 288.7l1.9 1.0M47.4 272.4l2.4-0.8M71.9 285.6l2.2-0.2M117.6 268.6l2.3 0.9M50.5 265.5l1.9-0.6M51.1 266.9l1.7-0.1M66.4 283.9l1.6-0.0M43.3 271.8l2.4 0.6M77.1 289.6l1.7-0.1M65.6 267.1l2.7-0.6M103.6 271.3l2.0-0.1M42.8 263.3l2.7-0.7M43.5 267.1l2.6-0.7M112.0 273.8l1.5-0.3M69.1 266.7l1.6-0.4M82.9 284.8l1.9 0.8M67.2 282.3l1.5-0.3M121.4 267.5l2.1-0.9M88.7 282.1l2.1-0.7M77.7 268.4l2.5 0.8M43.4 278.9l2.2-0.3M74.4 267.6l2.9-0.0M115.5 275.1l2.1-0.4M75.3 268.6l2.1-0.3M37.8 273.8l2.3 0.2M100.1 274.2l1.7-0.9M48.2 280.1l1.6 0.6M37.2 264.6l1.5-0.6M40.0 269.2l2.4-0.5M69.2 291.1l2.1 0.2M81.9 278.4l1.4-0.7M58.1 288.4l2.0 0.9M86.7 270.6l2.6 0.7M89.5 289.5l1.6 0.4M110.5 269.6l1.8-0.5M86.2 279.8l2.1-0.9M46.9 279.6l2.1 0.4M66.7 286.9l1.9 1.0M58.0 290.2l1.8 0.1M73.5 271.4l2.0 1.2M112.9 276.7l1.8 0.5M100.2 278.5l2.2-0.4M88.1 270.0l1.6 0.4" stroke="#a8a8a8" stroke-width="1.0" stroke-linecap="round" fill="none"/>
<polygon points="31.4,254.1 44.3,246.1 76.4,237.2 94.0,238.8 108.5,246.1 127.8,257.3 124.0,266.0 100.0,268.0 70.0,263.0 38.0,261.0" fill="#a8a8a8"/>
<path d="M63.6 250.3l-0.5 2.3M115.2 257.5l-0.0 1.4M91.6 255.3l-0.7 2.8M53.2 251.2l1.7 2.0M71.5 263.0l0.8 1.0M123.8 260.2l-2.1 1.6M60.2 250.0l1.2 1.1M65.2 243.8l-0.8 2.8M48.9 255.9l1.4 0.6M111.3 251.2l-0.5 1.5M78.2 239.2l-0.4 1.3M50.5 257.5l-1.9 1.4M113.5 264.2l1.2 1.0M44.9 249.6l1.5 0.1M54.0 256.0l-0.1 1.3M83.9 259.3l-0.1 1.5M56.6 254.8l1.7 1.9M35.8 254.1l-1.9 1.2M101.3 260.4l-1.0 1.2M70.3 257.5l-1.3 0.1M68.8 253.2l-0.3 2.7M115.2 253.3l-1.5 1.9M71.4 249.6l-0.6 1.4M75.7 239.7l1.0 1.8M78.8 244.3l2.6 1.3M43.8 247.7l-0.2 2.8M59.3 250.4l2.1 1.7M108.7 258.4l-1.1 1.0M80.3 241.4l0.5 1.4M101.9 252.6l1.9 0.9M126.2 257.0l0.3 1.5M70.3 250.4l-0.1 1.7M94.6 246.8l1.5 1.0M97.9 249.1l-0.8 1.0M117.5 262.4l1.1 1.0M126.0 258.4l-2.2 1.2M65.7 253.9l-2.6 0.1M118.7 258.6l0.7 1.5M111.9 248.3l1.3 1.4M51.8 255.5l2.0 0.3M92.9 266.0l0.1 1.7M76.5 254.1l-1.5 1.1M110.5 257.2l0.5 1.2M115.5 264.0l-2.7 0.7M97.4 244.8l1.7 0.4M46.9 255.1l-1.9 0.3M65.8 249.0l0.2 1.8M55.3 243.3l0.3 1.2M77.5 254.4l-1.5 0.2M103.2 252.2l0.7 2.0M78.0 242.9l-2.4 1.5M54.3 260.5l-0.4 2.0M89.9 239.4l-1.0 1.7M121.2 256.9l0.3 2.6M107.8 265.9l2.5 1.1M60.2 256.2l1.9 0.2M111.2 257.5l2.4 1.1M91.0 258.5l-0.7 2.1M78.0 264.1l1.8 1.9M60.9 245.2l-1.9 1.5M79.6 253.8l-1.2 1.1M45.7 248.6l-0.1 1.9M74.6 262.5l-0.4 2.5M57.0 258.2l-1.9 0.5M112.9 255.0l-0.7 1.2M103.8 246.4l1.2 1.5M35.7 258.5l-0.7 1.2M57.5 251.8l-1.4 0.6M125.2 262.5l-2.0 0.1M67.1 242.9l0.4 2.9M109.9 253.3l1.5 0.4M38.0 254.1l1.2 0.8M94.3 255.3l-1.9 1.4M74.1 258.7l2.0 1.9M35.3 256.1l2.0 0.3M101.4 250.1l-2.6 0.0M42.5 260.1l-1.6 0.1M66.6 259.2l1.1 1.7M50.9 253.9l-1.7 0.6M98.1 243.9l1.8 1.9M100.0 255.1l-1.3 1.7M60.1 260.5l1.7 0.9M95.5 256.3l2.6 0.3M103.6 265.9l-2.6 0.8M67.1 259.6l-2.0 0.5M70.9 247.7l0.7 1.2M115.6 265.8l1.1 0.7M110.1 265.3l0.3 2.8M105.5 259.7l-0.4 1.3M104.9 258.7l-0.3 1.3M108.8 258.7l-0.6 1.6M91.5 257.4l-1.0 0.9M42.2 247.5l1.5 1.0M119.9 259.0l-2.3 1.0M87.1 248.2l-0.2 2.1M66.2 259.1l1.8 1.0M105.3 263.3l-0.9 2.2M68.7 255.6l2.5 0.7M82.7 255.7l-1.2 2.1M91.3 265.6l1.5 2.2M112.6 255.3l-0.4 2.4M81.2 245.6l2.3 0.9M96.7 262.7l-0.2 1.4M54.8 254.8l-2.3 1.0M99.4 263.3l-1.0 1.9M108.0 258.1l-2.4 0.5" stroke="#d0d0d0" stroke-width="1.0" stroke-linecap="round" fill="none"/>
<path d="M77 238.5h0m8.5-0.5h0m-16.5 2.5h0m3-0.5h0m2.5 0h0m1.5 0h0m4 0.5h0m10.5-1h0m-27.5 1.5h0m11.5 0h0m-17 1.5h0m4.5 0h0m20 0h0m2-1h0m1.5 0.5h0m1.5 0.5h0m3.5-0.5h0m9-0.5h0m-43.5 1.5h0m7.5 0h0m21 0h0m14 0h0m-47.5 1.5h0m13 0h0m3.5-1h0m9 0.5h0m5.5 0h0m2.5-0.5h0m0.5 1h0m4.5-1h0m-32.5 1.5h0m1 0h0m28 0h0m4 0h0m-28.5 1h0m7.5-0.5h0m2 1h0m9.5-1h0m3 1h0m2-0.5h0m12 0.5h0m3-0.5h0m5.5 0.5h0m-60 1.5h0m5.5 0.5h0m10.5-1h0m8.5 0h0m4.5 0h0m0 0.5h0m0.5 0h0m2 0h0m2.5 0h0m8.5-0.5h0m2 0.5h0m3.5-0.5h0m5 1h0m0.5-1h0m2 0.5h0m1-0.5h0m-57 1.5h0m15.5 0h0m1.5 0h0m16 0h0m2 0h0m1 0h0m13 0h0m15 0h0m-68.5 1h0m3.5 0h0m2.5 0h0m1.5 0.5h0m6-1h0m3.5 0h0m2 0h0m4 0h0m3 1h0m11.5 0h0m2.5-1h0m6 0.5h0m6.5 0.5h0m2.5-0.5h0m1.5 0h0m-49.5 1h0m27 0h0m-24.5 0.5h0m10 0.5h0m21.5 0h0m0.5 0.5h0m9-1h0m3.5 1h0m1.5-0.5h0m-38 1h0m7 0h0m42.5 0h0m5.5 0h0m-78 1h0m2 0h0m2.5 0.5h0m11-1h0m3.5 1h0m3.5-1h0m0.5 0h0m4 0.5h0m1.5 0.5h0m3 0h0m13-1h0m1 0h0m5.5 0.5h0m8 0h0m2 0.5h0m0.5-0.5h0m9 0.5h0m3.5-0.5h0m1-0.5h0m5 0h0m4.5 1h0m-73.5 0.5h0m18.5 0h0m4.5 0h0m0 0h0m10.5 0h0m16 0h0m0 0h0m16.5 0h0m5.5 0h0m4 0h0m0 0h0m-88 0.5h0m0 0.5h0m1.5 0.5h0m5-0.5h0m3-0.5h0m7.5 1h0m9.5 0h0m15-0.5h0m9-0.5h0m11 1h0m2 0h0m3.5-0.5h0m3.5 0.5h0m5.5-1h0m3 0h0m4.5 0h0m2.5 0.5h0m0-0.5h0m-82.5 1.5h0m57 0h0m25.5 0h0m-64 1h0m6 0h0m4.5 0.5h0m4 0h0m16-1h0m0 0h0m15 0h0m5 0.5h0m5.5 0.5h0m15-0.5h0m-82 1h0m0.5 0h0m8 0h0m7.5 0h0m17.5 0h0m30 0h0m12.5 0h0m-79.5 1.5h0m1 0h0m0-0.5h0m1 0h0m1.5 0.5h0m3 0h0m1-0.5h0m1-0.5h0m1.5 0h0m7 0h0m1 0.5h0m1.5 0.5h0m5-1h0m4.5 0.5h0m19 0.5h0m1-0.5h0m3 0h0m14 0h0m15 0.5h0m2.5-1h0m-75.5 1.5h0m38.5 0h0m37.5 0h0m-65 1h0m6 0h0m0.5 0.5h0m2.5-0.5h0m7.5 0.5h0m8-1h0m2.5 1h0m1.5-0.5h0m0.5 0.5h0m0-1h0m7 0h0m10 0h0m14.5 0h0m-46 1.5h0m5.5 0h0m17 0h0m18.5 0h0m6.5 0h0m1 0h0m-30 0.5h0m28.5 0.5h0m-28 1h0m29.5 0h0m-39 0.5h0m6.5 1h0m3 0h0m0.5 0h0m2-0.5h0m0.5-0.5h0m1.5 1h0m14-1h0m8.5 0.5h0" stroke="#151515" stroke-width="0.80" stroke-linecap="round"/><path d="M79 238h0m6 1h0m6.5 0h0m1.5 0h0m0.5 0h0m-24.5 1h0m1.5 0h0m1.5 0h0m3.5 0h0m2 0.5h0m4-0.5h0m1 0h0m4.5-0.5h0m6 0h0m-25.5 2h0m0.5 0h0m9 0.5h0m11.5-0.5h0m8.5 0.5h0m0 0.5h0m-36 0.5h0m12.5 0h0m21.5 0h0m-41.5 1.5h0m2.5-0.5h0m1 0.5h0m5 0h0m4.5 0h0m2-0.5h0m5.5-0.5h0m2.5 0.5h0m3.5 0h0m4 0h0m3.5 0.5h0m2.5-1h0m4.5 0.5h0m-45 1h0m16 0h0m1 0h0m38.5 0h0m-57.5 1.5h0m11.5-0.5h0m0.5 0h0m1-0.5h0m8 0.5h0m2.5-0.5h0m1.5 1h0m2.5-1h0m7 0.5h0m3-0.5h0m15 1h0m6 0h0m1.5 0h0m-43 0.5h0m40.5 0h0m-62 1.5h0m4 0h0m0.5 0h0m5.5-1h0m8.5 1h0m0.5-0.5h0m0.5 0.5h0m10-1h0m5 1h0m13-1h0m13.5 0h0m2.5 0.5h0m4 0h0m-51.5 1h0m22.5 0h0m8 0h0m14.5 0h0m-63 1.5h0m4.5-0.5h0m2.5 0h0m6.5-0.5h0m7 0.5h0m1.5-0.5h0m18 0h0m11.5 1h0m2 0h0m1.5 0h0m6.5-0.5h0m6.5-0.5h0m-72 1.5h0m15.5 0h0m33.5 0h0m24.5 0h0m-70.5 0.5h0m8.5 0.5h0m7.5 0.5h0m9-1h0m12 1h0m8 0h0m9 0h0m8.5 0h0m3 0h0m-26 0.5h0m1 0h0m10 0h0m0.5 0h0m-15.5 1.5h0m15 0h0m12.5-0.5h0m1.5 0h0m18 0.5h0m-88 0.5h0m25.5 0h0m13.5 0h0m6.5 0h0m6 0h0m5 0h0m5 0h0m6.5 0h0m-65 1.5h0m4 0h0m4.5-0.5h0m7 0h0m16 0.5h0m6-1h0m6.5 0.5h0m4 0h0m8 0.5h0m1 0h0m5 0h0m2.5-1h0m9 1h0m0.5 0h0m1 0h0m4-1h0m-74.5 1.5h0m9.5 0h0m3 0h0m16 0h0m25 0h0m3.5 0h0m23.5 0h0m-86 1h0m0.5 0h0m3.5-0.5h0m2 0.5h0m4.5-0.5h0m2.5 0.5h0m0.5 0h0m16 0h0m0-0.5h0m7.5 0.5h0m11-0.5h0m5 0h0m3.5 0.5h0m0 0.5h0m1.5-0.5h0m1-0.5h0m7 0h0m0 1h0m4.5-1h0m5 0h0m2.5 1h0m1 0h0m11 0h0m-73.5 0.5h0m20.5 0h0m7 0h0m3 0h0m6.5 0h0m24.5 0h0m-74.5 0.5h0m8 1h0m0 0h0m1.5 0h0m16-0.5h0m1 0.5h0m0.5-0.5h0m14.5-0.5h0m3.5 0h0m0 0.5h0m0-0.5h0m18.5 0.5h0m2.5-0.5h0m3.5 0.5h0m-47.5 1h0m17.5 0h0m24.5 0h0m10.5 0h0m5 0h0m5 0h0m-65 0.5h0m11.5 0.5h0m11-0.5h0m6 1h0m4.5-1h0m12 0.5h0m10 0.5h0m8 0h0m3-0.5h0m-27.5 1h0m10.5 0h0m13.5 0h0m-40.5 0.5h0m2 0.5h0m4-0.5h0m0.5 1h0m3-0.5h0m2.5 0h0m16.5 0h0m2-0.5h0m5 0h0m2.5 0h0m3.5 0h0m2 0.5h0m-41.5 1h0m10.5 0.5h0m2.5 1h0m10.5-0.5h0m15-0.5h0m-11 1.5h0" stroke="#151515" stroke-width="1.20" stroke-linecap="round"/><path d="M79.5 237.5h0m-5.5 1.5h0m10 0h0m5.5 0h0m0.5 0h0m2.5 0h0m1 0h0m-27.5 1.5h0m6 0h0m2.5-1h0m2 1h0m11-1h0m5 0h0m1 1h0m-18 0.5h0m15 0h0m-32 1.5h0m7.5-1h0m3.5 0h0m9 0.5h0m7.5 0h0m4.5 0h0m2.5-0.5h0m0 1h0m3-0.5h0m2.5-0.5h0m-36 1.5h0m-7 1.5h0m1.5 0h0m0.5-0.5h0m1 0h0m5.5-0.5h0m8.5 1h0m1 0h0m5.5 0h0m0.5 0h0m-3.5 0.5h0m-23.5 0.5h0m4.5 1h0m3.5-0.5h0m0.5 0.5h0m22-0.5h0m16.5 0h0m4 0.5h0m1.5-1h0m0.5 0.5h0m-36.5 1h0m9.5 0h0m24 0h0m3 0h0m-60.5 0.5h0m5 0h0m1.5 0h0m18 0h0m2.5 1h0m1-0.5h0m2 0h0m2.5 0h0m1.5-0.5h0m7.5 1h0m6.5-1h0m0 1h0m0.5 0h0m1.5 0h0m2.5-1h0m7 1h0m2.5-1h0m-49 1.5h0m20.5 0h0m2.5 0h0m3 0h0m14 0h0m13.5 0h0m-73.5 1h0m5-0.5h0m3 1h0m23-0.5h0m12.5 0h0m9 0h0m5.5-0.5h0m5.5 0.5h0m5.5 0.5h0m-19.5 0.5h0m4 0h0m5 0h0m-44 1.5h0m0-1h0m0 1h0m6 0h0m20.5-1h0m5.5 1h0m0.5-0.5h0m7 0h0m10.5 0.5h0m-53.5 0.5h0m10 0h0m17 0h0m3.5 0h0m12 0h0m20 0h0m-79 1h0m7.5-0.5h0m12 0h0m6 0.5h0m1.5-0.5h0m7 0.5h0m0-0.5h0m16.5 1h0m2-0.5h0m1.5 0h0m1 0.5h0m2.5-1h0m1 0h0m9.5 0.5h0m10.5-0.5h0m6.5 0h0m0.5 0.5h0m-62.5 1h0m4 0h0m35.5 0h0m6.5 0h0m14 0h0m2 0h0m-83.5 1h0m5-0.5h0m4.5 0h0m2 0h0m19 0.5h0m0.5 0.5h0m13-1h0m3 0.5h0m5 0h0m4.5 0h0m12.5 0h0m1.5 0h0m0 0h0m0.5 0.5h0m4.5-1h0m6 1h0m4.5 0h0m3 0h0m2-1h0m-30.5 1.5h0m8 0h0m10.5 0h0m-71 1h0m5.5-0.5h0m9.5 1h0m6.5 0h0m3-0.5h0m1 0h0m1.5-0.5h0m1 0.5h0m2 0h0m1-0.5h0m8.5 0.5h0m3.5-0.5h0m21 1h0m14.5-1h0m2 0h0m-79 1.5h0m5 0h0m2 0h0m11 0h0m4 0h0m0.5 0h0m16.5 0h0m42 0h0m-84.5 0.5h0m14 0h0m6 0h0m15 0.5h0m0.5 0h0m14 0.5h0m1-0.5h0m6-0.5h0m7 0h0m8.5 0h0m3.5 0.5h0m0 0h0m11 0h0m-87.5 1h0m11 0h0m21 0h0m4.5 0h0m8.5 0h0m8.5 0h0m8 0h0m10 0h0m-50 0.5h0m10.5 1h0m13-0.5h0m12.5 0.5h0m2.5-1h0m0 1h0m3.5 0h0m0.5-0.5h0m11.5-0.5h0m2 0h0m6 1h0m0.5 0h0m2.5-0.5h0m-50.5 1h0m33.5 0h0m6.5 0h0m-37.5 1h0m1.5 0h0m1 0.5h0m0-1h0m0.5 0h0m0 1h0m4-0.5h0m3.5-0.5h0m8.5 0h0m7.5 1h0m0-1h0m5 0.5h0m4 0h0m1 0h0m6.5 0h0m-38.5 1h0m27 0h0m-17.5 0.5h0m1 0h0m9.5 0.5h0m6-0.5h0m0.5 1h0m6 0h0m3-1h0m6.5 0h0" stroke="#151515" stroke-width="1.60" stroke-linecap="round"/>
<polyline points="31.4,254.1 44.3,246.1 76.4,237.2 94.0,238.8 108.5,246.1 127.8,257.3" fill="none" stroke="#b8b8b8" stroke-width="1.0" stroke-linejoin="round" stroke-linecap="round" stroke-opacity="0.8"/>
</g>
<clipPath id="bc2"><polygon points="168.0,255.7 184.1,246.1 206.6,237.2 224.2,237.2 237.1,242.8 261.2,255.7 256.4,263.7 240.0,280.0 227.4,292.6 192.1,295.8 175.0,285.0 169.6,262.1"/></clipPath><g clip-path="url(#bc2)">
<polygon points="168.0,255.7 184.1,246.1 206.6,237.2 224.2,237.2 237.1,242.8 261.2,255.7 256.4,263.7 240.0,280.0 227.4,292.6 192.1,295.8 175.0,285.0 169.6,262.1" fill="#050505"/>
<path d="M242.2 277.0l-0.5 5.5M177.4 270.7l1.5 3.6M175.8 274.7l0.2 2.8M197.3 283.4l1.5 4.2M184.4 281.5l0.2 3.5M193.6 273.1l0.7 3.3M190.1 282.8l-1.2 3.7M198.2 284.0l-2.1 4.8M199.2 278.1l-2.7 4.9M214.0 273.1l-2.0 4.6M172.9 265.5l-0.7 5.7M214.9 278.3l-0.7 3.7M237.4 277.1l0.2 5.7M178.6 274.0l1.6 5.2M179.4 272.6l1.4 3.0M215.7 289.4l-0.7 3.5M193.4 282.2l2.2 5.5M200.3 283.0l-1.3 4.6M206.1 287.3l-0.9 3.3M211.3 290.6l2.0 4.5M227.8 278.1l-0.4 2.9M222.2 273.6l-0.5 2.9M216.9 282.0l1.0 3.7M176.5 284.8l-1.3 5.2M196.4 284.0l0.7 4.4M198.3 270.9l0.6 4.3M208.1 288.5l-0.9 4.7M178.7 266.7l1.7 4.5M200.0 271.2l-0.3 3.1M182.0 286.8l1.2 5.4M181.0 280.5l0.7 3.1" stroke="#a8a8a8" stroke-width="1.15" stroke-linecap="round" fill="none"/>
<path d="M217.3 283.5l1.9 0.8M183.5 270.8l1.9 0.7M243.4 275.5l2.5-0.1M185.7 283.0l2.1 0.1M199.2 272.9l2.4-0.2M219.3 292.2l1.4-0.6M184.5 282.1l2.6 0.5M206.0 286.1l2.7-0.5M195.5 282.3l2.1-0.7M191.1 291.6l2.0 0.6M176.2 269.6l2.0-1.1M219.8 274.7l2.1 0.0M230.2 273.2l2.8-0.2M232.8 281.8l1.6-0.5M182.0 273.3l1.6-0.0M194.8 283.3l2.1-0.1M199.4 292.0l2.1-0.2M202.6 282.6l2.6-0.4M207.6 277.6l1.7-0.9M185.5 283.9l2.0 0.3" stroke="#a8a8a8" stroke-width="1.0" stroke-linecap="round" fill="none"/>
<polygon points="168.0,255.7 184.1,246.1 206.6,237.2 224.2,237.2 237.1,242.8 261.2,255.7 257.0,266.0 240.0,272.0 220.0,273.0 200.0,270.0 182.0,267.0 169.6,262.1" fill="#1e1e1e"/>
<path d="M233.8 245.6l2.0 1.6M256.7 257.6l-1.1 1.1M183.3 261.2l-1.0 1.1M221.2 238.8l-0.1 1.3M256.8 263.5l2.1 2.0M253.3 263.9l0.5 1.5M239.6 267.0l1.1 0.7M207.8 258.4l-2.2 1.2M219.4 264.4l0.6 2.7M246.5 249.1l-2.6 0.2M246.6 269.6l0.7 1.8M205.9 268.7l1.3 2.7M252.8 256.4l1.5 1.4M215.9 264.8l1.5 0.5M195.6 253.5l1.4 2.5M214.4 262.3l0.9 2.7M196.4 255.1l1.5 0.8M199.2 263.5l-1.4 2.4M207.5 237.6l-1.3 1.9M170.9 260.0l-0.9 2.2M188.7 256.8l-0.7 1.1M201.9 253.3l-2.4 0.1M199.4 243.4l-1.9 0.7M206.2 237.5l2.8 0.8M191.0 263.3l-1.6 0.3M197.2 251.9l-0.5 2.0M247.0 265.4l-1.3 2.0M226.4 260.5l-0.8 2.2M221.1 246.6l-0.6 2.6M250.1 257.8l0.1 1.7M221.1 269.8l-1.6 0.7M223.7 254.6l-1.8 2.1M190.2 255.6l-1.4 2.3M241.5 260.4l0.6 1.1M255.0 257.3l1.2 1.2M170.4 255.4l-0.6 2.9M230.1 266.0l1.3 0.7M223.3 267.1l1.7 0.4M210.0 246.3l-1.7 2.2M187.6 251.5l2.7 0.1M177.1 261.2l-0.3 1.4M215.2 261.9l1.6 0.2M243.5 249.8l1.5 1.8M194.8 257.0l0.3 1.5M234.5 245.6l0.5 2.4M195.8 251.6l-1.9 2.0M238.3 250.0l-1.3 2.2M221.5 267.9l-0.1 1.2M226.2 249.7l-1.6 1.4M240.9 265.0l0.6 2.5M172.2 254.0l-0.4 2.8M174.4 252.0l1.5 0.4M250.8 255.3l-1.6 1.2M206.5 254.1l-2.1 1.9M213.2 242.5l-1.9 0.4M205.7 246.1l2.3 1.7M240.7 263.1l1.3 0.3M204.6 270.6l-0.5 2.4M215.7 269.0l2.6 0.4M221.9 247.7l-2.5 0.0M183.8 248.1l-0.6 1.8M217.2 258.8l-1.3 1.4M251.3 262.0l-1.6 1.0M184.1 252.9l1.3 0.4M184.9 260.0l-1.7 2.2M237.9 251.8l1.4 0.4M215.5 239.3l0.5 1.1M220.0 246.3l1.2 1.7M243.5 253.8l-0.9 2.0M196.9 258.8l2.4 1.3M203.8 245.5l1.2 1.0M219.4 260.8l1.9 0.5M218.2 250.1l-0.7 1.2M220.6 242.7l0.0 1.7M187.5 248.4l2.5 0.8M192.7 254.0l-0.7 2.1M252.5 267.5l0.2 3.0M206.5 239.3l1.2 1.1M199.1 250.0l2.7 0.5M226.2 247.2l-0.5 2.9M225.4 259.9l-1.4 1.4M181.9 255.2l-1.3 0.6M190.5 251.8l0.6 2.6M229.4 241.3l-0.9 2.3M197.6 240.8l-0.2 1.6M241.2 267.8l-0.8 1.5M255.0 264.0l1.8 1.1M188.3 256.7l1.1 2.3M176.0 262.3l-1.0 0.7M216.7 244.6l0.8 2.9M202.8 261.6l-1.4 1.3M191.0 256.3l-2.6 1.2M250.0 263.1l1.7 2.4M230.7 256.7l-0.9 1.5M192.3 265.4l-0.5 1.3M242.3 255.2l1.9 1.8M214.1 238.1l-2.5 0.9M201.4 262.7l-2.2 1.5M236.0 256.8l0.1 2.1M255.7 263.6l2.8 0.4M202.5 243.5l-2.2 0.4M237.9 255.5l-1.9 0.2M225.0 265.7l-1.9 1.9M213.4 239.0l-0.4 1.2M224.2 248.3l-1.5 0.2M179.7 262.5l-0.9 0.8M238.1 261.8l2.5 0.5M234.7 242.8l-0.6 1.8M246.0 250.6l-0.8 1.8M224.0 256.5l2.3 0.8M189.1 251.4l1.7 0.3M186.1 265.7l-1.4 1.1M207.2 267.0l-2.3 0.6M207.4 251.0l-1.0 1.6M248.0 259.7l1.5 0.2M213.8 246.3l-1.8 1.4M225.8 265.7l1.8 2.4M223.3 240.6l2.9 0.5M209.8 240.0l1.8 2.3M203.5 252.5l1.9 1.4M236.5 245.1l-0.3 2.1M199.8 261.1l-2.0 2.1M179.0 260.4l2.0 0.8M205.2 240.8l0.5 2.3M244.5 254.3l2.5 0.3M230.5 255.3l-0.9 1.4M245.2 262.1l0.1 1.5M252.5 263.0l2.0 2.2M219.2 250.6l-0.4 1.2M210.2 240.6l-0.5 1.1M200.5 245.5l0.8 2.8M234.0 248.4l-1.9 2.2M208.8 246.9l2.4 1.1M211.4 267.4l0.6 1.6M240.8 269.3l-1.3 1.7M192.8 244.9l0.9 1.9M250.2 251.2l1.0 2.2M194.6 249.7l-1.7 0.0M233.8 255.5l-0.8 2.1M232.2 247.6l-0.9 1.5M221.9 250.5l-1.4 0.6M224.7 272.3l0.7 2.2M219.5 262.6l-0.8 1.2M199.2 241.2l0.5 1.3M250.2 255.6l-0.9 1.0M236.3 259.1l-0.1 2.1M219.3 240.5l-1.7 1.3M185.2 250.3l-2.5 1.2M215.3 257.6l-1.0 1.2M187.3 258.4l-0.4 2.3M191.6 266.0l1.0 1.2M230.4 272.4l-0.6 2.4M230.4 241.7l1.0 2.6M238.4 244.6l1.6 2.5M255.0 266.6l-1.0 1.6M173.9 260.3l1.3 1.0M186.7 259.2l2.1 0.6M189.5 247.9l0.5 2.4M234.3 262.6l1.6 2.0M222.9 270.1l-1.9 0.9M176.6 254.5l-1.5 1.0M237.8 246.9l0.5 2.1M207.8 250.6l0.5 2.7M201.0 262.8l1.7 1.5M184.5 260.5l-0.2 2.5M197.9 243.2l-1.8 0.0M210.0 261.4l-0.7 1.0M215.3 269.3l-0.1 1.6M198.9 252.2l1.8 0.5M237.0 263.5l1.7 2.0M183.9 256.2l1.2 0.7M187.1 263.1l-1.6 1.5M170.4 259.1l-1.0 1.2M233.4 269.1l2.0 1.9M196.8 264.9l-1.9 1.2M253.3 258.3l0.4 2.5M189.9 249.2l1.1 2.2M228.2 272.1l0.8 1.5M258.3 262.3l2.2 1.3M222.3 248.1l-1.9 2.2M228.8 257.7l1.6 0.7M209.4 243.5l1.2 1.4M228.0 271.4l-0.2 1.8M248.7 268.0l0.2 1.2M216.3 265.8l-1.8 0.1M237.2 271.0l-0.3 1.3M218.1 260.0l0.3 2.8M197.0 249.0l-0.1 1.3M218.2 266.2l1.0 2.0M220.8 269.1l2.0 1.5M225.1 243.3l1.5 1.1M247.0 265.9l1.8 1.5M247.4 264.8l-0.6 1.9M206.7 270.2l1.4 0.3M218.6 245.4l-1.6 0.3M186.3 261.1l-1.0 1.2M211.3 246.9l1.5 2.1M238.9 251.8l1.5 0.4M207.5 258.3l0.6 2.0M183.7 254.8l-2.2 1.2M199.8 252.8l1.3 0.2M234.1 251.3l-1.0 2.3M203.9 240.3l-2.3 1.3M198.1 264.2l1.1 2.1M236.3 247.3l-0.9 1.4M208.4 265.0l-0.9 2.7M172.1 261.2l-0.4 1.9M214.0 255.1l2.2 0.4M192.2 262.8l-1.1 1.9M188.4 254.0l-0.6 1.1M250.7 266.7l-0.7 2.8M190.3 259.4l-1.1 2.3M241.3 253.4l-1.8 2.2M209.5 255.0l2.1 1.7M226.2 269.2l1.7 0.4M236.7 256.6l-0.6 2.3M183.5 248.5l-1.6 0.1M183.8 261.2l0.8 1.9M191.9 254.2l-2.8 0.4M230.8 271.8l2.0 1.6M229.7 247.9l-0.9 1.8M212.5 268.7l-0.7 1.1M213.2 262.0l1.6 0.9M208.3 256.4l-2.3 0.2M183.3 258.6l1.1 2.4M187.7 245.8l2.0 0.8M215.0 239.3l-2.3 1.7M210.2 257.6l2.2 1.7M241.9 250.4l-1.1 0.6M218.8 250.7l-2.4 0.6M225.9 250.1l-0.3 2.9M181.7 260.6l1.0 2.0M206.8 238.1l0.8 2.1M205.9 260.0l0.2 2.3M212.5 263.3l1.2 1.6M226.9 256.4l2.1 0.2M200.0 262.0l-2.3 1.3M227.9 262.4l1.5 0.2M216.8 238.0l1.6 2.0M193.3 263.6l1.2 0.3M236.3 264.1l1.3 2.7M202.6 268.4l1.5 1.9M204.1 240.2l1.3 0.3M254.2 257.8l-2.5 0.2M249.4 264.8l1.5 1.1M233.3 262.6l1.2 0.8M179.7 260.5l-1.0 1.8M226.1 266.0l0.6 1.1M256.8 265.0l0.4 2.0M247.0 263.5l-1.3 2.4M216.2 237.9l1.1 0.6M230.0 267.3l-1.8 2.3M231.1 269.9l0.3 1.7M243.7 255.1l0.2 2.2M173.0 262.6l1.6 0.0M245.3 253.8l-1.3 0.3M256.5 254.4l1.2 0.0M245.4 267.9l-2.1 1.4M195.2 249.8l0.6 1.0M227.9 264.5l1.9 1.6M219.1 262.4l1.9 1.1M242.1 253.2l-0.8 1.7M206.3 261.0l-1.8 1.2M212.6 268.6l-0.2 1.8M234.5 261.2l-0.4 1.2M220.4 266.1l1.0 2.2M218.3 246.0l-1.8 1.5M195.7 260.7l1.5 1.0M218.8 262.1l2.6 0.7M198.3 251.9l-0.2 1.4M184.1 250.2l-0.9 1.0M224.2 271.5l1.3 1.6M196.8 247.1l-0.3 1.7M207.5 248.9l1.5 1.3M186.3 260.1l-0.0 2.5M258.0 259.5l-1.3 0.9M232.0 268.9l0.0 2.2M211.6 247.0l0.9 2.8M199.1 241.3l-0.1 2.7M216.7 252.7l0.8 2.7M193.1 253.8l0.6 1.8M181.3 262.3l1.3 0.4M229.3 249.0l2.8 0.4M181.5 265.3l1.6 2.3M240.3 259.8l-0.1 1.9M223.2 260.4l-2.3 1.0M206.7 257.4l-1.1 1.5M219.4 265.2l-1.0 2.6M230.5 249.6l1.7 0.1M228.1 241.9l1.3 0.3M251.8 255.7l-2.9 0.4M217.8 252.3l-1.6 0.5M228.9 264.0l1.3 1.4M199.9 259.6l-2.1 1.4M221.3 244.5l1.7 0.7M224.9 241.3l1.3 2.4M228.8 262.2l-0.0 2.8M236.2 244.0l1.6 2.2M179.3 251.5l2.5 0.6M171.8 263.0l1.0 1.9M198.6 264.6l-1.3 1.9M198.9 251.3l-1.1 0.4M215.0 252.7l2.4 1.3M210.0 256.6l-2.8 0.4M215.5 244.0l1.1 1.3M204.2 243.7l2.3 0.7M197.5 257.1l-0.4 2.6M224.0 261.3l-2.0 1.6M224.5 245.8l1.8 1.3M223.4 252.5l0.2 1.5M174.4 254.6l0.5 2.9M246.5 260.1l0.7 1.3M233.2 272.1l1.2 2.1M246.7 264.1l-2.2 0.4M202.3 269.8l2.0 0.0M245.7 255.4l2.6 0.7M228.8 256.3l2.7 0.2M192.5 245.0l-1.5 0.5M205.6 243.3l2.2 1.7M210.7 266.0l-2.6 1.3M205.1 268.6l-1.4 0.9M260.7 256.2l-1.2 1.9M201.6 264.3l-2.5 0.4M181.5 248.1l-1.9 2.2M233.7 247.7l0.6 1.4M248.2 257.6l1.3 0.7M175.1 259.6l-0.0 2.2M184.3 259.3l-0.7 1.9M221.9 250.2l2.3 0.0M246.9 257.1l1.1 0.9M242.3 266.5l-0.1 1.7M219.6 269.7l-0.0 1.7M227.9 242.8l0.6 2.6M247.5 268.7l1.0 2.6M186.1 252.5l1.1 0.5M241.5 250.7l-2.7 0.9M215.7 254.9l0.8 1.6M181.2 265.7l-2.3 0.1M222.7 270.9l-2.0 1.0M176.8 262.2l-1.5 0.6M206.7 240.3l-0.9 1.2M211.2 264.3l-1.1 2.3M186.7 255.1l0.9 2.8M236.1 256.4l-2.9 0.5M210.1 254.5l-1.1 1.1M230.8 246.8l-1.0 1.1M217.5 271.7l-1.0 1.3M188.1 257.7l-0.8 1.3M234.8 243.2l0.4 2.3M209.8 270.5l2.5 1.5M186.3 250.3l-2.0 1.5M216.4 254.4l1.1 0.4M171.8 255.5l-2.0 0.2M200.2 258.9l1.6 1.8M216.8 240.5l0.3 2.4M209.0 249.7l-0.0 1.5M207.3 250.5l-1.6 0.0M211.0 261.5l0.2 1.6M234.1 265.1l-2.2 0.6M248.0 258.2l0.0 1.8M242.7 267.4l2.1 1.6M233.9 262.3l1.9 1.8M202.9 247.2l-1.5 0.3M209.2 260.5l-2.3 0.0M212.6 259.0l-1.2 0.8M205.7 260.6l1.4 0.1M221.6 244.6l-1.5 1.6M198.5 242.7l-0.2 1.2M230.1 244.1l-1.5 2.0M219.5 250.9l-1.2 2.7M175.5 255.0l-1.4 0.5M187.4 260.7l-1.5 0.0M197.0 243.5l-1.6 1.5M202.0 260.0l2.7 1.2M235.2 260.0l0.9 2.6M207.1 271.0l-1.8 0.4M249.2 259.6l0.1 1.5M247.7 262.4l-1.9 1.5M217.6 257.8l-1.2 2.3M219.3 261.6l-2.2 0.9M228.2 266.9l1.1 1.6M204.6 256.8l-1.2 2.0M243.1 257.5l-1.8 1.7M202.5 270.3l-1.4 2.5M217.8 267.1l-2.3 1.4M227.3 257.4l0.2 2.8M195.6 256.3l1.1 2.7M222.0 262.2l-0.6 1.7M238.7 264.3l1.9 1.0M240.9 262.9l1.8 0.2M243.5 267.6l2.4 1.3M215.6 268.9l0.1 1.8M210.1 244.0l-2.1 0.7M232.9 253.7l1.4 0.6M231.6 256.9l-1.7 0.8M225.4 266.1l-0.3 2.8M229.5 239.6l-1.5 0.5M200.8 258.0l0.6 1.5M246.2 263.5l1.3 1.7M186.1 267.4l-0.7 1.3M243.7 249.4l0.6 2.2M229.8 252.6l0.2 2.6M204.0 254.2l1.6 0.3M213.5 256.9l2.2 0.0M212.0 249.5l0.5 1.7M219.6 266.3l1.3 2.6M246.8 248.2l-1.7 1.3M175.7 253.5l-1.6 1.0M201.5 241.0l-0.9 0.8M229.6 260.3l-0.5 2.1M207.2 251.9l1.0 2.4M234.8 248.5l1.3 1.9M227.5 241.3l2.2 1.7M182.8 264.8l1.7 2.2M190.8 267.9l2.5 0.5M215.1 265.6l1.0 2.0M186.6 248.3l0.5 2.1M252.9 260.7l-0.3 1.2M245.7 261.9l-2.8 0.1M249.4 256.7l-0.2 1.2M246.3 268.3l1.1 1.3M188.4 253.8l0.7 2.3M208.5 242.6l-1.8 2.0M228.4 257.5l1.1 0.9M227.0 267.9l-1.6 1.1M183.6 257.1l-1.8 1.2M214.9 268.5l-1.8 1.1M210.1 254.4l1.8 1.0M234.6 265.5l-2.2 0.9M226.4 246.6l1.2 1.9M235.0 263.9l1.8 1.8M226.9 264.3l1.3 0.0M250.4 261.7l0.5 2.7M222.8 244.3l-2.0 1.6M253.5 252.5l2.7 0.0M238.1 245.7l-1.9 0.6M248.7 253.9l-0.1 2.8M250.0 260.6l0.7 2.3M228.8 262.1l-2.3 1.2M170.2 254.7l1.4 2.4M250.3 250.6l-1.2 2.1M231.0 246.6l-2.3 1.1M210.8 254.7l1.6 0.5M255.7 264.7l1.7 1.5M236.0 253.2l0.1 1.7M242.8 270.6l-2.2 1.0M240.0 260.3l-1.3 0.6M177.2 254.0l-0.1 1.7M234.9 254.9l-2.5 1.6M241.1 251.5l-0.5 1.1M184.3 246.7l-0.9 1.0M225.3 265.5l1.0 0.8M216.9 267.2l0.5 1.3M247.1 248.2l-0.6 1.4M210.4 247.1l-2.2 0.9M223.1 264.3l-1.2 2.4M230.8 262.8l-2.4 1.3M212.6 262.9l-0.0 1.8M210.8 256.1l-2.0 1.6M213.4 263.7l0.8 2.3M178.2 257.4l1.6 0.5M203.2 267.5l-1.4 1.5M211.1 264.2l-1.0 2.7M182.6 247.7l-2.1 1.6M220.0 265.2l-1.0 2.7M204.4 240.1l-1.0 1.0M220.4 241.6l-2.4 0.8M186.9 266.1l-2.4 1.5M239.0 264.7l-0.2 2.4M225.8 256.2l-0.8 1.4M189.3 248.8l-2.8 0.2M249.7 261.9l-1.3 1.5M234.1 263.6l-1.2 0.5M169.6 257.7l1.1 2.2M242.2 262.3l1.2 1.0M233.1 251.8l0.4 2.7M189.0 265.4l-1.9 0.3M224.7 257.1l-1.3 0.0M204.5 260.8l2.3 0.8M257.6 261.2l-2.9 0.8M253.9 264.6l0.9 2.0M232.6 249.2l-0.1 1.5M247.7 268.4l0.0 2.5M232.1 252.4l1.5 1.0M240.7 258.3l0.2 1.4M188.7 246.1l-1.9 0.4M222.3 247.1l-1.3 1.1M215.9 272.1l-1.5 0.7M203.5 266.0l-1.3 1.7M218.8 249.1l-1.3 2.0M214.7 254.1l-1.6 0.8M237.1 251.0l0.5 1.7M218.9 246.4l-1.7 1.4M196.9 247.0l1.5 0.5M208.8 251.7l1.6 1.4M185.8 258.5l1.1 2.5M220.6 256.0l0.9 1.7M216.5 256.0l0.1 2.5M236.6 251.7l-0.1 2.0M179.9 250.0l2.0 1.3M202.6 254.7l-1.5 2.1M221.9 244.6l-1.8 0.8M190.8 257.3l2.4 1.1M195.0 268.2l-1.5 0.8M193.4 268.5l1.6 2.1M216.5 250.2l-1.0 2.2M231.6 246.4l1.5 0.3M175.6 254.8l-0.1 2.6M171.9 254.3l-1.3 1.0M177.1 258.8l1.3 0.3M204.8 246.3l2.0 0.7M201.2 260.1l-2.8 0.3M185.1 260.8l0.3 1.6M175.8 260.7l0.4 2.8M202.9 253.9l2.6 0.5M236.0 250.1l-0.5 1.9M189.7 257.7l1.8 0.2M239.6 262.4l2.4 0.2M201.0 261.2l2.0 1.4M237.7 267.8l1.2 2.0M245.7 265.9l-0.2 2.4M243.6 256.1l-0.6 2.7M237.0 261.7l1.2 1.3M207.6 257.9l-1.1 1.1M195.4 253.9l1.4 0.4M243.9 268.7l2.3 1.2M189.6 251.7l-0.1 1.5M221.7 263.8l2.0 2.1M185.5 249.5l1.7 2.0M236.7 255.0l1.1 2.2M205.6 258.4l0.8 2.6M229.2 251.6l0.4 1.5M201.8 242.2l1.5 1.3M250.0 259.6l1.5 2.2M198.5 255.8l-1.1 1.0M213.0 266.7l-0.2 2.9M229.7 244.9l1.7 0.4M193.5 265.3l0.0 2.3M217.8 259.8l-0.2 1.3M218.3 241.1l0.8 2.1M176.3 255.7l0.1 2.7M198.8 252.7l-1.3 0.5M218.4 270.9l1.3 0.7M181.1 255.3l-2.3 1.5M191.6 268.4l-1.7 1.5M230.3 259.8l-1.9 0.1M190.2 263.3l1.3 2.2M172.7 259.1l-1.6 1.7M193.9 262.0l1.1 1.0M238.5 264.0l-1.2 1.2M218.6 247.4l-1.9 1.3M177.2 261.7l-0.0 2.1M184.1 266.2l1.0 0.7M244.2 255.2l0.8 1.7M222.4 253.6l1.6 1.5M210.2 268.7l-0.0 1.5M215.8 252.8l0.9 1.0M196.3 246.0l0.1 2.4M230.4 251.6l0.2 2.5M245.9 248.3l2.4 0.6M249.5 257.2l-1.6 0.2M255.9 257.5l-1.8 1.4M229.9 242.1l0.0 1.3M219.8 260.0l0.9 1.2M229.4 259.2l-0.3 1.7M228.8 258.2l1.1 1.5M211.7 270.4l2.8 0.6M196.5 261.3l-2.0 0.6M221.7 240.1l-0.7 1.5M195.3 256.0l-1.8 2.1M211.7 239.1l-2.6 0.4M178.7 265.0l-0.8 1.9M248.7 249.6l-0.7 2.6M210.9 254.8l-1.9 0.1M185.3 256.0l-1.2 1.7M220.2 243.6l-1.5 0.5M232.9 270.2l1.4 1.4M177.8 251.9l2.1 0.1M193.3 268.5l-1.1 2.1M199.5 240.3l2.5 1.0M190.0 248.3l-1.4 0.9M225.0 255.7l0.0 2.8M220.4 270.5l0.9 1.4M233.9 243.5l-0.8 1.0M214.2 247.7l1.6 0.0M197.8 254.4l0.8 2.8M238.9 245.2l1.6 2.2M222.1 271.6l2.2 1.6M212.2 239.7l1.1 0.9M229.2 249.0l-0.9 0.9M209.3 270.1l1.9 0.8M183.8 264.7l-2.5 1.6M218.2 253.9l-1.9 0.8M202.6 248.9l-2.0 1.2M195.4 241.8l-1.6 0.1M222.5 256.6l-1.0 1.5M189.3 244.2l-1.2 0.0M198.6 260.1l-0.3 2.6M240.7 262.4l1.1 1.0M204.2 261.2l0.4 1.5M242.5 257.5l0.9 2.6M231.0 241.3l-2.1 0.5M236.1 250.5l1.4 1.6M194.5 261.5l2.4 1.1M236.5 243.5l2.5 0.8M215.3 243.4l-1.4 1.5M209.8 255.4l1.2 2.6M183.8 265.5l-1.4 1.2M190.5 249.2l0.8 1.8M190.5 261.3l-1.2 0.4M211.2 248.0l1.7 2.3M192.2 263.3l2.9 0.3M223.7 269.2l-1.2 2.4M184.9 260.3l0.6 2.4M223.9 248.1l0.1 2.1M221.0 258.1l-1.0 0.7M203.9 268.7l-1.4 1.7M182.9 246.9l0.1 2.0M191.9 245.6l0.5 1.5M225.2 268.9l1.3 1.2M225.7 239.0l1.9 1.1M226.7 256.7l0.8 1.4M176.3 258.2l0.2 1.8M224.0 242.0l1.5 0.2M246.0 261.9l0.3 1.7M192.1 266.0l1.4 1.9M185.8 264.2l-0.9 1.5M208.4 237.8l2.6 1.4M212.3 243.9l1.6 1.6M236.6 260.4l-0.1 2.2M213.8 269.5l-2.3 0.8M195.5 247.0l-2.1 0.3M209.6 259.3l1.7 1.2M260.2 256.8l-1.0 1.6M202.4 259.0l1.2 0.1M172.2 258.9l0.5 1.6M236.0 255.2l-1.7 2.1M209.1 257.6l-0.5 1.4M202.2 255.4l-1.0 1.4M169.7 255.6l-1.9 0.2M197.8 268.1l-1.2 1.0M240.1 262.3l0.9 1.7M174.1 255.2l-1.7 0.6M191.4 265.3l1.9 0.7M228.8 269.1l-2.7 0.5M224.1 253.5l-1.3 1.9M228.6 254.9l1.1 0.9M251.0 263.7l1.4 0.2M218.7 263.8l1.0 1.5M238.0 258.1l-0.5 1.1M175.8 263.9l-0.5 1.7M226.6 263.3l-2.3 0.2M237.3 249.6l-1.5 0.4M174.7 259.3l-1.2 1.8M241.3 252.9l0.5 1.7M219.8 269.0l2.4 0.3M237.6 244.3l-1.3 0.1M248.2 256.4l1.7 0.5M251.6 251.7l0.3 1.3M233.1 264.9l1.3 2.3M218.9 270.2l-1.4 0.4M235.4 269.8l1.5 1.3M210.1 268.0l-1.8 1.5M254.4 263.7l-2.8 1.1M215.8 249.8l-2.7 0.7M201.7 270.2l0.4 1.4M215.1 270.6l-2.2 0.1M222.9 267.4l-1.2 2.2M194.7 263.6l2.7 0.4M205.4 244.5l1.1 0.9M231.9 241.5l-0.1 1.9M204.3 238.5l0.8 1.4M236.2 248.0l2.9 0.4M206.0 255.8l0.6 1.8M219.9 246.9l2.3 1.5M208.9 255.6l-2.5 0.3M200.0 257.1l2.2 1.4M197.8 242.0l-0.9 1.2M223.6 239.8l-0.6 1.6M178.7 251.8l-0.9 1.7M257.7 263.4l-0.7 1.8M253.5 257.9l1.1 1.2M205.3 269.7l2.0 0.0M210.1 243.4l-0.2 1.3M173.3 259.2l-1.2 2.5M213.2 262.1l-0.6 1.2M225.9 249.8l-2.5 0.7M257.3 263.3l-0.2 3.0M248.6 260.6l-1.2 1.2M225.9 264.5l1.0 1.6M181.3 260.1l-1.0 0.8M210.1 262.9l-2.6 0.9M175.7 257.4l-1.3 1.9M172.8 262.4l-1.3 1.9" stroke="#d0d0d0" stroke-width="1.0" stroke-linecap="round" fill="none"/>
<polyline points="168.0,255.7 184.1,246.1 206.6,237.2 224.2,237.2 237.1,242.8 261.2,255.7" fill="none" stroke="#b8b8b8" stroke-width="1.0" stroke-linejoin="round" stroke-linecap="round" stroke-opacity="0.8"/>
</g>
<clipPath id="bc3"><polygon points="298.0,250.9 318.9,241.2 331.8,237.2 349.4,237.2 363.9,242.0 394.4,252.5 392.8,262.1 386.4,281.4 370.3,289.4 346.2,294.2 322.1,291.0 310.9,278.2 301.2,257.3"/></clipPath><g clip-path="url(#bc3)">
<polygon points="298.0,250.9 318.9,241.2 331.8,237.2 349.4,237.2 363.9,242.0 394.4,252.5 392.8,262.1 386.4,281.4 370.3,289.4 346.2,294.2 322.1,291.0 310.9,278.2 301.2,257.3" fill="#242424"/>
<path d="M314.1 272.0l1.9 5.1M334.1 270.4l0.8 4.6M331.5 291.2l1.0 4.4M354.4 272.5l0.7 2.7M335.0 260.2l-1.8 3.3M333.5 282.9l-1.6 3.3M354.4 286.1l0.2 3.2M345.2 282.8l1.8 5.5M350.5 291.7l1.4 3.4M369.3 276.9l-0.7 4.7M337.5 266.8l0.6 4.7M359.3 283.8l0.5 3.5M372.1 265.0l1.9 4.8M321.3 283.4l1.8 5.0M373.9 270.4l-1.0 2.5M343.6 290.9l-1.9 3.9M383.2 271.4l1.2 3.3M362.4 267.5l-0.5 5.5M318.7 278.0l-2.1 4.1M310.4 267.6l2.0 5.0M378.7 280.5l2.3 4.0M333.0 274.0l-2.5 5.0M342.7 267.2l-0.4 2.8M336.0 276.8l1.1 2.5M338.9 279.1l-1.0 2.4M379.7 280.0l0.1 3.4M367.9 272.8l-0.6 4.5M340.6 264.5l-0.2 4.2M345.6 278.0l-0.1 5.5M312.6 268.1l0.8 3.4M319.9 261.0l-2.0 4.3M378.7 277.3l-2.0 4.5M326.8 281.6l-0.1 5.1M325.2 268.5l-0.2 4.7M351.5 290.1l-1.8 4.0M383.5 277.1l-0.0 2.9M340.9 263.1l-1.2 2.5M331.9 283.9l-2.3 4.1M392.2 262.3l-2.5 4.9M317.4 273.8l1.1 5.2M345.5 280.1l1.5 3.5M383.3 282.9l-1.4 2.8M361.7 279.1l0.3 5.4M335.1 288.9l0.8 2.6M372.1 263.5l1.2 5.5M365.8 263.8l-0.6 3.4M341.1 266.7l-1.5 4.6M384.2 282.4l-2.1 5.1M372.8 264.5l-0.2 5.8M352.8 288.8l-1.9 5.5M373.1 264.8l-1.0 4.6M322.4 268.9l0.6 2.5M351.5 261.4l-2.1 4.2M336.9 274.5l-0.7 3.6M380.1 281.9l-1.0 5.2M315.2 261.0l-1.0 5.0M360.6 286.7l0.6 4.1M309.1 272.3l0.4 4.7M353.5 289.9l0.9 3.5M314.5 259.2l0.2 4.2M358.7 283.1l0.7 2.6M337.3 270.1l-0.8 2.5M328.4 271.8l-1.0 4.3M309.5 275.1l1.2 3.2M320.5 274.4l1.0 4.2M312.5 266.0l-2.3 4.2M313.6 266.7l0.2 2.6M364.2 279.8l1.7 3.3M361.4 262.0l1.0 4.1M323.4 270.7l-2.3 4.1M326.5 283.6l0.3 3.9M327.2 260.9l-1.2 4.9M388.2 263.3l-0.4 4.9M334.1 275.8l-2.6 4.8M359.2 280.0l1.4 2.5M346.6 268.3l0.4 3.9M318.5 282.8l1.7 4.2M372.1 286.4l1.1 4.7M356.0 276.8l0.2 3.3M351.8 262.0l1.1 2.9M345.9 261.0l-0.1 3.5M392.5 262.8l-1.5 2.5M390.7 262.2l-0.1 4.6M374.3 282.5l-1.7 3.5M311.5 261.0l-1.5 2.5M337.0 268.3l0.9 3.5M324.1 265.1l-2.2 4.4M351.6 270.6l0.2 3.9M351.7 265.6l2.8 5.2M316.0 263.7l-2.5 5.3M377.5 275.8l-2.0 3.6M357.8 261.9l-0.6 5.6M382.8 278.9l-1.3 5.5M333.0 279.7l1.3 5.8M344.4 280.8l1.0 3.8M334.7 272.7l-0.6 4.1M349.9 270.2l-2.0 3.8M362.0 288.3l-2.2 5.2M357.0 283.7l-0.8 5.5M368.1 273.3l-2.4 4.6M332.2 279.2l-0.4 3.9M326.2 261.6l-0.1 3.5M357.0 289.0l-1.7 4.0M364.2 281.3l-1.3 5.2M305.1 263.6l0.0 4.0M323.2 274.7l-0.5 3.9M344.7 273.1l2.2 4.7M371.5 277.7l0.5 5.6M312.8 260.1l-0.2 4.0M314.9 260.5l0.4 3.1M358.9 267.9l0.1 2.8M324.5 288.3l-1.6 2.8M363.3 285.7l-0.7 5.1M306.5 261.0l-0.8 5.6M348.3 277.5l-0.2 4.5M310.4 276.2l-1.4 4.6M378.1 279.3l-0.9 2.6M328.8 289.7l-0.9 4.6M332.1 265.1l-1.6 2.9M377.2 275.7l-0.2 3.1M310.9 269.3l1.8 5.4M322.6 282.3l-0.5 5.5M316.3 269.7l1.6 4.4M353.8 271.4l2.5 5.3M344.5 278.4l0.3 5.4M347.9 265.3l0.4 5.6M332.9 286.6l-0.2 4.0M372.8 269.9l0.9 5.7M348.5 261.2l-1.1 5.8M337.5 282.1l-0.2 3.7M372.4 285.4l0.5 5.7M315.0 263.2l-0.7 5.6M320.1 258.0l0.4 5.2M312.8 259.9l2.2 4.2M370.9 278.3l0.7 4.2M325.2 283.1l-1.3 2.4M357.0 286.4l0.7 4.8M323.6 290.6l-0.8 3.5M331.1 273.0l-1.4 4.3M332.0 261.9l-0.2 2.6M376.6 270.7l2.0 5.4M366.1 272.9l-0.6 3.8M371.5 265.3l1.1 5.4M333.2 263.5l-1.1 2.4M374.4 284.4l1.0 2.7M337.5 288.9l1.2 3.0M355.4 266.9l-1.3 5.7M384.8 280.3l2.5 4.8M321.8 285.0l-1.4 3.4M359.2 289.0l-1.5 2.8M385.7 269.3l1.7 4.1M373.3 287.9l0.8 3.9M361.9 286.3l-0.4 5.5M323.1 267.4l2.0 4.2M348.8 287.8l-1.1 5.1M336.4 271.9l0.3 3.8M340.9 265.3l1.9 3.7M347.1 263.3l1.6 2.8M327.5 284.2l-1.0 3.3M327.1 288.1l-0.1 3.1M336.4 291.4l-1.5 3.5M324.0 270.7l-0.9 4.3M358.8 282.5l0.8 4.5M378.5 270.8l1.3 4.1M365.4 265.9l0.7 3.5M356.1 289.3l-0.6 4.9M347.6 277.4l0.3 5.7M356.9 291.8l2.0 4.3M352.0 275.9l2.2 5.0M313.5 265.3l-0.0 2.9M357.3 284.5l0.3 5.0M341.5 275.4l1.8 3.8M366.7 272.5l-0.5 2.8M328.1 282.5l1.9 5.6M360.1 264.8l0.4 3.9M320.5 271.3l0.7 3.1M327.4 276.4l-0.8 4.2M344.5 286.3l-0.5 2.8M360.4 271.7l-0.5 3.9M350.6 290.3l1.4 3.7M319.0 285.4l2.5 4.8M319.9 260.2l2.5 5.0M373.1 286.5l-0.2 5.7M351.8 282.0l-2.7 4.7M385.8 279.6l1.6 3.6M346.1 274.2l0.8 5.4M362.7 288.7l-1.2 2.4M375.3 280.8l1.5 5.1M325.1 274.1l0.3 5.8M317.1 270.8l-0.3 3.8M362.3 288.0l-1.1 3.4M369.4 271.4l-0.9 2.6M332.6 264.6l0.7 2.9M308.4 267.5l1.8 4.8M388.0 273.0l-1.2 4.2M364.7 272.7l-1.3 4.2M308.7 272.6l0.6 3.7M367.1 282.7l-0.9 2.5M357.2 281.3l0.3 2.5M329.1 291.3l0.7 4.1M344.7 270.6l0.7 2.4M320.1 261.6l-2.4 4.4M388.0 268.8l-2.0 3.7M343.4 273.1l0.3 4.8M367.4 269.1l-0.7 2.7M321.7 258.5l2.4 4.9M315.1 264.7l0.4 5.4M377.2 271.7l-1.9 4.5M329.4 280.4l-0.1 2.7M365.1 283.1l-1.4 3.0M389.9 262.3l0.9 2.7M353.5 275.7l-0.9 4.7M341.9 286.1l0.4 4.5M355.3 288.0l1.0 2.6M341.6 279.3l-1.0 3.1M354.6 274.0l-1.0 2.8M346.3 288.4l-0.2 3.4M334.6 268.0l0.9 4.0M347.0 292.9l2.2 5.1M340.3 291.6l2.1 4.7M333.2 278.9l-1.3 5.3M362.2 288.3l1.7 4.9M366.9 280.0l-0.7 4.2M374.3 282.6l1.6 3.4M383.0 264.9l-2.2 5.4M356.5 269.2l0.9 4.4M354.2 274.0l1.0 2.7M306.5 265.7l0.8 2.5M351.4 287.9l0.8 3.8M338.8 261.5l0.6 3.4M325.5 266.8l-0.1 3.6M305.6 266.1l1.1 2.9M342.7 271.9l-0.5 3.4M368.9 284.6l1.4 2.9M373.2 265.8l1.4 3.4M327.8 269.9l-0.1 4.2M324.5 260.1l-1.1 4.0M341.2 260.2l1.6 3.5M322.8 274.8l1.3 2.3M340.7 279.2l1.3 3.8M359.4 276.3l2.2 4.1M303.0 258.9l2.5 4.8M336.0 292.5l-0.7 5.4M373.2 276.9l0.9 4.5M359.6 275.8l-2.7 5.0M369.8 281.4l1.5 5.3M360.2 272.8l1.6 3.3M364.8 289.7l1.8 3.8M332.5 290.2l-0.3 3.8M342.5 290.9l-0.3 3.8M364.0 282.0l1.2 2.5M379.8 279.4l1.6 2.9M378.3 278.6l0.4 3.1M334.9 285.0l0.6 4.2M378.5 275.1l1.7 3.8M387.2 278.1l0.5 2.5M333.7 284.3l0.2 2.8M360.4 277.8l-0.9 3.3M343.9 274.1l-0.4 4.5M328.8 264.1l0.6 4.4M361.9 268.5l2.5 5.2M330.7 276.5l1.5 4.7M360.5 281.8l-0.7 4.9M337.7 267.6l0.7 5.0M350.1 277.8l-0.4 4.1M384.4 271.3l-0.9 3.7M315.3 267.7l-0.8 5.2M334.6 279.5l-1.3 3.4M365.8 281.4l2.2 5.6M382.9 274.3l-1.2 2.7M358.8 289.1l-0.3 3.1M357.4 277.6l1.3 3.6M355.0 290.3l0.7 4.8M327.8 277.6l1.1 5.8M317.0 269.0l1.7 3.1M333.2 262.3l0.6 4.2M331.0 260.2l1.2 3.0M343.8 293.5l1.3 2.8M374.7 262.4l1.3 3.3M389.0 270.1l0.8 3.3M340.1 289.7l-0.9 3.0M354.2 278.5l0.5 2.8M345.2 290.6l-1.5 5.4M323.3 275.7l-0.0 2.6M325.9 278.7l-0.2 4.9M355.5 283.9l0.5 3.3M311.3 257.7l-1.8 5.1M344.7 269.0l-1.5 4.6M377.4 279.6l-0.7 2.5M346.0 288.9l-0.8 3.0M329.3 284.8l0.2 2.6M378.5 264.4l-0.7 2.5M365.4 268.3l-0.2 4.4M348.3 265.8l-1.2 4.7M338.8 290.9l-0.4 3.9M310.7 274.8l0.5 2.5M344.2 289.1l-0.2 4.2M351.1 274.3l0.4 3.7M383.0 282.0l-0.8 5.2M336.1 268.6l-0.0 5.1M334.7 272.2l-2.5 4.4M345.9 275.9l1.7 4.5M345.6 277.7l1.8 3.5M338.5 259.2l0.7 4.8M349.3 281.9l2.3 4.0M348.7 266.4l1.0 5.5" stroke="#a8a8a8" stroke-width="1.15" stroke-linecap="round" fill="none"/>
<path d="M344.9 266.3l1.8-0.1M348.4 293.6l2.8-0.6M381.2 281.4l2.3 0.4M311.5 267.3l1.8 0.6M347.3 267.5l2.1-0.6M375.5 268.9l1.9-0.9M349.2 263.5l2.3-0.4M338.3 270.5l1.6 0.6M370.0 264.0l2.6 1.2M312.6 274.3l2.4-0.9M362.6 278.1l1.8-0.7M364.0 288.9l2.0-0.4M369.6 281.8l1.5-0.3M314.3 276.0l2.2-0.3M323.0 284.7l2.6-0.5M323.4 290.4l2.6-0.9M322.7 285.8l2.7-1.3M306.4 262.2l2.2 0.4M373.8 284.3l2.1-0.0M381.7 277.5l1.9 0.2M314.9 271.9l1.7-0.4M366.7 267.3l2.6-1.2M332.5 258.8l1.6-0.8M333.6 289.6l1.6-0.5M334.3 275.7l2.1-0.9M382.2 269.2l2.0-0.4M381.7 263.0l1.8 0.5M336.4 269.0l2.6-1.4M309.2 272.9l2.5 0.4M371.1 282.4l2.8 1.0M309.3 269.2l2.8-0.7M314.5 279.5l2.7 0.5M347.8 274.3l2.0 0.4M325.2 282.0l2.4-1.3M306.8 267.7l2.7 0.8M364.7 279.9l2.4 0.2M330.3 269.2l2.0 0.5M307.7 264.8l2.6 1.4M328.0 287.7l1.9-0.2M371.8 270.1l2.1 0.4M363.6 280.9l3.0-0.1M370.3 280.8l1.6 0.6M341.2 290.2l2.1 0.8M355.7 265.6l1.4 0.7M383.4 266.3l2.0-0.8M344.4 276.0l1.6 0.8M329.9 275.6l1.7 1.0M341.3 266.6l2.8 0.1M332.3 264.1l2.6-1.0M324.8 287.8l2.0-1.0M343.3 285.7l1.7 0.5M318.8 262.5l2.7 0.9M371.6 273.5l2.8 0.3M386.2 271.4l2.3-1.2M316.0 259.6l1.9-0.6M312.4 267.1l2.4 0.2M367.8 276.9l1.5-0.4M364.1 289.8l1.5 0.1M370.5 279.9l1.8-0.6M342.8 287.1l1.5 0.3M377.0 265.0l1.6-0.9M370.1 266.7l1.8 0.9M354.2 268.6l1.5 0.7M381.2 264.0l1.5-0.3M382.9 281.3l2.7 0.6M379.7 271.6l2.3-0.7M352.6 280.4l2.4 0.4M372.3 271.4l2.4-0.4M353.3 274.1l1.7 0.8M324.3 280.1l1.5-0.7M328.5 268.2l1.5 0.8M330.7 267.6l2.1 0.7M336.7 287.3l1.6 0.9M376.3 268.4l2.3-0.9M376.9 270.7l2.3-0.2M382.0 278.4l2.1-0.9M354.2 277.9l2.6 0.5M351.3 280.8l1.5-0.3M318.7 280.0l1.4 0.7M317.5 261.5l1.5 0.6M376.3 281.5l2.0 0.0M334.3 265.9l2.6-0.5M357.6 278.7l2.4 1.3M322.6 285.4l2.7-0.1M327.6 286.9l1.7-0.1M372.4 264.3l2.5 0.9M338.7 262.8l1.5-0.7M375.7 282.0l1.6-0.9M367.2 282.1l2.2-0.2M368.0 263.9l1.7 0.8M369.2 276.7l2.7 0.5M362.8 265.3l1.7 0.5M355.5 272.0l2.9-0.5M342.3 286.7l2.6 1.2M320.3 260.0l2.6-0.2M363.6 262.5l2.5 1.4M341.4 272.4l1.7-0.3M340.1 290.3l2.1-0.3M311.7 271.6l1.6 0.3M310.2 274.1l2.3-1.2M385.3 266.3l2.1 0.5M388.0 263.6l1.8 0.8M326.9 290.5l1.9-1.1M311.1 267.3l1.9-0.2M372.8 262.6l2.9-0.6M345.9 272.1l1.6 0.1M382.3 266.7l2.3-1.0M356.8 273.1l1.8 0.1M327.5 280.7l2.6 0.6M321.5 289.7l2.6-0.1M327.0 285.7l1.5-0.8M337.2 279.8l1.8 0.6M351.1 275.6l1.6-0.6" stroke="#a8a8a8" stroke-width="1.0" stroke-linecap="round" fill="none"/>
<polygon points="298.0,250.9 318.9,241.2 331.8,237.2 349.4,237.2 363.9,242.0 394.4,252.5 392.8,262.1 360.0,262.0 330.0,258.0 301.2,257.3" fill="#9c9c9c"/>
<path d="M346.4 239.9l-2.8 0.0M382.6 254.7l0.4 1.3M382.5 251.2l-0.8 1.4M363.1 255.7l0.6 2.6M334.0 248.1l-2.1 0.5M371.6 260.8l1.7 0.2M391.0 257.6l1.2 1.3M383.1 253.2l-0.9 2.5M348.9 251.6l1.0 2.8M338.5 257.7l-0.2 2.0M366.1 247.9l1.1 0.9M307.1 248.8l1.4 0.7M307.9 251.0l-1.3 1.4M329.0 256.2l1.0 1.2M331.4 250.4l1.2 1.9M306.5 253.8l-1.6 2.4M320.9 255.2l0.1 1.7M349.2 255.8l1.3 0.2M354.8 246.5l-0.4 1.3M349.9 244.9l0.8 1.1M303.2 252.0l1.8 0.8M360.8 258.1l1.5 0.9M332.2 247.8l-0.7 2.2M308.2 250.7l2.0 1.4M332.8 251.2l-2.6 1.2M356.4 256.4l2.3 1.2M334.8 250.8l0.1 2.2M314.1 246.8l1.0 0.7M369.2 252.0l0.5 1.7M331.1 255.2l-2.7 0.4M330.3 246.5l-0.9 0.8M381.2 248.7l-1.7 0.1M390.7 260.6l1.4 0.1M328.6 239.0l-0.6 1.2M344.5 259.5l-0.2 1.2M355.1 246.9l-1.4 1.7M340.7 242.7l2.5 0.7M369.8 250.6l-2.5 1.7M339.6 244.3l2.5 1.3M308.9 246.3l0.5 1.6M308.8 247.4l2.0 0.3M305.0 251.8l1.2 0.9M390.5 256.9l1.6 0.4M317.2 242.5l-0.9 1.3M355.2 240.4l-0.7 1.6M364.7 242.7l-2.6 0.6M380.3 249.6l0.6 2.4M357.2 243.3l0.8 1.1M339.4 256.2l0.1 1.9M321.8 254.6l-2.2 1.1M327.2 244.2l-0.1 1.7M338.5 252.8l0.6 1.3M355.1 255.1l-1.9 0.6M362.2 246.4l-2.7 0.6M375.4 247.7l-2.9 0.0M299.4 251.5l2.2 1.7M383.3 261.2l-1.9 1.9M320.6 242.4l1.3 2.3M359.9 256.9l-0.4 1.5M348.4 258.9l-2.2 1.5M309.1 250.3l-0.2 2.6M353.0 258.3l1.9 2.0M312.3 244.9l0.3 2.6M381.2 250.0l1.9 1.7M334.5 245.0l1.5 0.1M362.1 242.6l0.2 1.4M325.9 251.8l-1.0 1.2M337.7 256.2l-1.0 1.8M369.0 248.1l1.4 0.2M370.6 246.0l-0.2 1.8M336.6 246.3l-2.7 0.6M361.1 250.5l-1.6 1.1M391.8 261.8l-2.0 0.9M354.6 242.0l-2.2 0.8M381.8 254.0l0.2 1.7M356.4 247.0l-1.9 1.1M344.8 242.5l-1.4 0.3M350.4 255.7l-0.8 2.5M358.9 253.5l0.4 1.2M362.3 259.8l-1.1 2.0M340.8 259.4l-2.1 1.0M344.4 250.9l-0.8 1.1M319.6 251.5l-0.3 1.4M360.3 253.0l-0.9 1.0M374.8 260.2l-1.7 1.2M362.0 244.9l-0.5 2.4M354.2 254.4l-2.0 0.7M333.0 254.1l2.2 1.1M362.2 242.9l0.6 1.5M334.9 240.5l-1.5 2.4M345.0 255.3l2.0 1.7M372.4 259.0l-1.3 1.7M356.8 242.4l1.4 0.7M360.5 250.0l1.6 2.5M327.2 256.0l-2.3 0.5M350.9 253.9l2.2 0.8M306.9 250.6l-0.2 1.4M349.7 242.5l-1.1 1.3" stroke="#d0d0d0" stroke-width="1.0" stroke-linecap="round" fill="none"/>
<path d="M330.5 237.5h0m21 0.5h0m3 1h0m-29.5 1h0m2.5 0h0m4 0.5h0m1 0h0m4.5-0.5h0m1.5 0h0m13 0.5h0m0.5 0h0m1-0.5h0m0-0.5h0m-14.5 1.5h0m-18 1h0m1.5-0.5h0m8 1h0m3-0.5h0m1.5 0.5h0m1 0h0m0.5-0.5h0m5.5 0h0m6.5 0h0m3.5 0.5h0m3.5-0.5h0m-6 1h0m6.5 0h0m-36 1.5h0m1.5-1h0m8.5 1h0m2-1h0m2.5 0h0m9 0h0m5 1h0m2-1h0m10.5 1h0m4.5-1h0m-42.5 1.5h0m32.5 0h0m-39 1.5h0m1-0.5h0m2-0.5h0m7.5 0.5h0m2.5 0h0m2 0h0m3-0.5h0m3.5 0.5h0m8 0h0m1.5 0h0m11.5 0h0m1 0h0m13.5-0.5h0m2 1h0m0-0.5h0m-67.5 1h0m13 0h0m3 0h0m30.5 0h0m3.5 0h0m2.5 0h0m1 0h0m-47.5 0.5h0m1 1h0m0-1h0m4.5 1h0m6.5-0.5h0m3.5 0h0m1.5 0.5h0m1 0h0m0.5-0.5h0m8 0h0m1.5 0h0m2.5-0.5h0m3.5 0.5h0m1 0h0m11.5-0.5h0m0.5 0h0m7.5 0h0m3.5 0h0m-60 1.5h0m13.5 0h0m2 0h0m14 0h0m23 0h0m10 0h0m4 0h0m0 0h0m-76.5 1.5h0m0.5-0.5h0m0 0h0m5.5-0.5h0m0.5 1h0m2.5-0.5h0m2 0.5h0m6 0h0m0-1h0m3.5 1h0m3.5-0.5h0m3.5 0h0m3 0.5h0m22.5-1h0m1 0.5h0m0.5 0.5h0m9-1h0m2 0.5h0m1-0.5h0m0.5 1h0m4-0.5h0m0.5 0h0m-66.5 1h0m46 0h0m7.5 0h0m4 0h0m16 0h0m-78 1h0m15.5 0h0m4.5 0h0m1 0h0m7 0.5h0m2 0h0m0.5 0h0m19 0h0m4.5-1h0m7 0.5h0m7 0h0m5.5-0.5h0m3 0h0m9 0h0m-79 1.5h0m1 0h0m1.5 0h0m26 0h0m11 0h0m6 0h0m18 0h0m5.5 0h0m4.5 0h0m-80.5 1h0m1.5 0h0m2.5 0h0m0 0h0m2-0.5h0m7.5 0.5h0m10-0.5h0m26.5 0.5h0m2.5 0h0m1.5 0h0m1.5 0h0m2 0h0m4 0h0m1.5-0.5h0m0.5 0h0m5 0.5h0m11-0.5h0m10.5 0h0m2.5 0.5h0m-56.5 1h0m50 0h0m3 0h0m-84 1h0m1.5 0.5h0m55.5-0.5h0m2 0h0m26.5-0.5h0m-85 1.5h0m34.5 0h0m23 0h0m17.5 0h0m9.5 0h0m-72 0.5h0m18.5 1h0m3-0.5h0m14.5 0h0m10 0.5h0m0.5-0.5h0m2.5-0.5h0m9.5 0.5h0m-33.5 1h0m4 0h0m-5.5 0.5h0m1 0.5h0m18 0h0m1 0h0m7.5-0.5h0m4.5 1h0m-21 0.5h0m11.5 0h0m25 0h0m-28 0.5h0" stroke="#151515" stroke-width="1.20" stroke-linecap="round"/><path d="M339.5 237h0m-9.5 1h0m0.5 0h0m7-0.5h0m2 1h0m-6.5 0.5h0m-8.5 0.5h0m10 0.5h0m2 0.5h0m1.5-1h0m2 0h0m2.5 0h0m2 0h0m6.5 1h0m-28 0.5h0m-1.5 0.5h0m5.5 0h0m6.5 0h0m7.5 0h0m2 0h0m1.5 0h0m1 0.5h0m2 0h0m4 0h0m3 0h0m0.5 0.5h0m1.5-1h0m1.5 1h0m-28.5 0.5h0m7.5 0h0m3.5 0h0m16.5 0h0m8 0h0m0 0h0m0.5 0h0m-44.5 1.5h0m12-1h0m8 1h0m5-1h0m-30 1.5h0m18 0h0m5.5 0h0m24 0h0m0.5 0h0m-53 0.5h0m13.5 1h0m8.5-0.5h0m9-0.5h0m8 0h0m4.5 0h0m1 0.5h0m1-0.5h0m6.5 0.5h0m5 0h0m6 0.5h0m-61.5 0.5h0m22.5 0h0m7 0h0m15.5 0h0m-49 1.5h0m23.5-0.5h0m2 0h0m4.5 0h0m2-0.5h0m6.5 0.5h0m6.5 0h0m3 0.5h0m7.5-1h0m0.5 0.5h0m10 0h0m0.5 0h0m4 0.5h0m0 0h0m-64.5 0.5h0m2 0h0m31 0h0m20 0h0m9.5 0h0m-76 0.5h0m16 1h0m8 0h0m11.5 0h0m7.5 0h0m0-0.5h0m11 0h0m4.5 0h0m19.5 0h0m-70.5 1h0m1.5 0h0m7.5 0h0m16.5 0h0m1 0h0m28 0h0m8 0h0m3.5 0h0m-74.5 1.5h0m0.5-1h0m1.5 0.5h0m15 0h0m32.5-0.5h0m3.5 0.5h0m3 0.5h0m1.5 0h0m0.5-0.5h0m8.5 0.5h0m11.5 0h0m4-0.5h0m-79.5 1h0m18.5 0h0m21 0h0m3 0h0m36 0h0m7.5 0h0m1 0h0m1 0h0m-90.5 0.5h0m2 1h0m24.5 0h0m8.5-0.5h0m1.5-0.5h0m3 0h0m0.5 1h0m2.5-0.5h0m15 0h0m12 0h0m0.5-0.5h0m2.5 1h0m5 0h0m1.5-1h0m3 0.5h0m3.5-0.5h0m4 1h0m-86.5 0.5h0m9.5 0h0m6 0h0m7 0h0m2.5 0h0m23.5 0h0m2.5 0h0m14 0h0m18.5 0h0m3.5 0h0m-89.5 0.5h0m2 0.5h0m0.5 0h0m0 0.5h0m3 0h0m7.5-1h0m2.5 1h0m19-1h0m4 1h0m7.5-0.5h0m10.5 0.5h0m4.5 0h0m3-0.5h0m3.5 0.5h0m2-0.5h0m14 0.5h0m-54.5 0.5h0m12 0h0m11.5 0h0m-17.5 1.5h0m0.5-0.5h0m7.5 0.5h0m2-0.5h0m4-0.5h0m6 0h0m0 0h0m3.5 0h0m3 1h0m4.5-1h0m9.5 1h0m1-1h0m5 0h0m0.5 0.5h0m10-0.5h0m-43 1.5h0m-6.5 0.5h0m4.5 0.5h0m14.5-0.5h0m15.5 0.5h0m-17 2h0m3 0h0m4 0h0m7-0.5h0m3 0h0m13 0h0" stroke="#151515" stroke-width="0.80" stroke-linecap="round"/><path d="M330 238.5h0m3.5-1h0m4.5 0.5h0m10.5 1h0m-26 1.5h0m8-0.5h0m5.5-0.5h0m11.5 1h0m8-1h0m3 1.5h0m-35 1.5h0m0-1h0m0 0h0m5.5 1h0m8-0.5h0m7.5 0h0m0 0h0m4 0h0m1-0.5h0m0.5 0h0m1.5 0.5h0m7.5 0h0m2 0h0m-44 1h0m36 0h0m-37 0.5h0m8 1h0m0-0.5h0m1-0.5h0m5 0.5h0m3.5 0h0m0.5 0h0m1.5 0h0m3-0.5h0m1.5 0.5h0m2-0.5h0m1.5 0.5h0m6 0h0m8 0h0m-31.5 1h0m1 0h0m1.5 0h0m10 0h0m1 0h0m18 0h0m1.5 0h0m9.5 0h0m-56 1h0m10-0.5h0m5.5 0h0m2 0h0m3.5 0.5h0m3.5 0h0m8 0h0m5.5 0.5h0m6 0h0m6 0h0m3.5-1h0m4.5 1h0m-47.5 0.5h0m50.5 0h0m-66 1.5h0m2.5 0h0m6.5-1h0m1 0.5h0m10.5 0h0m13.5 0h0m6.5-0.5h0m9.5 1h0m6.5-0.5h0m5.5 0.5h0m5.5-1h0m6.5 1h0m-75 0.5h0m31.5 0h0m41 0h0m5 0h0m-75 1.5h0m9-1h0m10 0h0m8.5 1h0m6.5 0h0m2 0h0m3.5-1h0m1 1h0m5-0.5h0m1-0.5h0m9 1h0m11.5 0h0m2 0h0m0.5 0h0m4.5 0h0m0.5-0.5h0m3 0.5h0m1 0h0m-87.5 0.5h0m14 0h0m19.5 0h0m34 0h0m11.5 0h0m7 0h0m-81.5 1h0m2 0h0m0.5 0h0m17.5 0h0m4.5 0h0m1 0.5h0m5-1h0m4 1h0m5-0.5h0m1.5 0h0m7 0.5h0m0.5-1h0m19 0.5h0m12-0.5h0m0.5 0.5h0m0.5 0.5h0m0-1h0m4 0.5h0m-28.5 1h0m15 0h0m-69 0.5h0m7.5 0.5h0m11-0.5h0m3 0h0m5 1h0m3-1h0m8 0h0m1.5 0.5h0m2-0.5h0m0.5 1h0m2 0h0m4.5-1h0m7.5 1h0m10-1h0m21.5 0.5h0m-89 1h0m31 0h0m28 0h0m5.5 0h0m6 0h0m-70.5 1h0m24 0.5h0m1.5 0h0m2 0h0m6-1h0m5.5 0.5h0m0.5 0.5h0m2.5-0.5h0m2.5 0.5h0m0.5-0.5h0m18 0h0m2 0h0m1.5 0h0m8.5 0h0m2.5-0.5h0m2.5 0h0m-80.5 1.5h0m39 0h0m13.5 0h0m28.5 0h0m5.5 0h0m-62 1h0m5.5-0.5h0m4.5 0.5h0m3-0.5h0m1 0h0m4.5 1h0m23 0h0m8 0h0m4-0.5h0m3 0h0m5 0h0m-40 1h0m24.5 0h0m16.5 0h0m2 0h0m-47 0.5h0m9 1h0m6.5 0h0m1.5-1h0m2.5 1h0m2.5-1h0m12.5 0.5h0m1.5 0h0m7.5 0.5h0m-36.5 0.5h0m0.5 0h0m3 0h0m17 0h0m7 0h0m-15.5 0.5h0m21.5 0h0" stroke="#151515" stroke-width="1.60" stroke-linecap="round"/>
<polyline points="298.0,250.9 318.9,241.2 331.8,237.2 349.4,237.2 363.9,242.0 394.4,252.5" fill="none" stroke="#b8b8b8" stroke-width="1.0" stroke-linejoin="round" stroke-linecap="round" stroke-opacity="0.8"/>
</g>
<clipPath id="bc4"><polygon points="436.0,252.5 452.1,244.5 474.6,237.2 497.1,238.0 511.5,244.5 534.0,255.7 524.4,266.9 505.1,283.0 489.0,287.8 460.1,291.0 447.3,284.6 437.6,262.1"/></clipPath><g clip-path="url(#bc4)">
<polygon points="436.0,252.5 452.1,244.5 474.6,237.2 497.1,238.0 511.5,244.5 534.0,255.7 524.4,266.9 505.1,283.0 489.0,287.8 460.1,291.0 447.3,284.6 437.6,262.1" fill="#1a1a1a"/>
<path d="M487.9 265.2l1.0 4.8M451.7 265.8l0.5 2.9M460.0 282.8l1.6 4.0M492.6 279.7l1.2 3.4M445.8 275.4l-0.2 2.8M519.5 266.7l-2.5 5.0M446.2 277.9l0.4 3.0M449.8 277.0l0.3 3.7M471.7 286.9l1.0 3.0M456.8 272.4l-1.1 2.6M455.8 269.3l1.9 5.4M504.0 273.7l1.5 5.6M502.6 267.2l2.6 4.7M464.8 287.6l1.5 2.8M483.3 283.8l-2.3 4.7M477.7 268.7l0.5 3.6M501.0 271.8l0.3 2.8M486.9 270.5l-1.7 3.0M441.6 267.5l-0.7 2.7M466.8 276.4l-1.3 5.6M470.4 286.9l1.5 4.5M521.6 269.0l1.9 3.8M476.0 282.0l-1.4 4.8M478.0 267.3l-0.1 2.6M460.6 284.2l-0.4 2.8M485.2 271.0l0.6 4.5M513.2 268.5l0.4 4.8M459.3 266.5l-0.9 5.1M481.6 275.1l-2.3 4.8M452.3 274.7l0.9 4.3M475.8 264.7l0.2 3.3M465.0 281.7l-0.7 4.7M475.3 269.9l-0.4 2.6M442.9 269.7l-1.6 2.8M513.0 267.0l2.0 4.3M449.7 270.9l-2.2 5.1M483.9 267.8l-0.5 5.6M509.9 271.7l-0.9 2.9M458.3 287.1l0.8 2.4M478.6 270.5l-0.3 5.1M469.2 270.8l1.4 5.5M470.4 272.4l-1.1 4.7M478.3 275.2l2.1 5.6M470.7 265.3l0.0 4.4M476.1 279.4l-1.0 3.0M449.8 276.5l-0.9 4.1M518.1 269.7l0.5 2.9M446.9 272.2l0.1 4.0M453.9 263.8l1.6 3.2M443.3 268.5l2.1 4.3M505.8 277.4l1.8 3.2M455.5 262.3l0.1 5.1M484.4 287.0l-0.6 2.8M464.6 286.9l-0.3 4.4M448.7 266.9l-0.3 5.2M465.3 276.1l-1.7 5.7M484.0 281.3l-0.5 4.9M472.9 268.8l0.3 4.4M455.2 273.8l1.1 5.7M452.1 274.4l-0.9 5.1M520.9 268.0l1.9 5.4M474.5 288.3l0.2 3.5M467.9 272.3l2.0 4.6M451.2 271.1l0.6 5.3M452.9 280.3l-0.3 3.5M456.0 278.3l0.9 4.0M447.0 265.4l1.0 2.6M457.2 284.5l-0.8 5.5M501.6 277.4l2.3 4.5M500.5 273.0l-0.5 5.8M440.6 265.4l-1.2 4.5M504.6 272.5l-0.3 5.2M465.6 270.6l-0.6 4.0M504.8 274.6l-0.3 2.9M479.2 270.7l-0.1 4.2M507.1 271.6l1.4 3.7M497.9 279.5l-1.1 3.6M495.9 282.1l-2.8 5.1M455.0 262.3l-2.9 5.1M478.0 264.6l-0.4 4.1M449.2 274.1l-1.2 3.9M490.3 279.7l0.9 3.5M459.5 265.3l-0.2 2.6M461.5 283.2l2.7 4.9M469.5 269.3l2.4 4.9M456.0 277.9l2.2 5.4M455.2 284.6l0.8 4.1M453.7 272.4l1.0 5.0M502.7 270.3l-2.4 5.1M481.7 288.0l-1.5 2.8M488.0 266.1l1.3 2.5M490.4 278.8l-1.8 5.6M468.9 273.1l1.0 4.9M507.0 276.1l-0.2 4.6M454.6 264.9l-1.5 3.0M476.0 272.6l0.6 3.9M508.9 272.5l-1.2 2.4M452.2 265.5l0.6 5.8M477.0 279.4l-1.1 2.6M469.8 278.1l-1.8 5.7M503.7 268.2l0.2 3.9M489.4 269.3l-0.1 3.1M499.3 275.9l-1.9 4.4M463.0 269.7l-1.5 3.6M485.9 273.9l0.2 2.6M454.0 285.3l2.8 5.1M454.9 273.0l1.6 3.1M489.5 277.2l-0.1 4.1M486.5 280.3l-0.4 5.9M462.0 274.8l-1.2 5.6M509.0 273.0l-1.8 3.1M477.8 288.2l1.1 4.9M473.8 276.8l0.8 2.8M474.8 278.3l-0.7 2.9M452.2 278.3l-1.1 3.6M454.4 265.8l-2.8 5.1M481.6 274.1l0.2 2.5M479.4 274.3l-0.1 3.6M449.4 279.3l0.3 3.5M472.0 270.6l1.6 5.0M466.3 288.0l-0.5 5.4M463.2 281.6l-1.8 4.9M471.5 267.0l-0.7 4.1M490.0 274.8l-2.0 4.9M485.0 279.6l1.5 3.9M443.2 267.9l-1.8 3.3M517.3 269.5l-1.5 5.7M507.6 273.6l1.7 5.5M493.8 276.0l-0.5 3.6M481.1 288.1l-1.8 4.0M455.9 288.3l-0.8 5.1M510.1 275.8l2.1 4.0M446.4 282.6l-0.1 3.7M499.2 271.9l1.6 4.8M453.2 262.2l-0.4 3.0M511.9 267.8l-1.7 3.4M500.3 273.2l-1.5 3.9M500.1 275.0l-1.9 3.9M447.7 263.4l1.7 5.3M504.5 274.1l0.3 3.7M486.0 275.1l0.7 4.4M519.7 269.3l-0.5 2.7M479.8 283.5l-1.5 4.0M496.9 282.2l-0.9 3.2M448.9 272.9l-0.4 3.4M480.2 274.9l-0.3 4.0M474.5 287.7l-2.0 4.7M501.3 283.5l1.4 3.7M505.3 274.5l0.6 4.3M465.9 263.9l-0.9 4.2M503.3 266.3l0.9 3.5M440.3 263.0l0.4 4.5M482.3 264.8l1.0 5.3M463.7 281.0l-1.1 5.2M494.5 278.7l-1.3 4.8M462.0 265.5l-0.5 3.9M459.1 278.1l1.6 4.3M513.9 269.4l0.8 4.7M490.7 281.2l-0.9 3.9M505.6 280.5l-2.0 3.9M508.5 275.8l0.4 4.8M477.2 281.9l-0.2 4.6M475.3 285.3l-1.3 5.6M500.4 280.5l0.7 4.2M474.6 272.1l0.7 2.8M456.0 285.7l2.3 4.1M475.5 288.9l-2.1 5.0M494.1 273.7l-0.8 4.4M507.3 279.7l0.9 4.0M487.0 276.5l-1.4 5.2M466.4 280.1l-1.6 5.6M484.6 285.0l0.9 2.5M473.6 283.2l0.9 4.2M474.0 267.5l0.2 4.0M481.3 284.3l1.2 2.5M479.2 264.1l2.1 4.2M487.7 276.0l1.8 4.3M469.5 284.5l0.8 5.0M459.1 288.1l-0.9 2.5M474.8 287.4l0.7 3.9M456.0 282.2l-2.2 5.1M469.3 281.4l-1.4 5.3M501.5 273.7l-0.6 5.1M483.4 286.7l-0.8 3.4M455.3 275.3l-0.4 4.4M466.2 276.3l1.7 5.1M473.8 273.0l1.0 4.6M477.2 266.2l2.3 5.0M462.1 290.5l-1.2 4.5M491.6 285.3l-0.9 2.5M450.4 283.6l-1.3 2.6M509.2 276.1l0.4 3.3M492.8 282.5l-0.8 3.1M457.3 270.5l1.0 5.8M497.6 269.2l-0.7 3.5M484.0 268.2l-1.6 3.3M449.6 283.1l0.7 4.0M475.1 262.7l0.5 2.9M482.6 283.7l-0.4 4.2M475.6 274.0l-0.6 3.3M456.1 279.0l-0.7 2.8M478.6 277.6l-1.0 4.0M483.8 266.8l0.4 3.2M484.6 281.0l1.4 4.0" stroke="#a8a8a8" stroke-width="1.15" stroke-linecap="round" fill="none"/>
<path d="M445.9 272.9l2.0-0.5M509.1 276.9l2.4 0.2M484.2 288.1l2.9 0.2M496.8 272.5l2.6-0.4M453.6 281.7l3.0 0.1M494.6 275.5l2.1-0.2M501.0 272.6l1.4 0.6M482.8 286.6l1.9-0.6M514.5 273.6l2.0 0.1M506.6 270.8l1.9-0.8M459.8 265.3l2.6-0.6M478.1 268.4l2.7-0.1M445.8 277.1l1.8 0.0M452.9 274.1l1.7 0.1M487.5 276.0l1.9-0.5M463.7 276.7l1.5-0.6M450.7 284.2l2.4 0.1M497.9 276.6l1.9-0.5M491.3 278.3l1.5-0.3M488.0 284.7l2.4 0.2M487.0 274.4l1.7 0.4M501.0 265.9l1.9-0.9M465.8 280.1l2.8 0.6M446.1 273.1l1.5 0.4M444.3 272.5l2.3 1.2M503.9 275.6l2.7 0.2M449.8 274.2l1.7 0.4M462.7 275.8l2.1 0.7M484.6 278.8l2.6 1.3M493.1 277.9l2.3-0.3M475.9 285.7l2.7 0.7M503.7 266.2l1.6-0.8M473.3 271.2l2.0 0.9M502.1 279.6l2.9-0.2M504.2 279.6l1.8 0.5M467.1 271.9l1.7-0.4M459.6 263.8l2.8 0.4M493.4 271.9l1.7-0.7M492.1 279.0l2.2-1.1M488.7 287.1l2.5 1.1M507.0 266.2l2.3 0.8M512.6 273.5l2.9-0.5M442.8 267.9l1.9-1.0M462.7 264.3l2.5 1.1M493.7 282.9l1.5 0.4M468.1 264.7l1.7-0.7M488.5 285.9l2.0 0.2M475.5 269.1l2.0-0.4M453.0 280.8l2.5 0.9M476.6 266.0l2.5 0.2M471.1 270.1l1.6 0.4M497.8 283.8l2.1 1.1M486.2 273.5l2.0-0.0M451.4 278.6l2.5 1.4M468.0 267.4l1.5 0.7M470.2 262.8l2.4-0.0M448.1 278.5l2.2-0.4M512.5 267.7l1.7-0.8M471.2 263.2l2.2 1.0M495.2 271.5l1.8 1.0M480.5 265.4l1.8-0.8M505.5 268.6l2.4-0.8M473.0 267.3l1.7-0.4M459.6 284.6l1.7 0.3M479.3 269.5l2.5 0.9M471.0 284.8l2.5-0.7M473.6 277.6l2.3 0.7M477.4 283.8l2.1-0.2M455.6 275.2l2.5-0.2" stroke="#a8a8a8" stroke-width="1.0" stroke-linecap="round" fill="none"/>
<polygon points="436.0,252.5 452.1,244.5 474.6,237.2 497.1,238.0 511.5,244.5 534.0,255.7 524.4,266.9 495.0,265.0 470.0,262.0 437.6,262.1" fill="#555555"/>
<path d="M464.0 241.0l-0.1 1.4M510.2 260.9l1.7 1.1M458.8 250.3l1.5 0.8M483.4 245.9l-1.8 1.1M484.6 243.9l-1.3 1.5M480.2 246.6l1.9 0.5M494.8 247.9l-0.1 1.8M517.9 256.5l-0.5 2.0M487.3 256.4l-0.9 1.4M480.9 240.3l0.3 1.4M461.4 249.8l2.1 1.1M488.3 239.2l0.9 2.2M514.2 250.3l-1.8 0.7M477.8 254.4l1.2 0.5M492.2 241.3l-1.5 1.4M515.1 248.0l0.6 1.6M505.7 259.5l2.3 0.7M485.7 239.6l2.4 1.4M466.2 261.2l2.5 0.1M481.6 243.9l-0.1 1.2M460.2 257.5l2.6 1.4M504.6 245.0l2.2 2.0M490.7 261.5l-1.7 2.2M492.3 238.6l0.0 2.6M530.7 259.3l-2.0 1.2M491.1 251.4l0.1 1.4M480.3 259.6l-2.3 1.4M447.9 249.3l1.2 2.0M480.1 237.5l1.2 2.7M494.6 262.0l-2.2 0.6M523.2 265.4l-2.3 1.2M470.8 247.3l-1.5 2.1M437.7 256.1l0.8 2.3M529.0 255.4l0.7 2.6M503.1 264.8l0.8 1.2M470.8 246.2l-0.9 2.1M453.2 259.4l-0.2 1.4M466.9 258.2l-0.8 1.5M443.5 252.0l0.3 2.3M501.5 261.6l-0.2 2.4M511.5 253.7l-0.6 1.6M472.1 255.1l0.9 2.3M480.6 238.5l-1.0 2.1M469.7 250.2l-1.8 0.5M513.7 246.5l-1.8 0.5M491.3 240.9l2.7 1.4M478.3 246.0l1.2 1.2M507.5 261.1l1.4 1.8M448.2 260.7l-1.5 0.7M475.9 243.9l-0.7 1.9M495.8 238.8l2.1 0.1M508.0 264.8l0.1 1.7M449.7 250.5l0.6 1.8M460.0 257.4l2.1 1.7M476.5 250.6l1.1 0.7M444.6 256.4l2.2 0.2M505.4 243.2l-2.0 0.2M486.4 245.6l-2.5 1.3M464.4 251.4l0.7 2.9M511.5 261.4l-2.0 0.4M496.9 244.0l-0.9 1.3M465.7 247.7l1.3 0.3M476.7 240.2l-0.2 1.2M509.0 248.0l0.4 2.8M475.7 260.0l0.8 1.3M446.0 249.5l2.1 1.4M516.9 255.8l-0.9 2.1M502.0 248.4l-0.9 1.0M483.7 242.0l0.1 1.5M476.2 260.3l0.8 1.9M495.5 245.7l-2.4 0.6M438.4 256.7l0.7 2.3M519.2 254.0l1.8 1.9M506.7 252.0l1.2 0.2M472.3 239.8l1.7 1.2M501.8 258.9l-1.2 2.2M450.4 251.0l-0.2 2.1M501.9 257.7l-0.2 1.5M515.3 252.3l-1.9 1.9M459.7 261.7l1.3 1.5M515.4 256.2l-2.8 0.3M521.8 264.3l-0.2 2.4M480.5 256.5l0.2 2.5M491.8 246.2l-1.2 2.1M502.0 246.6l1.7 0.4M474.7 247.7l-0.1 1.4M492.5 242.1l-1.5 1.8M443.3 261.7l-0.6 2.7M486.7 259.4l-1.9 1.5M506.5 245.8l1.4 1.4M469.6 260.2l1.7 1.5M471.3 240.7l0.6 1.3M473.3 237.9l1.6 1.4M502.9 242.7l1.7 0.7M442.0 254.6l-1.0 2.2M457.4 253.4l-0.9 1.3M486.2 240.6l1.4 0.7M447.5 254.1l1.5 2.0M504.1 247.4l0.6 2.3M497.0 243.7l-1.6 0.9M488.1 250.1l-2.0 0.7M443.3 259.8l-0.2 1.6M491.5 258.8l-1.7 0.3M440.0 253.4l-1.4 1.1M442.8 251.3l-0.9 1.6M516.9 250.2l-1.9 0.0M451.5 251.8l-1.2 0.4M484.4 248.2l1.3 2.2M478.0 247.7l2.6 1.1M471.5 246.5l1.4 2.1M459.4 259.0l1.8 2.1M460.5 257.5l-0.5 2.9M480.7 253.8l1.9 0.0M505.2 251.3l-0.5 2.1M525.5 258.7l1.5 0.2M488.1 247.7l-1.1 2.6M510.3 255.1l0.5 1.8M461.0 250.5l0.4 1.9M467.2 246.4l-0.9 0.8M482.6 258.8l1.5 1.9M441.4 256.4l-1.7 1.2M518.9 260.7l-1.9 1.4M484.0 250.4l1.1 0.6M508.0 253.0l1.2 1.0M511.9 255.9l1.2 0.1M526.6 254.0l1.2 0.8M468.6 247.4l-2.7 0.6M437.5 256.2l-1.1 2.3M488.7 247.3l-1.1 1.9M483.1 254.0l0.8 2.0M487.4 248.4l2.1 1.3M472.0 252.0l-1.1 2.0M449.0 255.7l1.7 0.3M459.5 256.0l0.8 2.5M509.0 265.8l-0.1 1.4M454.9 252.4l2.0 1.4M515.0 256.9l2.4 0.9M470.8 243.1l2.4 0.2M509.3 248.2l0.4 2.1M516.6 251.2l-0.4 1.2M444.0 255.8l0.8 1.4M513.2 257.2l2.3 1.2M489.0 245.5l1.5 1.8M477.1 243.0l-1.8 1.3M503.2 243.7l0.7 2.4M461.3 249.3l2.1 0.1M502.7 250.3l-1.6 0.3M444.8 259.5l2.5 0.1M506.3 253.3l0.6 2.2M494.9 247.6l0.8 1.9M462.9 257.2l1.9 0.1M477.2 251.9l-1.2 0.8M456.3 258.9l1.7 0.3M490.3 244.9l0.1 2.8M523.0 259.9l1.4 1.5M515.9 255.3l-1.1 2.3M469.3 253.7l-2.9 0.5M490.7 255.7l2.6 0.6M455.1 249.8l-1.8 1.4M486.3 245.1l2.2 0.1M447.9 253.8l1.5 2.4M503.9 251.1l-2.0 1.9M504.7 246.1l2.3 0.9M515.8 259.9l-1.1 1.0M474.8 251.5l2.4 0.8M476.9 251.1l-2.0 1.0M489.6 253.2l0.7 1.9M449.8 261.0l-2.5 1.7M520.8 255.5l-0.3 2.8M485.4 248.7l-2.1 0.1M498.0 259.9l-2.2 1.3M466.2 247.0l1.6 1.0M445.6 258.1l1.6 1.5M441.2 252.9l0.0 1.7M522.0 261.4l-0.7 2.6M495.0 240.1l1.9 2.2M519.0 248.7l1.5 0.4M501.5 245.6l0.5 1.7M458.5 251.4l-2.7 0.3M506.7 263.5l-2.3 1.0M505.9 244.4l0.3 2.5M493.9 255.0l-1.6 0.1M490.1 238.8l-0.2 2.6M502.2 262.1l0.2 2.6M518.1 256.3l2.0 0.2M447.1 250.8l-1.2 0.1M492.7 264.3l1.9 0.1M459.7 261.1l-0.6 1.9M499.0 260.9l-1.3 1.2M525.6 256.5l2.7 0.9M484.1 238.2l-1.1 0.8M502.5 249.3l1.5 0.8M453.6 259.9l-0.2 2.2M528.0 253.1l-1.6 0.3M525.3 260.9l1.0 2.4M523.6 260.7l-1.0 0.9M459.1 257.3l-1.0 2.4M493.5 242.6l0.6 1.8M477.7 243.3l2.9 0.6M477.3 257.7l-0.9 1.9M480.4 262.8l-2.2 1.3M492.4 252.6l1.6 1.7M528.0 254.5l2.0 2.0M503.6 265.4l-1.6 1.4M488.2 260.9l-1.9 0.1M480.5 249.9l1.5 1.4M470.2 252.5l1.7 2.2M507.4 264.8l-1.1 1.9M488.1 259.6l-1.6 0.9M498.3 244.4l1.9 0.4M490.0 245.9l-2.2 0.0M465.6 246.1l0.7 1.4M516.2 247.1l-0.7 2.6M484.1 239.6l1.9 0.6M521.6 266.1l-1.2 0.8M467.4 261.6l0.5 2.2M511.8 259.7l-0.6 1.7M528.5 256.9l1.5 0.0M491.0 253.5l-1.4 1.3M494.8 253.6l-2.3 0.2M500.7 248.6l0.8 2.6M521.9 252.4l-1.2 1.9M501.6 264.6l0.3 2.0M488.2 244.3l1.1 0.5M517.3 258.6l-1.1 2.1M494.7 248.5l0.6 2.3M507.9 253.9l-1.2 0.2M467.2 239.7l2.2 1.6M451.0 246.3l2.0 0.4M454.3 253.3l-1.9 0.0M496.4 260.5l2.7 0.9M470.4 247.3l-0.9 1.3M491.7 246.3l-2.3 1.8M516.2 248.9l1.5 2.3M521.9 251.5l-1.2 1.5M483.9 245.7l1.4 1.4M444.3 257.9l-1.9 0.4M522.8 262.0l-2.8 0.4M468.1 241.8l-0.8 1.0M515.8 253.1l-0.6 2.5M523.5 259.5l-2.2 0.2M483.6 258.2l-2.2 0.2M504.8 253.6l2.1 1.4M475.7 239.8l1.3 0.4M468.7 252.3l-1.3 1.2M475.5 253.6l-1.6 1.4M483.6 258.5l1.4 1.5M478.8 251.6l1.0 1.0M462.9 243.1l0.1 2.2M502.1 264.6l-1.1 2.6M508.2 247.7l0.7 1.2M488.0 260.5l1.8 1.1M462.6 254.5l1.9 0.8M461.6 245.9l1.4 1.0M511.3 259.4l-1.7 0.9M504.8 245.1l-0.3 2.7M487.8 241.5l2.1 0.9M452.1 254.0l2.4 0.8M457.4 259.8l2.5 1.5M513.1 246.0l1.8 1.1M528.0 255.9l-0.9 2.6M499.4 245.2l-1.7 0.9M446.5 256.0l1.2 1.5M529.8 259.7l-2.5 1.0M454.2 253.1l-2.3 1.3M488.2 254.3l-2.9 0.1M530.3 258.9l-0.2 1.4M473.2 247.7l1.0 0.9M459.2 256.8l0.2 2.0M505.1 263.5l0.3 2.0M469.1 247.5l-2.1 0.7M509.7 244.3l-0.3 2.2M526.4 253.7l-1.1 1.6M442.0 253.2l1.5 1.3M476.2 256.2l-2.8 0.8M507.3 254.6l1.4 1.3M466.6 255.3l2.4 0.6M470.3 252.4l0.4 2.1M468.6 242.6l-2.8 0.6M480.5 248.1l0.1 1.7M494.5 241.2l-2.5 1.2M445.5 259.5l2.5 1.4M449.2 258.3l1.4 1.8M486.4 258.3l2.0 0.4M465.9 242.3l-1.2 2.2M499.1 244.2l0.1 1.8M469.3 246.1l1.1 1.1M510.2 252.1l-1.5 2.6M496.8 238.9l0.3 1.2M505.3 255.6l2.5 1.0M494.5 248.1l-2.2 1.7M495.6 262.8l2.0 0.4M459.3 249.5l-1.3 0.4M480.1 258.9l2.8 0.9M501.6 245.4l-1.2 2.1M442.5 252.3l-0.6 1.2M486.6 263.2l-0.6 1.2M471.6 250.4l-2.2 1.3M488.7 259.5l-1.0 1.5M487.8 243.9l-0.1 1.7M466.1 257.6l2.1 1.4M452.3 252.3l-0.4 2.7M511.1 260.9l-2.5 1.2M507.7 245.1l-2.7 0.8M470.2 256.9l-0.1 1.5M504.3 250.7l-0.2 2.2M481.4 257.4l-2.0 0.5M454.8 261.2l-2.8 0.4M514.3 261.8l1.2 0.3M499.5 245.0l1.0 1.4M512.0 249.0l0.7 1.9M456.3 247.1l-1.4 2.6M528.1 252.9l-1.8 0.1M485.1 259.3l2.2 0.3M468.3 255.0l-2.5 0.4M485.6 262.8l-1.3 0.7M519.8 255.8l-0.7 1.5M464.9 241.2l-0.4 1.1M530.8 258.4l-0.3 2.5M472.4 242.8l1.1 0.6M474.0 240.5l-0.4 2.6M522.6 265.8l-1.6 1.3M526.3 255.8l0.7 2.3M483.6 253.8l2.7 1.3M441.6 255.6l-1.3 2.6M438.7 255.1l0.6 1.2M478.6 257.4l0.8 1.5M507.9 243.7l2.2 1.0M518.2 263.1l-1.9 1.3M489.8 240.2l-1.4 0.1M459.9 257.5l1.3 1.2M495.7 263.2l0.4 2.6M467.3 248.2l-0.5 2.0M453.9 261.9l-0.1 1.9M490.3 256.2l1.4 0.7M524.8 251.3l-0.6 2.4M512.0 262.1l0.4 1.3M485.3 250.9l0.9 1.0M473.9 257.4l-0.9 2.3M509.2 244.1l0.8 2.5M497.1 264.2l1.3 0.1M482.3 262.6l2.4 0.5M500.1 263.7l0.8 2.6M492.1 255.5l-0.9 1.9M511.9 263.9l-1.9 1.5M477.6 253.0l0.5 2.4M504.9 260.8l0.4 1.5M450.5 249.8l-1.5 0.9M447.2 248.2l-1.7 1.0M456.7 243.5l1.0 0.8M483.2 260.3l0.9 1.4M470.4 260.6l2.0 1.3M485.3 239.7l1.8 0.4M504.8 256.2l2.1 1.5M511.7 252.4l-0.6 2.2M459.8 258.7l-0.6 2.2M489.0 263.8l1.0 1.9M522.3 251.3l0.1 2.8M476.7 246.0l-1.7 0.8M477.9 239.2l0.7 2.2M495.3 247.8l1.2 0.3M479.7 255.1l-1.6 1.8M518.9 256.3l-1.5 0.6M491.9 247.7l-0.7 2.1M448.0 251.2l2.6 0.1M521.0 258.3l-1.6 1.5M519.4 253.9l-1.1 1.2M518.0 250.4l-1.8 1.2M473.9 246.8l0.7 1.4M484.2 242.8l-0.9 2.4M502.3 258.2l1.8 0.2M481.9 248.6l-0.2 1.5M485.3 243.0l-2.1 1.4M459.3 260.8l0.9 1.5M511.6 256.8l2.1 2.1M471.5 261.0l0.5 1.3M514.4 259.5l-2.2 1.0M526.0 256.2l1.4 0.5M505.2 255.6l1.2 2.4M520.7 266.5l-1.7 0.4M496.1 251.3l-0.9 1.2M488.3 262.1l-1.5 0.0M523.2 255.2l-0.4 1.7M463.3 255.9l0.7 2.8M487.7 260.1l1.8 0.7M461.8 241.5l1.0 1.3M466.2 243.3l1.7 1.5M440.9 261.7l-0.8 0.9M501.7 249.4l-1.8 1.0M519.8 258.0l-1.6 0.4M482.6 237.8l2.1 0.2M503.6 265.5l-2.1 1.1M498.0 245.1l-0.3 2.6M482.2 239.6l-1.5 1.0M497.0 252.0l-1.9 1.1M488.9 256.6l2.7 1.3M473.4 257.7l2.9 0.9M487.9 249.6l0.1 1.4M457.1 243.9l-2.6 1.2M472.2 239.9l-0.8 1.3M500.0 260.9l-1.7 0.8M465.5 241.2l-0.6 2.3M493.3 251.2l1.5 0.0M510.6 264.1l-1.3 1.0M503.6 242.3l-2.5 0.4M459.3 248.3l2.2 0.1M492.6 250.8l2.2 0.7M471.0 261.5l1.3 1.2M507.2 262.1l-0.5 1.5M518.1 265.7l1.5 1.2M448.5 261.6l-1.4 1.6M490.0 263.3l-0.2 1.3M463.2 254.8l-1.4 2.1M519.5 256.0l2.1 0.3M489.8 260.0l-1.4 1.1M471.0 240.8l-1.2 2.5M468.7 241.2l2.1 1.6M508.6 248.3l1.6 1.8M498.7 257.0l-1.0 0.8M467.2 257.3l0.9 2.9M500.2 241.8l0.9 0.8M450.3 259.6l-1.3 2.1M508.9 253.5l1.2 1.7M486.0 247.8l-2.1 0.4M516.8 255.0l0.9 2.3M483.5 238.3l-1.8 2.1M481.0 251.7l0.9 2.0M472.8 250.5l2.7 0.3M484.8 240.7l-0.8 2.5M455.2 252.2l-1.9 0.6M506.7 259.3l-0.9 2.5M491.2 262.3l1.5 1.6M514.3 256.6l1.4 0.1M462.0 247.5l1.7 0.8M484.4 249.8l-1.3 1.2M441.0 256.3l1.9 0.6M461.1 247.3l-2.7 0.2M503.8 243.5l-1.5 1.0M443.6 257.5l2.5 0.6M502.1 259.8l0.7 1.0M464.7 251.3l1.1 1.7M513.5 263.4l2.1 1.7M518.2 258.9l-2.1 0.7M500.6 261.7l-0.0 1.8M504.5 262.1l-2.2 0.3M491.4 254.8l1.3 2.4M530.3 258.8l2.8 1.2M476.3 247.3l-1.5 0.7M449.4 248.7l0.9 1.2M469.1 258.7l0.3 1.7M513.1 259.9l2.2 1.0M496.8 247.0l0.7 2.3M505.0 244.3l-2.4 0.4M461.2 244.5l-0.8 2.5M472.2 255.4l-1.6 1.2M484.0 251.5l-1.0 1.4M521.6 266.0l1.4 0.2M525.6 252.5l-1.7 2.3M464.9 255.2l-0.1 2.4M476.7 238.2l-2.2 1.7M463.1 261.2l-1.2 1.6M487.2 252.9l1.5 1.8M470.4 260.7l-1.2 0.3M498.8 248.9l-1.6 1.9M532.4 256.2l-0.4 2.5M461.0 261.8l-0.6 1.7M506.7 254.5l0.3 2.5M466.3 241.8l-2.5 0.8M507.1 244.2l-1.1 0.9M449.0 249.5l-0.2 2.6M472.1 253.1l-1.0 0.9M499.0 242.9l-0.5 2.2M493.2 241.6l-0.1 2.3M473.4 248.9l1.2 0.3M503.7 251.8l-0.9 0.8M501.2 262.8l1.7 0.0M459.7 243.5l0.9 2.3M502.0 246.9l-1.7 2.3M491.4 250.0l-0.8 2.6M502.2 248.0l1.0 1.2M460.5 252.3l-0.5 2.5M441.9 259.7l-2.3 1.7M441.8 257.0l-1.7 0.3M495.8 248.6l0.6 2.6M448.9 256.3l0.0 2.4M488.7 254.5l0.8 2.8M514.5 259.9l1.0 1.2M485.7 256.9l1.3 0.2M467.8 260.2l1.7 0.1M483.8 247.5l-2.4 0.8M458.7 251.8l-0.3 2.0M474.0 243.4l1.8 0.5M523.9 259.9l2.6 0.1M520.9 266.6l-1.6 1.8M476.3 244.8l-0.8 1.7M454.8 246.3l-0.1 1.9M494.3 243.4l-1.8 1.2M445.8 259.7l-2.0 0.1M508.5 258.4l2.4 0.0M506.3 258.5l-1.1 1.3M498.2 261.4l0.6 2.2M501.7 262.3l-1.3 0.4M460.7 249.4l1.2 1.9M518.9 251.0l-1.6 2.4M439.3 253.2l2.1 0.9M484.6 252.5l-1.8 2.0M477.7 257.4l1.2 0.2M478.9 238.4l1.1 0.8M494.7 241.2l-1.8 0.9M504.7 264.6l1.5 1.3M468.9 248.9l-1.7 1.2M444.5 252.1l-2.2 0.8M484.1 254.6l0.2 1.4M501.5 255.5l1.2 1.2M477.0 248.4l-0.3 2.7M519.5 253.8l-0.2 2.1M487.7 248.6l-0.4 2.2M465.5 248.4l-2.4 0.9M465.7 240.9l-2.1 0.7M475.6 252.1l-0.3 1.7M485.9 253.3l0.4 1.3M448.2 259.7l-0.8 1.2M463.5 257.7l-2.2 0.5M481.6 251.3l0.2 1.6M502.4 246.5l2.7 1.2M519.9 266.4l-2.3 0.1M496.2 258.3l1.9 1.8M523.6 261.1l0.1 1.8M460.8 246.3l-1.8 2.4M493.7 255.4l0.5 1.8M515.9 247.1l0.7 1.6M449.5 251.1l2.3 1.2M500.0 244.6l-0.0 1.8M485.5 260.2l2.6 1.1M443.6 254.8l-2.6 0.0M501.2 255.9l1.9 1.7M462.2 246.3l0.2 1.5M476.4 248.1l-1.1 2.1M521.8 264.7l-0.4 2.2M487.0 244.0l1.6 2.3M454.6 253.8l0.9 2.3M442.7 255.0l2.3 0.5M507.1 257.0l-0.5 2.1M478.0 259.8l-0.6 1.2M504.6 253.4l-0.5 1.3M460.6 250.0l-0.2 2.0M444.1 259.6l-0.2 2.4M519.5 252.6l-1.9 1.3M472.1 256.6l-2.6 1.3M491.0 262.6l-1.0 1.0M486.7 253.6l-2.3 0.8M477.9 244.3l1.6 0.5M476.3 257.0l-1.6 1.1M472.3 251.4l2.4 0.5M512.1 254.0l-2.3 1.0M504.1 247.2l2.3 0.8M482.6 249.3l1.8 0.2M467.7 253.2l-1.1 0.6M493.7 248.5l1.4 0.9M456.1 258.5l1.4 1.5M474.5 242.6l0.9 2.4M477.4 245.4l-1.1 1.3M449.9 245.7l-1.4 0.3M460.5 245.3l-0.1 1.5M531.4 258.6l-1.5 0.7M493.0 245.1l1.9 1.3M469.7 256.0l2.1 1.9M466.8 254.0l-0.8 1.2M448.6 250.5l-0.1 1.3M495.5 253.2l-1.2 0.4M488.2 248.2l2.2 1.4M502.6 245.4l-2.2 0.1M505.2 261.7l-1.1 1.9M462.9 253.2l-1.4 0.8M499.0 260.6l1.5 1.8M495.8 254.6l1.0 1.4M522.0 263.1l2.1 1.0M527.3 257.4l-0.1 1.4M496.7 251.4l0.5 2.3M484.2 250.3l-1.9 1.5M508.1 259.8l2.7 1.1M502.9 254.6l-1.4 1.4M488.0 239.3l1.2 1.0M516.8 248.1l2.6 1.5M463.5 258.1l-0.2 2.9M477.3 253.8l1.4 0.1M450.8 259.4l-1.0 1.6M519.8 254.3l-1.1 2.1M472.7 258.3l-0.4 1.4M524.1 257.6l-2.6 0.6" stroke="#d0d0d0" stroke-width="1.0" stroke-linecap="round" fill="none"/>
<path d="M461.5 242h0m21.5 0.5h0m8.5 0h0m12 1h0m-8.5 2.5h0m-29.5 1h0m-6 1.5h0m13.5-0.5h0m32.5 0h0m7.5 0h0m8.5 1.5h0m-44.5 2.5h0m31 0h0m-60.5 2.5h0m27.5 0h0m0-0.5h0m3.5 0h0m22.5-0.5h0m30 1.5h0m-70.5 1h0m17 0h0m12.5-0.5h0m0 0.5h0m-7 1h0m-37.5 1.5h0m2.5 0h0m41-1h0m-42.5 2.5h0m30 0.5h0m29.5 0h0m21.5 2.5h0m-16 1.5h0" stroke="#151515" stroke-width="1.60" stroke-linecap="round"/><path d="M473.5 240.5h0m9-0.5h0m-1.5 1h0m-27 3h0m17 0h0m-3.5 1h0m-12.5 0.5h0m10 1h0m14-1h0m28.5 0.5h0m-54 2.5h0m60.5 0.5h0m5 0.5h0m-79 3h0m15.5-0.5h0m67-0.5h0m-39 1.5h0m-41.5 1h0m16.5 0h0m5 0h0m-15 1h0m24.5 1.5h0m10.5-1h0m40 0.5h0m7-0.5h0m-89.5 1.5h0m2.5 0h0m88 1.5h0m-84 0.5h0m14.5 0h0m-16 1.5h0m34 0h0m7 0h0m17.5 1.5h0m-14 2h0m22 2h0m3.5-0.5h0" stroke="#151515" stroke-width="0.80" stroke-linecap="round"/><path d="M494 238.5h0m-8 2h0m-17.5 1.5h0m15.5 2.5h0m14-0.5h0m-29.5 2h0m10.5 2h0m16 0.5h0m4.5 0.5h0m8 1h0m-51 2.5h0m28.5-0.5h0m1.5 0.5h0m-50 1h0m43 0.5h0m41 0.5h0m-83 0.5h0m30.5 1.5h0m12-1h0m38 0.5h0m8.5 0h0m-88.5 1.5h0m5 0h0m12 1h0m55.5 2h0m4.5-1h0m9 0.5h0m-6 1h0m4.5 0h0m-14 3.5h0m15.5 1h0" stroke="#151515" stroke-width="1.20" stroke-linecap="round"/>
<polyline points="436.0,252.5 452.1,244.5 474.6,237.2 497.1,238.0 511.5,244.5 534.0,255.7" fill="none" stroke="#b8b8b8" stroke-width="1.0" stroke-linejoin="round" stroke-linecap="round" stroke-opacity="0.8"/>
</g>
<clipPath id="bc5"><polygon points="575.2,252.5 596.1,242.8 615.4,237.2 633.1,238.8 647.5,244.5 665.2,254.1 660.4,263.7 644.3,281.4 631.4,291.0 604.1,291.0 583.3,289.4 578.5,271.8"/></clipPath><g clip-path="url(#bc5)">
<polygon points="575.2,252.5 596.1,242.8 615.4,237.2 633.1,238.8 647.5,244.5 665.2,254.1 660.4,263.7 644.3,281.4 631.4,291.0 604.1,291.0 583.3,289.4 578.5,271.8" fill="#1a1a1a"/>
<path d="M603.3 282.7l1.0 5.7M595.5 269.4l0.7 4.4M586.0 282.5l-0.3 2.9M586.3 278.2l1.4 2.4M592.7 289.7l0.5 4.3M610.9 267.8l-1.0 5.5M597.5 278.9l1.3 2.8M594.7 282.9l-0.4 3.1M648.3 276.9l-1.2 4.0M657.6 264.0l-0.0 4.1M617.0 285.3l-1.1 2.5M581.0 266.5l-0.1 4.8M622.7 286.6l1.5 4.0M611.8 270.0l1.0 5.2M615.7 283.1l0.8 4.8M587.0 276.1l-0.9 4.6M633.3 266.9l0.1 5.8M621.8 265.4l0.4 5.8M637.3 271.0l-1.0 3.3M587.8 266.2l-0.1 3.1M600.9 282.1l0.8 2.6M651.0 269.9l-2.4 4.3M609.2 280.4l-1.9 4.6M576.4 258.6l1.5 3.0M592.4 278.9l0.2 2.5M611.2 267.4l-0.3 4.5M647.3 266.1l0.8 2.8M578.5 265.8l-0.3 5.4M586.3 272.0l-1.5 5.2M611.0 283.5l1.7 5.2M634.0 275.6l-2.0 4.2M605.0 268.4l-1.7 5.1M640.1 278.2l-1.5 3.5M599.0 275.2l1.8 5.3M618.8 273.7l-0.6 2.5M583.6 266.0l-1.1 2.9M587.1 269.2l2.7 5.3M640.6 275.1l-0.8 5.8M630.3 282.5l-1.7 5.2M620.9 272.7l0.8 3.4M659.1 265.1l0.4 2.6M581.9 275.5l1.6 5.7M599.9 285.4l-1.2 2.8M654.6 265.2l0.0 4.5M603.0 266.3l-0.0 3.5M627.7 286.6l0.1 5.6M618.8 280.7l-0.2 5.4M625.8 269.4l1.5 3.4M638.2 269.4l1.6 4.9M639.9 279.8l-0.7 3.8M613.6 284.3l1.9 4.1M622.6 282.1l-0.1 5.0M651.1 271.5l-0.9 2.4M644.8 267.2l0.9 4.0M628.5 269.4l1.1 2.3M644.5 276.1l1.4 2.5M615.5 283.8l-0.5 5.9M587.9 263.5l1.5 4.3M594.5 273.5l-0.7 2.9M646.9 275.7l1.6 4.8M607.3 278.6l2.4 4.6M603.4 278.1l-1.6 3.0M638.6 267.7l1.6 3.2M590.4 270.5l1.1 4.1M617.5 270.0l1.3 3.9M579.1 271.5l-2.1 4.4M588.5 280.9l-0.3 3.0M610.1 278.9l-0.1 2.6M589.3 266.3l-0.8 4.0M653.5 266.1l1.5 5.6M626.8 266.9l-1.5 3.2M582.5 266.6l0.1 3.0M651.0 265.4l-2.6 4.7M634.3 269.9l1.3 3.3M656.9 264.4l1.0 5.0M627.0 288.9l0.1 3.9M588.1 279.8l1.2 4.7M630.4 273.7l-1.4 5.7M629.2 274.9l-0.2 2.6M657.4 266.4l-0.1 3.3M605.6 285.9l-1.4 4.0M637.1 270.7l0.7 5.9M590.8 289.0l1.3 2.4M588.9 263.1l0.3 4.3M643.5 266.5l-1.1 3.1M623.8 279.7l-0.3 3.6M633.3 271.5l0.8 2.9M619.8 272.4l-0.1 4.9M651.5 265.9l1.3 3.7M620.5 288.4l-0.1 5.5M603.8 266.3l-0.9 2.8M640.2 278.4l0.9 5.1M584.6 268.1l-0.6 3.6M628.0 284.4l-0.4 3.1M630.8 290.7l0.1 4.8M610.2 282.3l-1.6 4.8M583.4 276.6l-0.3 4.1M581.7 266.7l1.0 2.4M639.1 272.3l1.5 4.7M640.4 267.4l-1.8 3.5M602.6 264.1l-0.3 4.7M596.6 289.7l1.7 5.7M611.2 281.7l0.8 3.5M629.1 279.3l-1.8 5.0M613.1 274.8l0.7 4.8M639.1 275.8l2.3 4.3M637.4 283.8l-1.9 3.3M600.7 284.4l1.1 2.4M591.1 267.4l-1.6 2.8M628.6 278.7l2.5 4.7M645.1 277.1l1.0 2.3M634.6 286.8l1.1 3.2M621.7 287.3l-1.2 2.9M582.7 284.0l2.0 3.9M621.8 282.6l1.4 5.6M601.9 285.2l1.5 2.9M626.4 272.9l-1.3 5.5M622.2 274.1l2.2 5.4M614.4 287.4l-0.4 3.3M583.1 283.8l-0.8 3.4M587.7 287.1l-0.2 4.0M621.8 289.1l-2.5 4.5M606.4 287.8l-1.5 4.0M602.9 270.7l0.8 3.2M598.6 283.0l1.7 3.8M614.8 285.7l-1.4 4.9M617.2 275.0l-0.3 3.5M609.6 266.9l0.8 2.7M608.4 267.4l0.7 5.1M614.6 273.1l-1.5 5.2M601.3 265.1l0.4 2.7M609.8 270.4l1.8 3.2M616.4 277.3l0.1 2.7M620.9 269.8l2.3 4.8M581.9 273.4l1.1 3.5M635.6 274.4l0.8 5.0M598.1 276.3l2.4 4.4M645.5 269.8l1.3 3.2M594.9 277.4l-1.5 3.0M639.0 277.0l-2.2 4.4M612.9 282.3l1.9 3.8M642.8 265.3l1.3 3.1M625.4 274.1l-0.8 3.4M590.4 270.8l0.6 4.8M605.2 272.6l-2.2 4.3M635.9 279.4l-0.5 5.2M621.8 288.1l-1.4 3.5M601.8 285.1l1.3 5.8M611.7 273.3l1.2 3.6M608.0 275.3l0.0 2.5M602.0 269.7l0.7 2.4M618.7 276.2l1.4 4.6M633.1 282.3l2.1 5.1M588.3 273.9l-1.0 3.0M653.8 269.7l-1.1 4.9M606.4 272.0l0.6 5.8M586.7 264.9l1.7 4.5M645.1 266.7l2.4 5.1M595.4 269.2l1.1 4.3M626.7 287.0l0.2 3.8M615.6 276.9l0.1 3.9M623.5 277.8l0.6 3.3M603.4 282.4l0.7 4.5M590.6 287.4l1.1 3.6M626.8 284.6l-0.1 3.4M601.7 269.4l0.2 3.8M600.8 284.3l-1.6 4.0M625.7 280.6l-0.3 4.4M605.3 290.1l1.1 5.6M627.6 286.8l-1.0 3.2M588.4 280.5l-0.7 2.5M596.0 274.4l0.8 3.3M597.2 272.7l-0.7 5.6M634.3 265.8l-0.3 4.6M607.3 266.1l-2.0 4.2M641.8 278.9l1.9 3.8M628.3 278.8l-2.1 4.8M583.7 279.9l-1.7 3.9M605.8 263.6l-0.2 5.4M620.5 269.1l1.4 5.0M586.7 268.1l-0.8 3.6M640.8 275.4l-1.6 3.2M610.0 277.0l-1.9 4.9M643.1 273.7l-1.4 5.5M609.3 275.6l-0.4 5.0M600.4 266.4l0.4 5.5M588.0 275.9l2.8 5.2M607.8 281.7l0.3 5.4M623.4 282.4l-1.9 3.3M583.3 266.6l-1.3 4.7M641.4 281.4l0.8 2.5M582.6 278.4l0.6 5.2M610.5 288.7l1.5 5.3M602.5 278.5l1.9 3.3M607.5 288.7l1.4 4.2M587.8 280.2l-2.2 4.4M590.7 281.7l2.4 4.6M607.1 287.5l-1.4 2.9M599.7 274.6l-1.8 4.2" stroke="#a8a8a8" stroke-width="1.15" stroke-linecap="round" fill="none"/>
<path d="M622.3 268.3l2.4-0.0M608.5 278.5l2.7 0.6M633.1 283.1l1.5 0.7M654.2 267.7l1.6-0.1M632.6 268.5l2.3 0.4M642.5 276.2l1.5 0.9M639.9 270.9l2.2-1.2M652.4 267.5l1.8 0.2M634.0 269.8l1.7-0.5M629.2 290.7l1.5-0.1M602.8 284.4l1.9 0.9M605.5 267.7l2.8 0.5M650.6 266.1l1.6 0.7M622.4 289.0l2.1-0.3M621.2 274.1l1.5-0.4M631.4 285.3l2.4-0.4M601.0 276.5l2.3 0.0M597.5 267.7l2.3 0.3M600.1 275.6l1.9 0.7M651.2 270.6l2.7 1.0M645.4 271.1l1.9-0.0M612.6 273.7l1.9-0.8M594.7 282.5l1.5 0.8M611.3 289.5l1.6-0.8M642.1 281.7l2.7-0.2M587.2 272.7l2.5 0.6M659.3 264.1l2.6-0.5M632.3 271.8l2.9-0.4M601.7 287.0l2.0 0.5M640.5 266.4l2.5-0.9M634.1 286.1l2.5 1.3M634.7 281.8l1.8 0.5M599.0 270.1l2.6-0.5M599.5 264.1l1.9 0.4M628.9 279.8l2.1-0.7M607.6 267.1l2.7-1.0M597.6 270.7l1.6-0.6M611.7 274.9l2.1 0.7M647.0 269.4l1.6 0.8M599.3 267.8l2.4-0.9M612.5 269.7l1.7-0.2M583.2 263.6l2.6 1.0M613.0 279.0l2.9-0.3M644.3 278.4l1.6 0.3M646.7 277.6l2.6-0.2M641.3 271.2l1.9-0.8M625.9 278.3l2.3-1.0M593.2 268.1l1.8 0.1M608.5 270.8l3.0-0.1M627.3 272.8l2.0 0.3M595.8 268.1l2.6-0.3M605.7 271.2l1.8-0.8M640.3 275.0l1.9 0.2M646.8 278.4l2.3-0.2M589.0 266.4l1.6 0.9M615.0 287.9l1.4 0.7M616.5 265.0l2.2 1.3M632.7 271.0l2.1-0.1M634.4 268.2l2.0 0.8M594.4 283.7l1.7-0.2M619.6 271.6l2.6-0.1M629.9 287.6l2.5-0.2M607.4 277.6l2.0-0.0M599.5 270.9l2.0 0.1M607.6 264.8l1.5 0.1M611.9 271.3l1.8 0.1M590.3 268.3l2.4-0.7M600.4 290.6l2.3 0.4M599.0 281.0l2.3-1.2M589.1 284.1l2.7 0.2M628.0 277.9l2.2 1.1M592.5 267.1l2.1 0.7M611.1 271.8l2.0 0.4M599.6 270.8l1.5 0.6M620.3 280.8l1.9 0.4M618.5 279.7l2.7 1.1M603.9 274.5l2.3-1.0M586.7 288.7l2.9 0.6M591.7 276.8l1.7-0.5M620.0 285.4l1.6-0.4M639.5 276.6l3.0 0.2M593.1 275.3l1.7 0.6" stroke="#a8a8a8" stroke-width="1.0" stroke-linecap="round" fill="none"/>
<polygon points="575.2,252.5 596.1,242.8 615.4,237.2 633.1,238.8 647.5,244.5 665.2,254.1 660.4,263.7 630.0,266.0 600.0,263.0 578.5,262.0" fill="#555555"/>
<path d="M599.1 255.9l-1.2 2.5M623.9 262.5l1.2 0.7M617.1 250.6l1.5 1.5M607.3 252.3l-0.4 2.3M633.7 256.3l0.9 1.0M628.0 255.3l-2.7 1.1M621.4 238.3l-1.6 0.4M639.3 244.6l-1.5 1.1M594.6 248.5l0.4 2.5M619.4 247.2l-0.8 2.4M614.9 254.4l-1.2 2.2M608.7 256.3l-0.2 1.4M602.3 256.3l1.0 2.1M655.5 262.5l0.4 1.3M632.3 254.2l2.6 0.7M619.1 251.0l-2.8 0.4M600.2 246.3l0.5 2.5M599.9 248.4l-0.9 1.0M592.0 252.5l1.7 1.1M637.9 257.5l1.4 0.2M634.3 253.0l-0.8 2.5M608.2 248.1l-1.6 0.2M611.6 257.1l-1.1 2.7M613.4 255.9l1.9 0.5M653.1 262.5l1.4 0.7M642.8 257.9l2.2 0.8M592.4 249.4l1.4 0.5M632.6 257.4l-2.1 0.9M602.8 246.6l1.6 0.5M624.4 257.4l-0.2 1.3M607.0 259.5l1.1 1.0M645.7 249.4l-0.9 1.2M593.1 257.1l2.5 0.2M601.5 256.2l-2.1 1.6M634.5 248.0l1.2 0.6M627.8 265.0l2.2 0.9M660.1 253.2l0.2 1.9M642.9 264.4l2.2 1.4M621.6 254.7l1.2 0.4M623.1 239.5l2.5 0.7M642.5 248.6l-1.9 1.1M600.9 259.8l-0.2 2.2M641.7 262.5l-0.6 1.4M609.4 250.9l-2.6 0.0M588.3 250.1l-2.0 0.0M611.2 261.2l-1.9 1.3M637.5 258.1l0.6 1.4M648.6 246.7l-1.1 2.7M602.2 258.5l-0.7 1.4M612.1 248.8l0.6 1.1M594.6 261.8l1.6 1.1M638.5 252.1l-1.2 0.8M598.9 252.4l-1.5 1.0M582.8 253.4l-1.0 1.4M581.5 260.8l0.4 1.8M645.1 262.5l-1.5 1.1M660.5 258.2l-1.2 0.5M610.0 260.2l1.9 2.3M652.1 249.4l1.4 0.2M645.0 253.0l1.4 0.6M617.8 241.9l-1.0 1.1M650.9 253.7l-1.4 2.4M631.1 262.2l1.1 1.4M589.4 253.0l-2.1 1.0M615.2 242.6l0.8 0.9M643.9 257.9l2.2 1.9M626.2 255.0l2.4 0.8M580.7 260.1l-1.4 0.5M611.3 259.6l-0.5 2.0M617.6 241.9l-1.2 0.1M582.7 258.5l-2.4 0.3M624.4 261.6l0.1 1.9M653.5 259.4l-1.3 0.6M618.9 252.0l-1.7 0.8M602.2 252.6l2.6 0.3M636.3 255.6l-1.5 2.6M605.4 242.7l-2.0 1.8M651.6 259.7l-2.9 0.1M648.6 247.1l1.1 2.7M647.7 253.8l-1.3 2.2M615.4 250.1l-1.9 0.8M609.7 253.3l-0.7 1.9M595.7 244.5l-1.3 2.0M659.4 253.1l0.6 1.8M609.7 258.0l-0.5 2.0M649.0 251.8l1.8 2.1M602.1 248.3l-1.5 1.4M658.3 256.8l0.8 1.8M586.9 251.5l-1.6 1.3M643.8 256.0l1.4 2.0M657.3 252.2l1.8 0.8M629.5 244.2l-1.3 1.7M614.3 243.4l-2.5 1.3M655.7 249.8l2.5 0.5M618.0 241.5l-2.4 1.5M604.6 251.3l-2.0 0.7M621.4 242.6l-0.6 1.8M608.2 240.2l1.3 0.3M620.7 260.7l2.6 0.0M639.0 265.2l-1.2 2.4M596.6 243.6l1.9 0.7M614.1 251.2l-0.8 1.4M615.0 242.7l0.7 1.3M594.8 249.2l0.1 1.9M603.0 255.0l1.2 1.5M652.8 258.6l1.7 0.1M637.4 254.8l0.7 1.7M621.5 263.6l-0.6 2.6M633.1 242.0l-1.7 1.7M624.5 253.4l-1.1 1.4M632.6 246.2l-1.6 0.4M625.2 241.5l-0.4 2.4M577.1 256.7l1.6 0.9M638.3 253.5l-0.2 2.5M588.8 250.4l-2.5 1.1M638.3 241.4l0.5 2.2M607.8 245.7l-1.2 1.2M660.5 258.3l-0.9 2.8M596.3 250.9l-2.0 1.1M626.4 244.9l0.4 2.4M611.9 242.0l-0.7 2.1M636.3 259.8l-0.9 0.9M612.5 242.3l-1.6 0.4M590.9 246.2l2.4 0.7M656.5 257.6l-0.4 2.3M606.7 246.1l2.0 0.6M634.0 260.3l0.4 1.8M605.8 250.9l0.4 1.4M641.2 244.4l2.2 2.0M613.3 243.1l2.4 1.3M660.2 261.8l-0.2 1.4M630.2 239.6l-1.5 0.8M601.1 243.7l-0.7 2.3M643.7 250.8l-1.2 1.7M587.7 260.1l2.8 0.8M607.5 246.9l-1.4 0.7M612.8 244.9l-1.7 1.7M638.4 248.5l-0.8 2.1M659.0 260.4l1.0 1.1M589.9 245.7l1.4 2.6M645.6 261.0l2.1 0.6M621.0 261.6l0.9 1.6M597.9 243.9l2.6 0.7M661.5 258.8l-0.4 2.2M649.0 254.8l-1.6 0.9M606.0 257.3l1.3 0.1M652.9 261.3l1.6 2.0M605.6 258.6l-2.3 0.0M640.2 253.4l-0.0 1.9M605.6 244.4l1.4 2.5M646.1 261.3l-0.8 1.2M600.7 253.0l-0.9 1.1M584.0 258.2l0.1 1.6M602.0 242.7l0.2 1.5M624.3 239.6l-0.1 1.4M627.4 251.5l0.9 1.9M587.6 251.8l1.5 1.4M626.9 245.0l1.4 1.0M654.3 262.9l-0.3 1.9M602.1 261.0l2.2 1.9M591.1 256.5l-1.0 1.1M656.3 256.4l2.5 1.5M621.1 244.3l-1.9 0.3M662.0 257.3l0.4 1.4M592.1 261.5l-2.2 1.8M603.5 255.9l-1.9 0.3M643.3 251.5l-0.1 1.2M608.8 240.4l-0.4 2.0M651.1 247.3l-0.7 2.2M619.1 241.9l-2.4 0.9M655.8 249.9l1.9 0.9M634.0 260.7l-0.2 1.3M656.9 253.2l1.2 0.1M631.4 249.9l0.0 2.1M607.7 252.1l-2.1 0.0M654.4 261.4l-1.7 2.2M657.2 262.4l2.0 0.7M584.8 249.6l0.6 1.6M641.3 246.7l-1.0 1.8M628.8 265.2l-2.5 0.4M638.7 247.5l1.7 0.2M591.2 255.5l-2.1 0.5M600.7 253.3l-2.1 1.0M606.1 248.5l-2.8 0.5M613.2 240.8l0.7 1.0M580.7 261.6l0.8 2.7M578.7 260.6l1.3 0.2M593.4 251.9l2.6 0.2M630.4 263.5l-0.3 1.5M609.6 251.0l-2.3 0.1M648.5 252.8l-1.1 1.7M641.2 260.7l1.4 1.5M616.9 238.2l-1.9 1.6M606.0 262.0l-2.1 1.2M615.3 239.4l-1.0 2.4M647.8 251.2l1.7 1.0M644.0 264.5l1.6 1.7M625.4 243.1l1.4 1.6M577.9 255.4l1.3 1.1M630.5 248.5l-2.1 0.6M632.6 246.3l-0.8 1.1M631.6 256.4l-1.2 2.4M620.5 253.5l-0.8 1.8M630.6 264.8l-0.9 2.0M603.2 260.4l-0.1 1.4M624.3 250.3l-2.0 1.4M645.1 264.8l-1.6 2.4M625.7 242.2l0.2 1.7M589.2 257.7l-1.1 1.4M603.5 255.4l2.6 0.7M660.8 260.4l-2.8 1.0M624.2 253.4l-1.0 2.5M636.8 256.4l-1.6 0.3M628.2 248.4l-2.7 0.1M592.1 257.6l-0.9 1.1M633.5 239.8l-1.3 0.6M644.6 255.3l-0.9 2.7M625.0 257.5l-1.6 0.6M605.5 247.8l-1.9 0.1M578.6 255.9l0.3 2.3M654.3 261.4l0.7 1.7M643.5 264.4l-0.1 1.8M603.7 252.4l-1.1 1.6M628.5 245.9l-2.2 0.0M602.5 257.4l2.4 0.4M644.5 255.6l1.2 2.4M606.6 254.3l-1.9 1.8M622.6 249.3l0.3 2.6M627.7 260.3l-0.7 1.0M599.7 259.3l-0.5 1.9M612.2 258.1l2.6 0.8M623.1 240.4l1.9 2.1M609.9 245.3l1.2 0.4M634.9 242.2l-1.6 1.8M599.3 258.4l-1.7 1.5M614.1 251.8l-2.6 0.8M648.9 250.6l-1.9 2.1M605.4 254.2l-1.9 0.3M598.8 249.8l0.3 1.9M609.8 253.3l1.1 2.5M653.1 259.0l-0.6 1.0M629.0 239.2l2.2 1.1M618.9 264.4l2.5 0.1M625.8 249.7l0.5 1.2M639.9 244.8l-1.6 1.7M632.3 263.4l-1.1 1.0M595.6 260.2l1.1 2.0M649.2 251.8l2.7 0.2M626.4 261.9l-0.8 1.4M657.1 260.0l0.2 1.5M592.5 249.4l0.8 1.2M594.9 245.3l-1.4 1.1M598.1 243.1l0.1 2.1M654.4 262.7l-0.8 2.0M595.8 258.3l-2.0 0.3M592.8 253.7l0.5 1.9M594.7 260.1l-0.6 1.3M629.7 246.7l1.2 2.1M610.0 244.1l1.0 1.0M618.5 238.3l-0.5 1.7M577.9 252.2l-0.8 1.1M602.4 260.0l2.2 1.5M633.6 256.2l0.4 1.3M610.7 247.8l-1.7 1.6M630.8 258.7l3.0 0.2M614.6 237.9l-1.6 1.5M620.1 256.5l-2.7 0.4M653.0 261.5l-0.3 1.7M607.5 263.4l2.5 0.7M657.9 250.7l-0.8 1.4M626.2 261.3l-2.5 0.3M642.9 256.9l1.7 0.0M620.5 254.1l-0.1 1.8M640.5 249.2l-0.9 2.5M632.0 264.1l-0.5 1.5M627.6 265.5l-2.2 0.9M620.4 251.9l0.2 2.4M616.7 247.9l-1.7 2.3M599.1 262.4l-0.0 1.5M639.7 255.3l1.3 0.5M604.7 241.4l1.2 0.5M631.2 261.6l0.5 1.4M603.0 245.9l-1.1 2.0M660.8 256.4l1.4 0.8M618.9 253.1l0.3 2.1M619.7 248.1l-2.2 0.5M638.5 249.1l1.9 1.4M650.2 258.3l-0.2 2.0M621.0 242.7l-1.7 1.3M600.0 252.1l-0.8 2.4M607.8 244.4l-0.2 1.4M583.1 255.2l1.2 2.6M602.9 242.9l2.8 0.5M587.2 256.3l2.2 1.8M625.2 250.4l-1.7 1.8M623.3 259.5l0.0 2.5M629.5 254.4l1.5 2.6M604.9 255.1l1.5 0.5M633.9 258.9l-0.8 1.4M610.6 241.6l-2.1 0.9M655.8 252.2l-0.1 2.2M590.5 252.3l-0.4 1.8M600.4 256.3l2.0 0.0M581.9 258.5l-2.7 0.4M659.0 253.1l1.4 0.3M656.7 261.8l1.5 1.9M626.2 247.4l2.4 0.4M619.8 262.1l-0.8 1.6M596.5 245.8l1.7 1.6M634.3 255.4l-0.3 1.5M617.5 241.8l1.1 1.1M638.9 243.8l-1.0 0.7M662.2 259.0l-1.0 0.6M599.4 245.1l-0.7 1.3M609.2 261.9l1.3 0.3M645.5 263.3l-1.9 1.5M626.1 248.5l-2.6 0.1M612.2 257.6l-1.4 0.5M625.2 264.7l-1.1 2.2M590.7 259.0l-1.0 2.7M602.9 247.0l2.0 0.8M579.0 258.4l-0.7 1.5M623.5 265.2l0.9 1.3M621.8 243.6l-1.8 1.8M586.1 258.6l1.4 0.4M654.7 259.2l-1.3 1.4M608.9 256.2l2.6 0.6M595.5 249.7l2.3 1.3M593.0 251.5l0.5 2.5M598.6 248.2l0.8 1.1M619.3 258.6l1.9 0.8M642.3 257.2l0.3 1.7M585.1 251.4l-0.1 1.7M646.8 244.6l0.9 2.2M615.6 259.0l-2.0 0.5M619.1 260.4l-1.4 0.8M621.8 262.4l0.3 1.3M626.0 256.4l1.8 0.7M648.9 247.6l-2.5 0.1M610.5 254.2l1.7 0.8M649.5 250.3l1.0 2.0M602.1 248.2l2.2 0.4M643.5 263.3l-0.9 1.2M599.1 262.0l2.2 0.5M634.1 254.2l2.8 0.9M623.5 246.1l1.1 1.5M642.9 249.2l-1.0 2.6M595.1 244.7l1.0 2.2M589.2 259.1l2.4 1.7M588.1 259.5l1.2 0.5M649.4 249.9l0.8 2.7M635.3 254.8l-1.1 0.6M600.7 250.0l0.4 2.5M611.9 240.5l1.0 2.3M629.1 250.3l1.4 1.6M608.6 258.8l-0.9 2.2M611.1 255.8l0.5 1.1M636.6 258.2l1.2 0.1M604.0 257.3l1.5 1.2M614.7 253.2l1.8 2.2M582.1 251.5l1.8 1.9M580.2 257.2l-2.5 1.6M599.4 245.7l1.9 0.5M640.0 258.0l1.5 1.1M583.0 260.5l-1.0 1.5M632.2 254.9l0.8 1.0M606.8 257.6l1.6 0.5M592.2 246.7l-0.6 1.5M628.2 239.7l-0.9 1.6M591.4 259.7l0.2 2.3M616.4 264.4l-1.3 1.2M647.1 249.9l1.3 0.9M607.4 257.7l-1.3 1.9M594.0 259.0l1.3 0.7M644.9 245.8l1.4 1.3M579.3 255.8l-2.5 0.4M635.1 240.4l0.2 1.2M611.5 254.4l-0.1 2.4M629.1 255.2l1.2 2.2M626.4 251.2l-1.3 0.2M660.6 254.1l1.8 0.9M592.3 247.4l-0.1 2.3M581.4 261.4l1.7 1.5M638.4 257.1l-2.6 0.2M656.4 256.7l-2.0 0.1M633.8 252.5l0.2 1.3M603.9 241.4l1.0 2.7M651.6 254.8l1.8 1.6M621.1 254.7l1.4 2.0M634.6 257.4l1.5 1.5M622.3 245.2l-1.3 0.8M578.3 257.4l1.3 1.0M622.6 263.3l1.5 0.4M609.6 242.6l-1.4 2.0M609.8 248.7l-0.2 2.9M590.0 260.4l-2.1 0.3M646.0 264.8l0.4 2.0M638.8 263.7l2.6 1.3M631.5 261.2l1.6 0.4M581.0 258.1l-0.4 1.2M618.2 238.0l2.3 0.8M599.8 249.1l0.1 2.6M605.9 260.2l1.2 0.6M614.1 245.8l-1.1 1.0M612.5 241.5l0.2 1.5M616.6 247.9l-1.9 0.2M644.3 246.7l2.0 1.4M641.9 247.7l1.4 1.7M587.4 249.9l-1.9 0.5M619.6 244.4l1.2 1.1M634.3 251.3l1.3 1.0M630.2 256.1l1.0 2.7M632.5 252.3l-0.9 2.7M627.1 253.6l-1.3 0.3M658.1 259.4l1.1 0.6M634.9 244.2l0.5 2.1M643.5 250.1l-2.2 0.6M594.6 245.1l0.3 1.6M639.0 258.4l1.0 0.9M647.3 252.8l-1.9 0.0M588.6 258.6l2.7 0.8M590.8 253.5l0.9 1.2M622.3 250.5l-1.5 1.0M605.6 262.1l2.8 1.1M655.8 257.6l1.4 0.6M594.3 248.4l0.6 1.2M656.4 252.8l2.1 1.2M635.4 242.1l-1.5 1.8M615.3 244.3l2.9 0.6M627.2 256.9l1.1 2.0M649.8 255.8l-2.6 0.6M637.1 256.3l-1.2 1.1M624.0 249.8l0.4 1.3M651.7 259.0l0.4 2.2M606.6 255.4l2.3 0.5M617.5 264.3l-1.5 2.1M630.3 263.6l-1.4 0.2M615.2 257.9l2.4 0.6M627.1 258.8l1.6 1.7M611.7 248.9l-1.5 0.5M647.4 262.5l0.4 1.3M599.1 251.9l-1.9 0.5M603.6 260.3l0.1 2.1M653.5 252.9l-0.2 1.6M616.5 261.8l-2.4 0.4M609.2 246.4l-1.7 1.6M619.1 244.4l-2.4 1.0M639.3 249.9l-1.2 0.6M654.6 260.4l1.1 2.2M636.9 240.8l-0.8 1.7M606.3 243.8l2.1 1.5M636.4 261.9l2.3 0.7M585.8 261.0l-2.8 0.4M587.4 254.0l-1.1 1.3M628.2 240.5l-2.3 1.7M657.8 255.1l-2.2 0.9M614.2 247.6l2.0 1.7M607.6 261.8l0.7 2.8M623.9 245.7l-1.6 2.5M597.6 254.6l1.5 1.7M615.8 252.8l1.6 0.8M580.5 255.9l0.1 1.2M596.4 250.9l-2.5 0.8M630.3 265.9l-2.6 1.0M613.8 244.3l1.5 0.9M627.3 260.9l1.7 0.9M608.7 244.8l0.4 2.4M617.2 262.5l-1.4 1.5M595.3 249.2l0.4 1.8M591.6 255.8l1.4 2.4M656.9 260.0l-1.1 0.8M615.6 263.6l-0.2 2.6M585.9 262.2l-0.9 2.4M619.9 241.1l0.9 2.2M630.0 245.4l-0.2 1.2M594.7 247.7l0.5 2.2M633.0 253.2l-2.3 1.9M605.9 255.6l-1.2 0.8M612.6 243.4l2.0 0.8M648.3 257.8l-1.7 1.0M625.9 255.1l-2.3 1.5M626.5 256.1l1.2 2.1M599.8 255.3l-2.4 0.7M582.3 257.5l0.5 1.2M632.6 260.6l0.9 1.2M605.9 248.7l1.9 1.6M630.2 254.4l-0.1 2.6M619.9 261.2l-1.3 2.7M617.3 241.9l0.9 2.1M658.5 257.3l-0.7 1.0M606.8 260.3l1.1 2.2M614.1 254.8l2.1 2.1M635.1 264.9l1.2 0.0M625.9 259.3l1.7 0.3M654.1 253.6l-1.4 0.8M621.2 247.2l-1.8 0.7M610.4 248.5l-0.2 2.3M589.0 260.3l0.4 2.7M606.4 241.0l-0.2 1.2M634.5 249.9l0.5 1.6M620.1 262.1l-1.0 2.8M608.4 246.4l-1.2 1.9M650.3 255.2l-0.3 2.3M635.1 241.2l2.5 1.3M627.8 250.6l-1.2 0.2M656.9 251.3l-1.3 0.9M626.3 241.7l2.1 0.0M604.3 250.7l0.8 1.0M654.5 252.1l2.0 0.5M599.0 247.2l-0.2 1.6M589.8 248.7l1.8 0.1M620.5 238.2l0.1 1.5M622.6 263.6l-1.6 1.8M599.4 250.4l1.4 2.0M616.7 255.9l-0.7 1.6M594.0 259.9l-0.6 1.6M620.6 246.4l-0.2 2.1M591.2 248.3l0.9 0.8M609.5 242.2l-0.4 2.2M628.9 248.0l1.5 2.1M587.1 255.8l-1.9 0.7M621.6 245.2l1.2 0.5M605.9 246.5l-1.7 2.2M590.1 258.9l2.0 0.9M638.2 265.2l1.9 0.4M612.0 254.8l-0.1 2.8M604.3 262.5l1.4 1.2M653.0 262.8l1.5 0.6M616.1 261.7l-0.6 2.2M579.7 257.6l-0.9 2.3M620.7 240.9l2.7 0.7M620.5 244.8l1.7 1.9" stroke="#d0d0d0" stroke-width="1.0" stroke-linecap="round" fill="none"/>
<path d="M611 240.5h0m6-1h0m-14 2h0m12 1h0m-1.5 1h0m10.5 3h0m24.5 0h0m-37 0.5h0m-3.5 0.5h0m-13 1.5h0m53.5 0h0m-54.5 0.5h0m-1.5 1.5h0m1 1.5h0m0.5 0h0m57.5-0.5h0m-52 1h0m-16.5 1.5h0m11.5 0h0m59 0.5h0m-61.5 1h0m-10 1h0m7.5 0h0m18.5 1.5h0m12 0h0m-3.5 0.5h0m-36 1h0m77.5 0h0m-42 3h0m8.5 0h0m8.5 0h0m-22.5 0.5h0m26 0.5h0m5.5-0.5h0m-11 2.5h0" stroke="#151515" stroke-width="0.80" stroke-linecap="round"/><path d="M624.5 238.5h0m-2.5 1h0m6.5 1h0m1 0.5h0m7.5 0h0m-29 0.5h0m31 1.5h0m4.5 2h0m-27.5 1.5h0m-11.5 3.5h0m10.5 0h0m-29 2h0m35.5 0h0m9.5 0h0m-33.5 1h0m45.5 2h0m-4 1h0m1 0h0m-48 4h0m12.5 0.5h0m38 0.5h0m19 0.5h0m-42.5 1.5h0m30 0.5h0" stroke="#151515" stroke-width="1.60" stroke-linecap="round"/><path d="M633 242.5h0m-35 5.5h0m36 0.5h0m7-1h0m-9 2.5h0m6 0.5h0m11 0.5h0m-56.5 1h0m2 0.5h0m29-0.5h0m-44.5 2h0m32 0h0m27 0.5h0m-59 0.5h0m16.5 1h0m22.5 2.5h0m30.5 0h0m-29.5 2.5h0m15 0.5h0m-30.5 1.5h0m24.5 0h0m-12.5 1h0" stroke="#151515" stroke-width="1.20" stroke-linecap="round"/>
<polyline points="575.2,252.5 596.1,242.8 615.4,237.2 633.1,238.8 647.5,244.5 665.2,254.1" fill="none" stroke="#b8b8b8" stroke-width="1.0" stroke-linejoin="round" stroke-linecap="round" stroke-opacity="0.8"/>
</g>
<text x="0.6" y="427.2" font-family="Liberation Serif" font-weight="bold" font-size="27.5">B</text>
<line x1="73.5" y1="420.29999999999995" x2="73.5" y2="580.4" stroke="#1e1e1e" stroke-width="1.1"/>
<line x1="68.8" y1="580.4" x2="309.8" y2="580.4" stroke="#1e1e1e" stroke-width="1.1"/>
<line x1="68.8" y1="580.4" x2="73.5" y2="580.4" stroke="#1e1e1e" stroke-width="1.1"/>
<text x="67.5" y="586.6" font-family="Liberation Serif" font-weight="bold" font-size="15.5" text-anchor="end">0.0</text>
<line x1="68.8" y1="548.5" x2="73.5" y2="548.5" stroke="#1e1e1e" stroke-width="1.1"/>
<text x="67.5" y="554.7" font-family="Liberation Serif" font-weight="bold" font-size="15.5" text-anchor="end">0.1</text>
<line x1="68.8" y1="516.6" x2="73.5" y2="516.6" stroke="#1e1e1e" stroke-width="1.1"/>
<text x="67.5" y="522.8" font-family="Liberation Serif" font-weight="bold" font-size="15.5" text-anchor="end">0.2</text>
<line x1="68.8" y1="484.7" x2="73.5" y2="484.7" stroke="#1e1e1e" stroke-width="1.1"/>
<text x="67.5" y="490.9" font-family="Liberation Serif" font-weight="bold" font-size="15.5" text-anchor="end">0.3</text>
<line x1="68.8" y1="452.79999999999995" x2="73.5" y2="452.79999999999995" stroke="#1e1e1e" stroke-width="1.1"/>
<text x="67.5" y="459.0" font-family="Liberation Serif" font-weight="bold" font-size="15.5" text-anchor="end">0.4</text>
<line x1="68.8" y1="420.9" x2="73.5" y2="420.9" stroke="#1e1e1e" stroke-width="1.1"/>
<text x="67.5" y="427.1" font-family="Liberation Serif" font-weight="bold" font-size="15.5" text-anchor="end">0.5</text>
<line x1="108" y1="451.6" x2="108" y2="473.1" stroke="#1400ff" stroke-width="1.8"/>
<line x1="100.98" y1="451.6" x2="115.02" y2="451.6" stroke="#1400ff" stroke-width="1.8"/>
<rect x="94.50" y="473.1" width="27" height="107.30" fill="#1400ff"/>
<rect x="93.90" y="473.1" width="28.20" height="1.6" fill="#1400ff"/>
<line x1="108" y1="580.4" x2="108" y2="585.0" stroke="#1e1e1e" stroke-width="1.1"/>
<text x="112.6" y="599.3" font-family="Liberation Serif" font-weight="bold" font-size="15.5" text-anchor="end" transform="rotate(-45 112.6 599.3)">Control group</text>
<line x1="149.8" y1="547.5" x2="149.8" y2="556.2" stroke="#ff2212" stroke-width="1.8"/>
<line x1="142.78" y1="547.5" x2="156.82000000000002" y2="547.5" stroke="#ff2212" stroke-width="1.8"/>
<rect x="136.30" y="556.2" width="27" height="24.20" fill="#ff2212"/>
<rect x="135.70" y="556.2" width="28.20" height="1.6" fill="#ff2212"/>
<line x1="149.8" y1="580.4" x2="149.8" y2="585.0" stroke="#1e1e1e" stroke-width="1.1"/>
<text x="154.4" y="599.3" font-family="Liberation Serif" font-weight="bold" font-size="15.5" text-anchor="end" transform="rotate(-45 154.4 599.3)">Model group</text>
<line x1="191.4" y1="520.7" x2="191.4" y2="539.1" stroke="#45e120" stroke-width="1.8"/>
<line x1="184.38" y1="520.7" x2="198.42000000000002" y2="520.7" stroke="#45e120" stroke-width="1.8"/>
<rect x="177.90" y="539.1" width="27" height="41.30" fill="#45e120"/>
<rect x="177.30" y="539.1" width="28.20" height="1.6" fill="#45e120"/>
<line x1="191.4" y1="580.4" x2="191.4" y2="585.0" stroke="#1e1e1e" stroke-width="1.1"/>
<text x="196.0" y="599.3" font-family="Liberation Serif" font-weight="bold" font-size="15.5" text-anchor="end" transform="rotate(-45 196.0 599.3)">OMT-H group</text>
<line x1="233" y1="526.8" x2="233" y2="533.6" stroke="#c822ff" stroke-width="1.8"/>
<line x1="225.98" y1="526.8" x2="240.02" y2="526.8" stroke="#c822ff" stroke-width="1.8"/>
<rect x="219.50" y="533.6" width="27" height="46.80" fill="#c822ff"/>
<rect x="218.90" y="533.6" width="28.20" height="1.6" fill="#c822ff"/>
<line x1="233" y1="580.4" x2="233" y2="585.0" stroke="#1e1e1e" stroke-width="1.1"/>
<text x="237.6" y="599.3" font-family="Liberation Serif" font-weight="bold" font-size="15.5" text-anchor="end" transform="rotate(-45 237.6 599.3)">OMT-M group</text>
<line x1="274.5" y1="539.9" x2="274.5" y2="541" stroke="#f0821f" stroke-width="1.8"/>
<line x1="267.48" y1="539.9" x2="281.52" y2="539.9" stroke="#f0821f" stroke-width="1.8"/>
<rect x="261.00" y="541" width="27" height="39.40" fill="#f0821f"/>
<rect x="260.40" y="541" width="28.20" height="1.6" fill="#f0821f"/>
<line x1="274.5" y1="580.4" x2="274.5" y2="585.0" stroke="#1e1e1e" stroke-width="1.1"/>
<text x="279.1" y="599.3" font-family="Liberation Serif" font-weight="bold" font-size="15.5" text-anchor="end" transform="rotate(-45 279.1 599.3)">OMT-L group</text>
<path d="M151.99 528.00L148.67 538.80M155.67 528.00L152.36 538.80M148.40 531.56H155.20M147.90 535.24H154.70" stroke="#ff2212" stroke-width="1.35" fill="none"/>
<ellipse cx="232.50" cy="504.91" rx="1.03" ry="1.81" fill="#c822ff" transform="rotate(0 232.50 504.91)"/>
<ellipse cx="230.34" cy="506.15" rx="1.03" ry="1.81" fill="#c822ff" transform="rotate(-60 230.34 506.15)"/>
<ellipse cx="230.34" cy="508.65" rx="1.03" ry="1.81" fill="#c822ff" transform="rotate(-120 230.34 508.65)"/>
<ellipse cx="232.50" cy="509.89" rx="1.03" ry="1.81" fill="#c822ff" transform="rotate(-180 232.50 509.89)"/>
<ellipse cx="234.66" cy="508.65" rx="1.03" ry="1.81" fill="#c822ff" transform="rotate(-240 234.66 508.65)"/>
<ellipse cx="234.66" cy="506.15" rx="1.03" ry="1.81" fill="#c822ff" transform="rotate(60 234.66 506.15)"/>
<circle cx="232.5" cy="507.4" r="0.95" fill="#c822ff"/>
<text x="40.9" y="498.6" font-family="Liberation Serif" font-weight="bold" font-size="15.6" text-anchor="middle" transform="rotate(-90 40.9 498.6)">BV/TV %</text>
<line x1="446.4" y1="424.29999999999995" x2="446.4" y2="579.05" stroke="#1e1e1e" stroke-width="1.1"/>
<line x1="441.7" y1="579.05" x2="677" y2="579.05" stroke="#1e1e1e" stroke-width="1.1"/>
<line x1="441.7" y1="579.05" x2="446.4" y2="579.05" stroke="#1e1e1e" stroke-width="1.1"/>
<text x="439.9" y="585.5" font-family="Liberation Serif" font-weight="bold" font-size="14.5" text-anchor="end">0.00</text>
<line x1="441.7" y1="527.6666666666666" x2="446.4" y2="527.6666666666666" stroke="#1e1e1e" stroke-width="1.1"/>
<text x="439.9" y="534.1" font-family="Liberation Serif" font-weight="bold" font-size="14.5" text-anchor="end">0.05</text>
<line x1="441.7" y1="476.2833333333333" x2="446.4" y2="476.2833333333333" stroke="#1e1e1e" stroke-width="1.1"/>
<text x="439.9" y="482.7" font-family="Liberation Serif" font-weight="bold" font-size="14.5" text-anchor="end">0.10</text>
<line x1="441.7" y1="424.9" x2="446.4" y2="424.9" stroke="#1e1e1e" stroke-width="1.1"/>
<text x="439.9" y="431.3" font-family="Liberation Serif" font-weight="bold" font-size="14.5" text-anchor="end">0.15</text>
<line x1="480.4" y1="461.1" x2="480.4" y2="469.4" stroke="#1400ff" stroke-width="1.8"/>
<line x1="473.51" y1="461.1" x2="487.28999999999996" y2="461.1" stroke="#1400ff" stroke-width="1.8"/>
<rect x="467.15" y="469.4" width="26.5" height="109.65" fill="#1400ff"/>
<rect x="466.55" y="469.4" width="27.70" height="1.6" fill="#1400ff"/>
<line x1="480.4" y1="579.05" x2="480.4" y2="583.65" stroke="#1e1e1e" stroke-width="1.1"/>
<text x="484.9" y="597.6" font-family="Liberation Serif" font-weight="bold" font-size="15.2" text-anchor="end" transform="rotate(-45 484.9 597.6)">Control group</text>
<line x1="520.9" y1="499.8" x2="520.9" y2="507.5" stroke="#ff2212" stroke-width="1.8"/>
<line x1="514.01" y1="499.8" x2="527.79" y2="499.8" stroke="#ff2212" stroke-width="1.8"/>
<rect x="507.65" y="507.5" width="26.5" height="71.55" fill="#ff2212"/>
<rect x="507.05" y="507.5" width="27.70" height="1.6" fill="#ff2212"/>
<line x1="520.9" y1="579.05" x2="520.9" y2="583.65" stroke="#1e1e1e" stroke-width="1.1"/>
<text x="525.4" y="597.6" font-family="Liberation Serif" font-weight="bold" font-size="15.2" text-anchor="end" transform="rotate(-45 525.4 597.6)">Model group</text>
<line x1="561.6" y1="488.1" x2="561.6" y2="495" stroke="#45e120" stroke-width="1.8"/>
<line x1="554.71" y1="488.1" x2="568.49" y2="488.1" stroke="#45e120" stroke-width="1.8"/>
<rect x="548.35" y="495" width="26.5" height="84.05" fill="#45e120"/>
<rect x="547.75" y="495" width="27.70" height="1.6" fill="#45e120"/>
<line x1="561.6" y1="579.05" x2="561.6" y2="583.65" stroke="#1e1e1e" stroke-width="1.1"/>
<text x="566.1" y="597.6" font-family="Liberation Serif" font-weight="bold" font-size="15.2" text-anchor="end" transform="rotate(-45 566.1 597.6)">OMT-H group</text>
<line x1="602.3" y1="479.3" x2="602.3" y2="489.9" stroke="#c822ff" stroke-width="1.8"/>
<line x1="595.41" y1="479.3" x2="609.1899999999999" y2="479.3" stroke="#c822ff" stroke-width="1.8"/>
<rect x="589.05" y="489.9" width="26.5" height="89.15" fill="#c822ff"/>
<rect x="588.45" y="489.9" width="27.70" height="1.6" fill="#c822ff"/>
<line x1="602.3" y1="579.05" x2="602.3" y2="583.65" stroke="#1e1e1e" stroke-width="1.1"/>
<text x="606.8" y="597.6" font-family="Liberation Serif" font-weight="bold" font-size="15.2" text-anchor="end" transform="rotate(-45 606.8 597.6)">OMT-M group</text>
<line x1="642.7" y1="494.7" x2="642.7" y2="501.2" stroke="#f0821f" stroke-width="1.8"/>
<line x1="635.8100000000001" y1="494.7" x2="649.59" y2="494.7" stroke="#f0821f" stroke-width="1.8"/>
<rect x="629.45" y="501.2" width="26.5" height="77.85" fill="#f0821f"/>
<rect x="628.85" y="501.2" width="27.70" height="1.6" fill="#f0821f"/>
<line x1="642.7" y1="579.05" x2="642.7" y2="583.65" stroke="#1e1e1e" stroke-width="1.1"/>
<text x="647.2" y="597.6" font-family="Liberation Serif" font-weight="bold" font-size="15.2" text-anchor="end" transform="rotate(-45 647.2 597.6)">OMT-L group</text>
<path d="M524.88 481.40L521.62 492.00M528.68 481.40L525.42 492.00M521.25 484.90H528.25M520.75 488.50H527.75" stroke="#ff2212" stroke-width="1.35" fill="none"/>
<ellipse cx="603.60" cy="459.22" rx="0.98" ry="1.72" fill="#c822ff" transform="rotate(0 603.60 459.22)"/>
<ellipse cx="601.54" cy="460.41" rx="0.98" ry="1.72" fill="#c822ff" transform="rotate(-60 601.54 460.41)"/>
<ellipse cx="601.54" cy="462.79" rx="0.98" ry="1.72" fill="#c822ff" transform="rotate(-120 601.54 462.79)"/>
<ellipse cx="603.60" cy="463.98" rx="0.98" ry="1.72" fill="#c822ff" transform="rotate(-180 603.60 463.98)"/>
<ellipse cx="605.66" cy="462.79" rx="0.98" ry="1.72" fill="#c822ff" transform="rotate(-240 605.66 462.79)"/>
<ellipse cx="605.66" cy="460.41" rx="0.98" ry="1.72" fill="#c822ff" transform="rotate(60 605.66 460.41)"/>
<circle cx="603.6" cy="461.6" r="0.90" fill="#c822ff"/>
<text x="406" y="529.4" font-family="Liberation Serif" font-weight="bold" font-size="15.1" text-anchor="middle" transform="rotate(-90 406 529.4)">Tb.Th</text>
<text x="406" y="478.6" font-family="Liberation Serif" font-weight="bold" font-size="13.3" text-anchor="middle" transform="rotate(-90 406 478.6)">mm</text>
<line x1="75.05" y1="691.1" x2="75.05" y2="804.3" stroke="#1e1e1e" stroke-width="1.1"/>
<line x1="75.05" y1="807.7" x2="75.05" y2="836.2" stroke="#1e1e1e" stroke-width="1.1"/>
<line x1="71.05" y1="804.3" x2="78.75" y2="804.3" stroke="#1e1e1e" stroke-width="1.1"/>
<line x1="71.05" y1="807.7" x2="78.75" y2="807.7" stroke="#1e1e1e" stroke-width="1.1"/>
<line x1="70.35" y1="836.2" x2="288.7" y2="836.2" stroke="#1e1e1e" stroke-width="1.1"/>
<line x1="70.35" y1="691.1" x2="75.05" y2="691.1" stroke="#1e1e1e" stroke-width="1.1"/>
<text x="69.2" y="696.4" font-family="Liberation Serif" font-weight="bold" font-size="14" text-anchor="end">900</text>
<line x1="70.35" y1="766.3" x2="75.05" y2="766.3" stroke="#1e1e1e" stroke-width="1.1"/>
<text x="69.2" y="771.6" font-family="Liberation Serif" font-weight="bold" font-size="14" text-anchor="end">800</text>
<line x1="70.35" y1="808" x2="75.05" y2="808" stroke="#1e1e1e" stroke-width="1.1"/>
<text x="69.2" y="813.3" font-family="Liberation Serif" font-weight="bold" font-size="14" text-anchor="end">200</text>
<line x1="70.35" y1="822.1" x2="75.05" y2="822.1" stroke="#1e1e1e" stroke-width="1.1"/>
<text x="69.2" y="827.4" font-family="Liberation Serif" font-weight="bold" font-size="14" text-anchor="end">100</text>
<line x1="70.35" y1="836.2" x2="75.05" y2="836.2" stroke="#1e1e1e" stroke-width="1.1"/>
<text x="69.2" y="841.5" font-family="Liberation Serif" font-weight="bold" font-size="14" text-anchor="end">0</text>
<line x1="106.3" y1="727.5" x2="106.3" y2="739.8" stroke="#1400ff" stroke-width="1.8"/>
<line x1="99.92999999999999" y1="727.5" x2="112.67" y2="727.5" stroke="#1400ff" stroke-width="1.8"/>
<rect x="94.05" y="739.8" width="24.5" height="96.40" fill="#1400ff"/>
<rect x="93.45" y="739.8" width="25.70" height="1.6" fill="#1400ff"/>
<line x1="106.3" y1="836.2" x2="106.3" y2="840.8000000000001" stroke="#1e1e1e" stroke-width="1.1"/>
<text x="110.5" y="853.3" font-family="Liberation Serif" font-weight="bold" font-size="14" text-anchor="end" transform="rotate(-45 110.5 853.3)">Control group</text>
<line x1="143.9" y1="773.4" x2="143.9" y2="779.2" stroke="#ff2212" stroke-width="1.8"/>
<line x1="137.53" y1="773.4" x2="150.27" y2="773.4" stroke="#ff2212" stroke-width="1.8"/>
<rect x="131.65" y="779.2" width="24.5" height="57.00" fill="#ff2212"/>
<rect x="131.05" y="779.2" width="25.70" height="1.6" fill="#ff2212"/>
<line x1="143.9" y1="836.2" x2="143.9" y2="840.8000000000001" stroke="#1e1e1e" stroke-width="1.1"/>
<text x="148.1" y="853.3" font-family="Liberation Serif" font-weight="bold" font-size="14" text-anchor="end" transform="rotate(-45 148.1 853.3)">Model group</text>
<line x1="181.2" y1="739.8" x2="181.2" y2="750.9" stroke="#45e120" stroke-width="1.8"/>
<line x1="174.82999999999998" y1="739.8" x2="187.57" y2="739.8" stroke="#45e120" stroke-width="1.8"/>
<rect x="168.95" y="750.9" width="24.5" height="85.30" fill="#45e120"/>
<rect x="168.35" y="750.9" width="25.70" height="1.6" fill="#45e120"/>
<line x1="181.2" y1="836.2" x2="181.2" y2="840.8000000000001" stroke="#1e1e1e" stroke-width="1.1"/>
<text x="185.4" y="853.3" font-family="Liberation Serif" font-weight="bold" font-size="14" text-anchor="end" transform="rotate(-45 185.4 853.3)">OMT-H group</text>
<line x1="218.7" y1="731.6" x2="218.7" y2="745" stroke="#c822ff" stroke-width="1.8"/>
<line x1="212.32999999999998" y1="731.6" x2="225.07" y2="731.6" stroke="#c822ff" stroke-width="1.8"/>
<rect x="206.45" y="745" width="24.5" height="91.20" fill="#c822ff"/>
<rect x="205.85" y="745" width="25.70" height="1.6" fill="#c822ff"/>
<line x1="218.7" y1="836.2" x2="218.7" y2="840.8000000000001" stroke="#1e1e1e" stroke-width="1.1"/>
<text x="222.9" y="853.3" font-family="Liberation Serif" font-weight="bold" font-size="14" text-anchor="end" transform="rotate(-45 222.9 853.3)">OMT-M group</text>
<line x1="256.4" y1="730.4" x2="256.4" y2="742.1" stroke="#f0821f" stroke-width="1.8"/>
<line x1="250.02999999999997" y1="730.4" x2="262.77" y2="730.4" stroke="#f0821f" stroke-width="1.8"/>
<rect x="244.15" y="742.1" width="24.5" height="94.10" fill="#f0821f"/>
<rect x="243.55" y="742.1" width="25.70" height="1.6" fill="#f0821f"/>
<line x1="256.4" y1="836.2" x2="256.4" y2="840.8000000000001" stroke="#1e1e1e" stroke-width="1.1"/>
<text x="260.6" y="853.3" font-family="Liberation Serif" font-weight="bold" font-size="14" text-anchor="end" transform="rotate(-45 260.6 853.3)">OMT-L group</text>
<rect x="81.8" y="804.3" width="199.09999999999997" height="3.400000000000091" fill="#fff"/>
<path d="M143.50 758.10L140.99 765.90M146.52 758.10L144.01 765.90M140.75 760.67H146.35M140.25 763.33H145.85" stroke="#ff2212" stroke-width="1.35" fill="none"/>
<ellipse cx="218.40" cy="715.74" rx="0.94" ry="1.64" fill="#c822ff" transform="rotate(0 218.40 715.74)"/>
<ellipse cx="216.44" cy="716.87" rx="0.94" ry="1.64" fill="#c822ff" transform="rotate(-60 216.44 716.87)"/>
<ellipse cx="216.44" cy="719.13" rx="0.94" ry="1.64" fill="#c822ff" transform="rotate(-120 216.44 719.13)"/>
<ellipse cx="218.40" cy="720.26" rx="0.94" ry="1.64" fill="#c822ff" transform="rotate(-180 218.40 720.26)"/>
<ellipse cx="220.36" cy="719.13" rx="0.94" ry="1.64" fill="#c822ff" transform="rotate(-240 220.36 719.13)"/>
<ellipse cx="220.36" cy="716.87" rx="0.94" ry="1.64" fill="#c822ff" transform="rotate(60 220.36 716.87)"/>
<circle cx="218.4" cy="718" r="0.86" fill="#c822ff"/>
<ellipse cx="256.30" cy="716.84" rx="0.94" ry="1.64" fill="#f0821f" transform="rotate(0 256.30 716.84)"/>
<ellipse cx="254.34" cy="717.97" rx="0.94" ry="1.64" fill="#f0821f" transform="rotate(-60 254.34 717.97)"/>
<ellipse cx="254.34" cy="720.23" rx="0.94" ry="1.64" fill="#f0821f" transform="rotate(-120 254.34 720.23)"/>
<ellipse cx="256.30" cy="721.36" rx="0.94" ry="1.64" fill="#f0821f" transform="rotate(-180 256.30 721.36)"/>
<ellipse cx="258.26" cy="720.23" rx="0.94" ry="1.64" fill="#f0821f" transform="rotate(-240 258.26 720.23)"/>
<ellipse cx="258.26" cy="717.97" rx="0.94" ry="1.64" fill="#f0821f" transform="rotate(60 258.26 717.97)"/>
<circle cx="256.3" cy="719.1" r="0.86" fill="#f0821f"/>
<text x="41" y="761.6" font-family="Liberation Serif" font-weight="bold" font-size="14" text-anchor="middle" transform="rotate(-90 41 761.6)">BMD (g/cm<tspan font-size="9" dy="-5">2</tspan><tspan dy="5">)</tspan></text>
<line x1="448.95" y1="687.8" x2="448.95" y2="836.4" stroke="#1e1e1e" stroke-width="1.1"/>
<line x1="444.25" y1="836.4" x2="671.8" y2="836.4" stroke="#1e1e1e" stroke-width="1.1"/>
<line x1="444.25" y1="836.4" x2="448.95" y2="836.4" stroke="#1e1e1e" stroke-width="1.1"/>
<text x="443.4" y="842.8" font-family="Liberation Serif" font-weight="bold" font-size="14.3" text-anchor="end">0</text>
<line x1="444.25" y1="806.8" x2="448.95" y2="806.8" stroke="#1e1e1e" stroke-width="1.1"/>
<text x="443.4" y="813.2" font-family="Liberation Serif" font-weight="bold" font-size="14.3" text-anchor="end">10</text>
<line x1="444.25" y1="777.1999999999999" x2="448.95" y2="777.1999999999999" stroke="#1e1e1e" stroke-width="1.1"/>
<text x="443.4" y="783.6" font-family="Liberation Serif" font-weight="bold" font-size="14.3" text-anchor="end">20</text>
<line x1="444.25" y1="747.5999999999999" x2="448.95" y2="747.5999999999999" stroke="#1e1e1e" stroke-width="1.1"/>
<text x="443.4" y="754.0" font-family="Liberation Serif" font-weight="bold" font-size="14.3" text-anchor="end">30</text>
<line x1="444.25" y1="718.0" x2="448.95" y2="718.0" stroke="#1e1e1e" stroke-width="1.1"/>
<text x="443.4" y="724.4" font-family="Liberation Serif" font-weight="bold" font-size="14.3" text-anchor="end">40</text>
<line x1="444.25" y1="688.4" x2="448.95" y2="688.4" stroke="#1e1e1e" stroke-width="1.1"/>
<text x="443.4" y="694.8" font-family="Liberation Serif" font-weight="bold" font-size="14.3" text-anchor="end">50</text>
<line x1="481.5" y1="760.1" x2="481.5" y2="766.9" stroke="#1400ff" stroke-width="1.8"/>
<line x1="474.792" y1="760.1" x2="488.208" y2="760.1" stroke="#1400ff" stroke-width="1.8"/>
<rect x="468.60" y="766.9" width="25.8" height="69.50" fill="#1400ff"/>
<rect x="468.00" y="766.9" width="27.00" height="1.6" fill="#1400ff"/>
<line x1="481.5" y1="836.4" x2="481.5" y2="841.0" stroke="#1e1e1e" stroke-width="1.1"/>
<text x="485.8" y="854.2" font-family="Liberation Serif" font-weight="bold" font-size="14.6" text-anchor="end" transform="rotate(-45 485.8 854.2)">Control group</text>
<line x1="520.9" y1="703.6" x2="520.9" y2="716.5" stroke="#ff2212" stroke-width="1.8"/>
<line x1="514.192" y1="703.6" x2="527.608" y2="703.6" stroke="#ff2212" stroke-width="1.8"/>
<rect x="508.00" y="716.5" width="25.8" height="119.90" fill="#ff2212"/>
<rect x="507.40" y="716.5" width="27.00" height="1.6" fill="#ff2212"/>
<line x1="520.9" y1="836.4" x2="520.9" y2="841.0" stroke="#1e1e1e" stroke-width="1.1"/>
<text x="525.2" y="854.2" font-family="Liberation Serif" font-weight="bold" font-size="14.6" text-anchor="end" transform="rotate(-45 525.2 854.2)">Model group</text>
<line x1="560.2" y1="726.5" x2="560.2" y2="739.7" stroke="#45e120" stroke-width="1.8"/>
<line x1="553.4920000000001" y1="726.5" x2="566.908" y2="726.5" stroke="#45e120" stroke-width="1.8"/>
<rect x="547.30" y="739.7" width="25.8" height="96.70" fill="#45e120"/>
<rect x="546.70" y="739.7" width="27.00" height="1.6" fill="#45e120"/>
<line x1="560.2" y1="836.4" x2="560.2" y2="841.0" stroke="#1e1e1e" stroke-width="1.1"/>
<text x="564.5" y="854.2" font-family="Liberation Serif" font-weight="bold" font-size="14.6" text-anchor="end" transform="rotate(-45 564.5 854.2)">OMT-H group</text>
<line x1="599.5" y1="732.9" x2="599.5" y2="745.1" stroke="#c822ff" stroke-width="1.8"/>
<line x1="592.792" y1="732.9" x2="606.208" y2="732.9" stroke="#c822ff" stroke-width="1.8"/>
<rect x="586.60" y="745.1" width="25.8" height="91.30" fill="#c822ff"/>
<rect x="586.00" y="745.1" width="27.00" height="1.6" fill="#c822ff"/>
<line x1="599.5" y1="836.4" x2="599.5" y2="841.0" stroke="#1e1e1e" stroke-width="1.1"/>
<text x="603.8" y="854.2" font-family="Liberation Serif" font-weight="bold" font-size="14.6" text-anchor="end" transform="rotate(-45 603.8 854.2)">OMT-M group</text>
<line x1="638.5" y1="715.4" x2="638.5" y2="725.8" stroke="#f0821f" stroke-width="1.8"/>
<line x1="631.792" y1="715.4" x2="645.208" y2="715.4" stroke="#f0821f" stroke-width="1.8"/>
<rect x="625.60" y="725.8" width="25.8" height="110.60" fill="#f0821f"/>
<rect x="625.00" y="725.8" width="27.00" height="1.6" fill="#f0821f"/>
<line x1="638.5" y1="836.4" x2="638.5" y2="841.0" stroke="#1e1e1e" stroke-width="1.1"/>
<text x="642.8" y="854.2" font-family="Liberation Serif" font-weight="bold" font-size="14.6" text-anchor="end" transform="rotate(-45 642.8 854.2)">OMT-L group</text>
<path d="M521.15 689.65L518.24 698.95M524.78 689.65L521.87 698.95M517.80 692.72H524.50M517.30 695.88H524.00" stroke="#ff2212" stroke-width="1.35" fill="none"/>
<ellipse cx="599.00" cy="718.64" rx="0.94" ry="1.64" fill="#c822ff" transform="rotate(0 599.00 718.64)"/>
<ellipse cx="597.04" cy="719.77" rx="0.94" ry="1.64" fill="#c822ff" transform="rotate(-60 597.04 719.77)"/>
<ellipse cx="597.04" cy="722.03" rx="0.94" ry="1.64" fill="#c822ff" transform="rotate(-120 597.04 722.03)"/>
<ellipse cx="599.00" cy="723.16" rx="0.94" ry="1.64" fill="#c822ff" transform="rotate(-180 599.00 723.16)"/>
<ellipse cx="600.96" cy="722.03" rx="0.94" ry="1.64" fill="#c822ff" transform="rotate(-240 600.96 722.03)"/>
<ellipse cx="600.96" cy="719.77" rx="0.94" ry="1.64" fill="#c822ff" transform="rotate(60 600.96 719.77)"/>
<circle cx="599" cy="720.9" r="0.86" fill="#c822ff"/>
<text x="421" y="764.5" font-family="Liberation Serif" font-weight="bold" font-size="14.3" text-anchor="middle" transform="rotate(-90 421 764.5)">BS/BV&#160;&#160;&#160;1/mm</text>
</svg></body></html>
